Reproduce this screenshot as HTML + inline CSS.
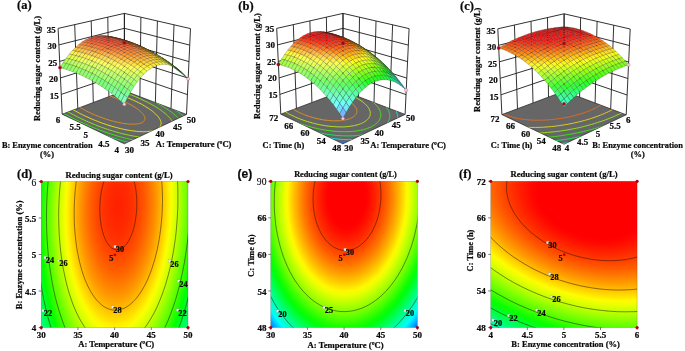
<!DOCTYPE html>
<html><head><meta charset="utf-8"><title>Response surface plots</title>
<style>html,body{margin:0;padding:0;background:#fff}svg{display:block;will-change:transform}text{stroke:#0a0a0a;stroke-width:.22px}</style></head>
<body>
<svg width="685" height="351" viewBox="0 0 685 351" font-weight="bold" fill="#0a0a0a">
<defs></defs>
<rect width="685" height="351" fill="#fff"/>
<clipPath id="ba"><path d="M124.3 143.8L186.5 114.4L124.4 90.8L62.2 114.2Z"/></clipPath>
<path d="M124.3 143.8L186.5 114.4L124.4 90.8L62.2 114.2Z" fill="#666666" stroke="#222" stroke-width="0.7"/>
<g clip-path="url(#ba)" fill="none" stroke-width="1.0">
<path stroke="#1ee09e" d="M193.5 146.9 L192.1 147.5 L190.5 148.2 L188.9 148.7 L187.1 149.2 L185.3 149.7 L183.3 150.1 L181.3 150.5 L179.1 150.7 L176.9 151.0 L174.6 151.1 L172.2 151.2 L169.7 151.3 L167.1 151.2 L164.5 151.2 L161.8 151.0 L159.0 150.8 L156.2 150.5 L153.3 150.2 L150.3 149.8 L147.3 149.3 L144.3 148.8 L141.2 148.2 L138.0 147.6 L134.8 146.9 L131.6 146.1 L128.3 145.3 L125.0 144.4 L121.7 143.5 L118.4 142.5 L115.0 141.4 L111.7 140.4 L108.3 139.2 L104.9 138.0 L101.6 136.8 L98.2 135.5 L94.8 134.2 L91.5 132.9 L88.2 131.5 L84.9 130.0 L81.6 128.6 L78.3 127.1 L75.1 125.6 L71.9 124.0 L68.8 122.5 L65.7 120.9 L62.6 119.3 L59.6 117.7 L56.7 116.1 L53.8 114.5 L51.0 112.8 L48.2 111.2 L45.6 109.5 L43.0 107.9 L40.4 106.3 L38.0 104.7 L35.6 103.0 L33.3 101.4 L31.1 99.8 L29.0 98.3 L27.0 96.7 L25.1 95.2 L23.3 93.7 L21.5 92.2 L19.9 90.7 L18.4 89.3 L17.0 87.9 L15.7 86.6 L14.5 85.2 L13.4 83.9 L12.4 82.7 L11.6 81.5 L10.9 80.3 L10.2 79.1 L9.7 78.1 L9.3 77.0 L9.1 76.0 L8.9 75.0 L8.9 74.1 L8.9 73.3 L9.1 72.4 L9.4 71.7 L9.9 70.9 L10.4 70.2 L11.1 69.6 L11.9 69.0 L12.7 68.5 L13.7 68.0 L14.9 67.6 L16.1 67.2 L17.4 66.8 L18.9 66.5 L20.4 66.3 L22.1 66.1 L23.8 65.9 L25.7 65.8 L27.6 65.8 L29.7 65.8 L31.8 65.8 L34.0 65.9 L36.3 66.0 L38.7 66.1 L41.2 66.3 L43.8 66.6 L46.4 66.8 L49.1 67.2 L51.9 67.5 L54.7 67.9 L57.6 68.3 L60.6 68.8 L63.6 69.3 L66.7 69.9 L69.8 70.4 L72.9 71.0 L76.1 71.7 L79.3 72.4 L82.6 73.1 L85.9 73.8 L89.2 74.6 L92.5 75.4 L95.9 76.2 L99.3 77.1 L102.6 78.0 L106.0 78.9 L109.4 79.8 L112.7 80.8 L116.1 81.8 L119.4 82.8 L122.8 83.8 L126.1 84.9 L129.3 86.0 L132.6 87.1 L135.8 88.3 L139.0 89.4 L142.1 90.6 L145.2 91.8 L148.3 93.0 L151.3 94.2 L154.2 95.5 L157.1 96.8 L159.9 98.0 L162.7 99.3 L165.4 100.6 L168.0 102.0 L170.5 103.3 L173.0 104.7 L175.3 106.0 L177.6 107.4 L179.8 108.8 L181.9 110.1 L183.9 111.5 L185.8 112.9 L187.7 114.3 L189.4 115.7 L191.0 117.1 L192.5 118.4 L193.9 119.8 L195.2 121.2 L196.4 122.6 L197.5 123.9 L198.5 125.3 L199.3 126.6 L200.1 127.9 L200.7 129.2 L201.2 130.5 L201.6 131.7 L201.9 133.0 L202.0 134.2 L202.1 135.4 L202.0 136.5 L201.8 137.7 L201.5 138.8 L201.1 139.8 L200.5 140.9 L199.8 141.8 L199.1 142.8 L198.2 143.7 L197.2 144.6 L196.1 145.4 L194.8 146.1 L193.5 146.9Z"/>
<path stroke="#1ee04d" d="M185.9 143.4 L184.6 144.0 L183.2 144.5 L181.7 145.0 L180.1 145.5 L178.4 145.9 L176.6 146.2 L174.7 146.5 L172.8 146.8 L170.8 147.0 L168.6 147.1 L166.4 147.2 L164.2 147.2 L161.8 147.2 L159.4 147.1 L157.0 147.0 L154.4 146.8 L151.8 146.5 L149.2 146.2 L146.5 145.8 L143.7 145.4 L140.9 144.9 L138.1 144.4 L135.2 143.8 L132.3 143.2 L129.3 142.5 L126.3 141.7 L123.3 140.9 L120.3 140.1 L117.3 139.2 L114.2 138.2 L111.1 137.3 L108.1 136.2 L105.0 135.1 L101.9 134.0 L98.8 132.9 L95.7 131.7 L92.7 130.5 L89.6 129.2 L86.6 127.9 L83.6 126.6 L80.7 125.3 L77.7 123.9 L74.8 122.5 L71.9 121.1 L69.1 119.7 L66.3 118.2 L63.6 116.8 L60.9 115.3 L58.3 113.8 L55.7 112.3 L53.2 110.9 L50.7 109.4 L48.3 107.9 L46.0 106.4 L43.8 104.9 L41.6 103.5 L39.5 102.0 L37.5 100.6 L35.6 99.1 L33.7 97.7 L32.0 96.3 L30.3 95.0 L28.7 93.6 L27.3 92.3 L25.9 91.0 L24.6 89.7 L23.4 88.5 L22.3 87.2 L21.3 86.1 L20.4 84.9 L19.7 83.8 L19.0 82.7 L18.4 81.7 L18.0 80.7 L17.6 79.7 L17.3 78.8 L17.2 77.9 L17.2 77.0 L17.2 76.2 L17.4 75.5 L17.7 74.7 L18.1 74.1 L18.6 73.4 L19.2 72.8 L19.9 72.3 L20.7 71.8 L21.6 71.3 L22.7 70.9 L23.8 70.5 L25.0 70.2 L26.3 69.9 L27.7 69.7 L29.2 69.5 L30.8 69.3 L32.5 69.2 L34.3 69.2 L36.2 69.1 L38.1 69.1 L40.2 69.2 L42.3 69.3 L44.5 69.4 L46.7 69.6 L49.1 69.8 L51.5 70.0 L54.0 70.3 L56.5 70.6 L59.1 71.0 L61.7 71.4 L64.4 71.8 L67.2 72.3 L70.0 72.8 L72.8 73.3 L75.7 73.9 L78.6 74.4 L81.6 75.1 L84.6 75.7 L87.6 76.4 L90.6 77.1 L93.7 77.9 L96.7 78.6 L99.8 79.4 L102.9 80.2 L105.9 81.1 L109.0 82.0 L112.1 82.9 L115.2 83.8 L118.2 84.7 L121.3 85.7 L124.3 86.7 L127.3 87.7 L130.3 88.7 L133.2 89.8 L136.1 90.8 L139.0 91.9 L141.8 93.0 L144.6 94.2 L147.3 95.3 L150.0 96.5 L152.7 97.7 L155.2 98.8 L157.8 100.0 L160.2 101.2 L162.6 102.5 L164.9 103.7 L167.1 104.9 L169.3 106.2 L171.4 107.5 L173.4 108.7 L175.3 110.0 L177.2 111.3 L178.9 112.5 L180.6 113.8 L182.2 115.1 L183.6 116.3 L185.0 117.6 L186.3 118.9 L187.5 120.1 L188.6 121.4 L189.6 122.6 L190.5 123.8 L191.3 125.0 L191.9 126.2 L192.5 127.4 L193.0 128.6 L193.3 129.7 L193.6 130.8 L193.7 131.9 L193.8 133.0 L193.7 134.1 L193.5 135.1 L193.2 136.1 L192.8 137.0 L192.3 138.0 L191.7 138.8 L191.0 139.7 L190.2 140.5 L189.3 141.3 L188.3 142.0 L187.1 142.7 L185.9 143.4Z"/>
<path stroke="#3ee01e" d="M177.6 139.5 L176.4 140.0 L175.1 140.5 L173.8 140.9 L172.3 141.3 L170.8 141.7 L169.2 142.0 L167.5 142.2 L165.8 142.4 L164.0 142.6 L162.1 142.7 L160.1 142.8 L158.1 142.8 L156.0 142.8 L153.8 142.7 L151.6 142.5 L149.3 142.4 L147.0 142.1 L144.6 141.9 L142.2 141.5 L139.8 141.1 L137.2 140.7 L134.7 140.2 L132.1 139.7 L129.5 139.1 L126.8 138.5 L124.2 137.8 L121.5 137.1 L118.8 136.4 L116.0 135.6 L113.3 134.7 L110.5 133.9 L107.8 133.0 L105.0 132.0 L102.3 131.0 L99.5 130.0 L96.8 128.9 L94.0 127.9 L91.3 126.7 L88.6 125.6 L85.9 124.4 L83.2 123.2 L80.6 122.0 L78.0 120.8 L75.4 119.6 L72.9 118.3 L70.4 117.0 L67.9 115.7 L65.5 114.4 L63.2 113.1 L60.9 111.8 L58.6 110.5 L56.4 109.2 L54.3 107.9 L52.2 106.5 L50.2 105.2 L48.2 103.9 L46.4 102.6 L44.6 101.4 L42.8 100.1 L41.2 98.8 L39.6 97.6 L38.1 96.3 L36.7 95.1 L35.4 94.0 L34.2 92.8 L33.0 91.6 L31.9 90.5 L31.0 89.4 L30.1 88.4 L29.3 87.3 L28.6 86.3 L28.0 85.4 L27.5 84.4 L27.1 83.5 L26.7 82.6 L26.5 81.8 L26.4 81.0 L26.3 80.2 L26.4 79.5 L26.6 78.8 L26.8 78.1 L27.2 77.5 L27.6 76.9 L28.2 76.4 L28.8 75.9 L29.5 75.4 L30.3 75.0 L31.3 74.6 L32.3 74.3 L33.4 73.9 L34.5 73.7 L35.8 73.4 L37.2 73.3 L38.6 73.1 L40.1 73.0 L41.7 72.9 L43.4 72.9 L45.1 72.9 L47.0 72.9 L48.9 73.0 L50.8 73.1 L52.8 73.2 L54.9 73.4 L57.1 73.6 L59.3 73.9 L61.6 74.1 L63.9 74.5 L66.3 74.8 L68.7 75.2 L71.2 75.6 L73.7 76.0 L76.2 76.5 L78.8 77.0 L81.4 77.5 L84.1 78.1 L86.7 78.7 L89.4 79.3 L92.2 80.0 L94.9 80.6 L97.6 81.3 L100.4 82.0 L103.1 82.8 L105.9 83.6 L108.7 84.4 L111.4 85.2 L114.2 86.0 L116.9 86.9 L119.6 87.7 L122.3 88.6 L125.0 89.6 L127.7 90.5 L130.3 91.5 L132.9 92.4 L135.5 93.4 L138.0 94.4 L140.5 95.5 L143.0 96.5 L145.4 97.6 L147.8 98.6 L150.1 99.7 L152.3 100.8 L154.5 101.9 L156.7 103.0 L158.7 104.1 L160.7 105.2 L162.7 106.4 L164.5 107.5 L166.3 108.6 L168.1 109.8 L169.7 110.9 L171.3 112.1 L172.8 113.2 L174.2 114.4 L175.5 115.5 L176.8 116.6 L177.9 117.8 L179.0 118.9 L180.0 120.0 L180.8 121.1 L181.6 122.2 L182.3 123.3 L182.9 124.4 L183.5 125.4 L183.9 126.4 L184.2 127.5 L184.4 128.5 L184.5 129.4 L184.6 130.4 L184.5 131.3 L184.4 132.2 L184.1 133.1 L183.7 133.9 L183.3 134.7 L182.8 135.5 L182.1 136.3 L181.4 137.0 L180.6 137.7 L179.7 138.3 L178.7 138.9 L177.6 139.5Z"/>
<path stroke="#8de01e" d="M168.1 135.1 L167.1 135.5 L166.0 136.0 L164.8 136.3 L163.5 136.6 L162.2 136.9 L160.8 137.2 L159.4 137.4 L157.9 137.6 L156.3 137.7 L154.6 137.8 L152.9 137.8 L151.2 137.8 L149.3 137.8 L147.5 137.7 L145.5 137.6 L143.6 137.4 L141.6 137.2 L139.5 137.0 L137.4 136.7 L135.2 136.4 L133.1 136.0 L130.9 135.6 L128.6 135.1 L126.3 134.6 L124.0 134.1 L121.7 133.5 L119.4 132.9 L117.0 132.2 L114.6 131.6 L112.3 130.8 L109.9 130.1 L107.5 129.3 L105.1 128.5 L102.7 127.6 L100.3 126.8 L97.9 125.9 L95.5 124.9 L93.2 124.0 L90.8 123.0 L88.5 122.0 L86.2 121.0 L83.9 119.9 L81.6 118.9 L79.4 117.8 L77.2 116.7 L75.0 115.6 L72.9 114.5 L70.8 113.4 L68.7 112.3 L66.7 111.2 L64.8 110.0 L62.8 108.9 L61.0 107.8 L59.2 106.7 L57.4 105.5 L55.8 104.4 L54.1 103.3 L52.6 102.2 L51.1 101.1 L49.6 100.0 L48.3 98.9 L47.0 97.9 L45.8 96.8 L44.6 95.8 L43.5 94.8 L42.5 93.8 L41.6 92.8 L40.7 91.9 L40.0 90.9 L39.3 90.0 L38.7 89.2 L38.2 88.3 L37.7 87.5 L37.4 86.7 L37.1 85.9 L36.9 85.2 L36.8 84.5 L36.7 83.8 L36.8 83.1 L36.9 82.5 L37.2 81.9 L37.5 81.4 L37.8 80.9 L38.3 80.4 L38.9 79.9 L39.5 79.5 L40.2 79.1 L41.0 78.8 L41.9 78.5 L42.8 78.2 L43.9 77.9 L45.0 77.7 L46.1 77.5 L47.4 77.4 L48.7 77.3 L50.1 77.2 L51.5 77.1 L53.1 77.1 L54.6 77.2 L56.3 77.2 L58.0 77.3 L59.8 77.4 L61.6 77.6 L63.4 77.7 L65.4 77.9 L67.3 78.2 L69.4 78.4 L71.4 78.7 L73.5 79.1 L75.7 79.4 L77.9 79.8 L80.1 80.2 L82.3 80.7 L84.6 81.1 L86.9 81.6 L89.2 82.1 L91.5 82.7 L93.9 83.2 L96.3 83.8 L98.7 84.4 L101.0 85.1 L103.4 85.7 L105.8 86.4 L108.2 87.1 L110.6 87.8 L113.0 88.6 L115.4 89.3 L117.8 90.1 L120.1 90.9 L122.5 91.7 L124.8 92.5 L127.1 93.4 L129.3 94.3 L131.6 95.1 L133.8 96.0 L135.9 96.9 L138.1 97.8 L140.2 98.8 L142.2 99.7 L144.2 100.7 L146.2 101.6 L148.1 102.6 L149.9 103.6 L151.7 104.5 L153.5 105.5 L155.2 106.5 L156.8 107.5 L158.4 108.5 L159.8 109.5 L161.3 110.5 L162.6 111.5 L163.9 112.5 L165.2 113.5 L166.3 114.5 L167.4 115.5 L168.4 116.5 L169.3 117.5 L170.2 118.4 L170.9 119.4 L171.6 120.3 L172.2 121.3 L172.8 122.2 L173.2 123.1 L173.6 124.0 L173.8 124.9 L174.0 125.7 L174.2 126.6 L174.2 127.4 L174.1 128.2 L174.0 128.9 L173.8 129.7 L173.5 130.4 L173.1 131.1 L172.6 131.8 L172.1 132.4 L171.4 133.0 L170.7 133.6 L169.9 134.1 L169.0 134.6 L168.1 135.1Z"/>
<path stroke="#e0e01e" d="M156.2 129.6 L155.3 130.0 L154.4 130.3 L153.5 130.5 L152.5 130.8 L151.4 131.0 L150.3 131.2 L149.1 131.4 L147.9 131.5 L146.6 131.6 L145.3 131.7 L143.9 131.7 L142.5 131.7 L141.0 131.6 L139.5 131.6 L137.9 131.5 L136.3 131.3 L134.7 131.1 L133.0 130.9 L131.3 130.7 L129.6 130.4 L127.8 130.1 L126.0 129.8 L124.2 129.4 L122.4 129.0 L120.5 128.6 L118.6 128.1 L116.7 127.6 L114.8 127.1 L112.9 126.6 L111.0 126.0 L109.0 125.4 L107.1 124.8 L105.2 124.1 L103.2 123.5 L101.3 122.8 L99.3 122.0 L97.4 121.3 L95.5 120.5 L93.6 119.8 L91.7 119.0 L89.8 118.2 L88.0 117.3 L86.1 116.5 L84.3 115.6 L82.5 114.8 L80.8 113.9 L79.1 113.0 L77.4 112.1 L75.7 111.2 L74.1 110.3 L72.5 109.4 L71.0 108.5 L69.5 107.6 L68.0 106.7 L66.6 105.8 L65.2 104.9 L63.9 104.0 L62.6 103.2 L61.4 102.3 L60.3 101.4 L59.2 100.5 L58.1 99.7 L57.1 98.8 L56.2 98.0 L55.3 97.2 L54.5 96.4 L53.8 95.6 L53.1 94.8 L52.4 94.1 L51.9 93.3 L51.4 92.6 L51.0 91.9 L50.6 91.3 L50.3 90.6 L50.1 90.0 L49.9 89.4 L49.8 88.8 L49.8 88.2 L49.9 87.7 L50.0 87.2 L50.2 86.7 L50.4 86.2 L50.7 85.8 L51.1 85.4 L51.5 85.0 L52.1 84.7 L52.6 84.3 L53.3 84.0 L54.0 83.8 L54.8 83.5 L55.6 83.3 L56.5 83.1 L57.4 83.0 L58.4 82.8 L59.5 82.7 L60.6 82.6 L61.8 82.6 L63.0 82.6 L64.3 82.6 L65.6 82.6 L67.0 82.7 L68.5 82.7 L69.9 82.9 L71.4 83.0 L73.0 83.2 L74.6 83.3 L76.2 83.6 L77.9 83.8 L79.6 84.1 L81.3 84.3 L83.1 84.6 L84.9 85.0 L86.7 85.3 L88.6 85.7 L90.4 86.1 L92.3 86.5 L94.2 87.0 L96.1 87.4 L98.0 87.9 L99.9 88.4 L101.9 89.0 L103.8 89.5 L105.8 90.1 L107.7 90.6 L109.6 91.2 L111.6 91.8 L113.5 92.5 L115.4 93.1 L117.3 93.8 L119.2 94.4 L121.1 95.1 L122.9 95.8 L124.8 96.5 L126.6 97.3 L128.4 98.0 L130.1 98.8 L131.9 99.5 L133.5 100.3 L135.2 101.1 L136.8 101.8 L138.4 102.6 L140.0 103.4 L141.5 104.2 L142.9 105.0 L144.3 105.8 L145.7 106.7 L147.0 107.5 L148.3 108.3 L149.5 109.1 L150.7 109.9 L151.8 110.7 L152.8 111.5 L153.8 112.4 L154.7 113.2 L155.6 114.0 L156.4 114.8 L157.2 115.6 L157.9 116.3 L158.5 117.1 L159.0 117.9 L159.5 118.6 L160.0 119.4 L160.3 120.1 L160.6 120.8 L160.8 121.5 L161.0 122.2 L161.1 122.9 L161.1 123.5 L161.1 124.1 L160.9 124.8 L160.8 125.3 L160.5 125.9 L160.2 126.5 L159.8 127.0 L159.4 127.5 L158.9 128.0 L158.3 128.4 L157.6 128.8 L156.9 129.2 L156.2 129.6Z"/>
<path stroke="#e08c1e" d="M141.5 122.9 L140.9 123.1 L140.2 123.3 L139.6 123.5 L138.8 123.6 L138.1 123.8 L137.3 123.9 L136.4 124.0 L135.6 124.1 L134.7 124.1 L133.7 124.2 L132.7 124.2 L131.7 124.2 L130.7 124.1 L129.6 124.1 L128.5 124.0 L127.4 123.9 L126.2 123.8 L125.0 123.6 L123.8 123.5 L122.6 123.3 L121.3 123.0 L120.1 122.8 L118.8 122.5 L117.5 122.3 L116.1 122.0 L114.8 121.6 L113.5 121.3 L112.1 120.9 L110.7 120.6 L109.4 120.2 L108.0 119.7 L106.6 119.3 L105.2 118.9 L103.9 118.4 L102.5 117.9 L101.1 117.4 L99.7 116.9 L98.4 116.4 L97.0 115.8 L95.7 115.3 L94.4 114.7 L93.0 114.1 L91.7 113.6 L90.5 113.0 L89.2 112.4 L88.0 111.8 L86.7 111.1 L85.5 110.5 L84.3 109.9 L83.2 109.3 L82.1 108.6 L81.0 108.0 L79.9 107.4 L78.9 106.8 L77.9 106.1 L76.9 105.5 L76.0 104.9 L75.1 104.2 L74.2 103.6 L73.4 103.0 L72.6 102.4 L71.9 101.8 L71.1 101.2 L70.5 100.6 L69.9 100.0 L69.3 99.5 L68.8 98.9 L68.3 98.4 L67.8 97.8 L67.4 97.3 L67.1 96.8 L66.8 96.3 L66.5 95.8 L66.3 95.3 L66.2 94.9 L66.0 94.5 L66.0 94.0 L66.0 93.6 L66.0 93.2 L66.1 92.9 L66.2 92.5 L66.4 92.2 L66.6 91.8 L66.9 91.5 L67.2 91.3 L67.6 91.0 L68.0 90.8 L68.4 90.5 L68.9 90.3 L69.5 90.1 L70.1 90.0 L70.7 89.8 L71.4 89.7 L72.1 89.6 L72.8 89.5 L73.6 89.4 L74.5 89.4 L75.3 89.4 L76.3 89.4 L77.2 89.4 L78.2 89.4 L79.2 89.5 L80.2 89.5 L81.3 89.6 L82.4 89.7 L83.6 89.9 L84.7 90.0 L85.9 90.2 L87.1 90.3 L88.3 90.6 L89.6 90.8 L90.9 91.0 L92.2 91.3 L93.5 91.5 L94.8 91.8 L96.1 92.1 L97.5 92.4 L98.8 92.8 L100.2 93.1 L101.5 93.5 L102.9 93.9 L104.3 94.3 L105.7 94.7 L107.1 95.1 L108.4 95.5 L109.8 96.0 L111.2 96.4 L112.5 96.9 L113.9 97.4 L115.2 97.9 L116.6 98.4 L117.9 98.9 L119.2 99.4 L120.5 99.9 L121.7 100.5 L123.0 101.0 L124.2 101.5 L125.4 102.1 L126.6 102.7 L127.7 103.2 L128.8 103.8 L129.9 104.4 L131.0 105.0 L132.0 105.5 L133.1 106.1 L134.0 106.7 L135.0 107.3 L135.9 107.9 L136.7 108.5 L137.5 109.1 L138.3 109.6 L139.1 110.2 L139.8 110.8 L140.4 111.4 L141.1 112.0 L141.6 112.5 L142.2 113.1 L142.6 113.6 L143.1 114.2 L143.5 114.7 L143.8 115.2 L144.1 115.8 L144.4 116.3 L144.6 116.8 L144.8 117.3 L144.9 117.7 L144.9 118.2 L145.0 118.7 L144.9 119.1 L144.8 119.5 L144.7 119.9 L144.5 120.3 L144.3 120.7 L144.0 121.1 L143.7 121.4 L143.4 121.7 L143.0 122.0 L142.5 122.3 L142.0 122.6 L141.5 122.9Z"/>
</g>
<path d="M62.2 114.2L58.1 28.4M186.5 114.4L190.5 28.6M77.8 108.4L74.7 24.6M171.0 108.5L174.0 24.8M93.3 102.5L91.2 20.9M155.4 102.6L157.4 21.0M108.9 96.6L107.8 17.1M139.9 96.7L140.9 17.2M124.4 90.8L124.4 13.4M124.4 90.8L124.4 13.4M61.3 94.4L124.4 72.9L187.4 94.6M60.5 77.9L124.4 58.1L188.2 78.1M59.7 61.4L124.4 43.2L189.0 61.6M58.9 44.9L124.4 28.3L189.7 45.1M58.1 28.4L124.4 13.4L190.5 28.6" fill="none" stroke="#1c1c1c" stroke-width="0.9"/>
<g stroke="#15150a" stroke-opacity="0.52" stroke-width="0.38" stroke-linejoin="round">
<polygon points="124.4,42.6 127.6,44.8 124.4,43.9 121.2,41.8" fill="#6d8c37"/>
<polygon points="121.1,40.6 124.4,42.6 121.2,41.8 117.9,39.9" fill="#8e9937"/>
<polygon points="127.6,43.5 130.9,45.8 127.6,44.8 124.4,42.6" fill="#6c8b37"/>
<polygon points="117.9,39.0 121.1,40.6 117.9,39.9 114.6,38.4" fill="#a89b37"/>
<polygon points="130.9,44.5 134.1,46.9 130.9,45.8 127.6,43.5" fill="#6c8b37"/>
<polygon points="124.4,41.5 127.6,43.5 124.4,42.6 121.1,40.6" fill="#8e9937"/>
<polygon points="114.6,37.8 117.9,39.0 114.6,38.4 111.4,37.1" fill="#b88f37"/>
<polygon points="121.1,39.8 124.4,41.5 121.1,40.6 117.9,39.0" fill="#a89a37"/>
<polygon points="127.6,42.4 130.9,44.5 127.6,43.5 124.4,41.5" fill="#8d9837"/>
<polygon points="134.1,45.6 137.3,48.0 134.1,46.9 130.9,44.5" fill="#6a8a37"/>
<polygon points="111.3,36.8 114.6,37.8 111.4,37.1 108.1,36.3" fill="#ca8237"/>
<polygon points="117.9,38.5 121.1,39.8 117.9,39.0 114.6,37.8" fill="#b88e37"/>
<polygon points="124.4,40.7 127.6,42.4 124.4,41.5 121.1,39.8" fill="#a79a37"/>
<polygon points="130.9,43.4 134.1,45.6 130.9,44.5 127.6,42.4" fill="#8c9837"/>
<polygon points="137.3,46.7 140.5,49.3 137.3,48.0 134.1,45.6" fill="#688a37"/>
<polygon points="108.0,36.3 111.3,36.8 108.1,36.3 104.8,35.7" fill="#dd7437"/>
<polygon points="121.1,39.3 124.4,40.7 121.1,39.8 117.9,38.5" fill="#b88e37"/>
<polygon points="127.6,41.6 130.9,43.4 127.6,42.4 124.4,40.7" fill="#a79b37"/>
<polygon points="140.6,48.0 143.7,50.6 140.5,49.3 137.3,46.7" fill="#668a37"/>
<polygon points="114.6,37.5 117.9,38.5 114.6,37.8 111.3,36.8" fill="#ca8137"/>
<polygon points="134.1,44.5 137.3,46.7 134.1,45.6 130.9,43.4" fill="#8a9837"/>
<polygon points="104.8,36.1 108.0,36.3 104.8,35.7 101.5,35.6" fill="#ea6537"/>
<polygon points="111.3,36.9 114.6,37.5 111.3,36.8 108.0,36.3" fill="#de7337"/>
<polygon points="117.8,38.3 121.1,39.3 117.9,38.5 114.6,37.5" fill="#cb8137"/>
<polygon points="124.4,40.2 127.6,41.6 124.4,40.7 121.1,39.3" fill="#b88f37"/>
<polygon points="130.9,42.7 134.1,44.5 130.9,43.4 127.6,41.6" fill="#a79d37"/>
<polygon points="137.3,45.7 140.6,48.0 137.3,46.7 134.1,44.5" fill="#889837"/>
<polygon points="143.8,49.3 147.0,52.0 143.7,50.6 140.6,48.0" fill="#648a37"/>
<polygon points="101.5,36.2 104.8,36.1 101.5,35.6 98.2,35.7" fill="#f15937"/>
<polygon points="114.6,37.6 117.8,38.3 114.6,37.5 111.3,36.9" fill="#df7337"/>
<polygon points="134.1,43.8 137.3,45.7 134.1,44.5 130.9,42.7" fill="#a8a037"/>
<polygon points="147.0,50.8 150.2,53.5 147.0,52.0 143.8,49.3" fill="#618a37"/>
<polygon points="108.0,36.7 111.3,36.9 108.0,36.3 104.8,36.1" fill="#ea6437"/>
<polygon points="121.1,39.1 124.4,40.2 121.1,39.3 117.8,38.3" fill="#cb8237"/>
<polygon points="127.6,41.2 130.9,42.7 127.6,41.6 124.4,40.2" fill="#b99137"/>
<polygon points="140.6,47.0 143.8,49.3 140.6,48.0 137.3,45.7" fill="#859837"/>
<polygon points="98.2,36.7 101.5,36.2 98.2,35.7 94.9,36.3" fill="#f85237"/>
<polygon points="104.7,36.8 108.0,36.7 104.8,36.1 101.5,36.2" fill="#f25737"/>
<polygon points="111.3,37.4 114.6,37.6 111.3,36.9 108.0,36.7" fill="#eb6337"/>
<polygon points="117.8,38.4 121.1,39.1 117.8,38.3 114.6,37.6" fill="#e07337"/>
<polygon points="124.4,40.1 127.6,41.2 124.4,40.2 121.1,39.1" fill="#cc8437"/>
<polygon points="130.9,42.3 134.1,43.8 130.9,42.7 127.6,41.2" fill="#b99437"/>
<polygon points="137.4,45.1 140.6,47.0 137.3,45.7 134.1,43.8" fill="#a8a337"/>
<polygon points="143.8,48.4 147.0,50.8 143.8,49.3 140.6,47.0" fill="#829937"/>
<polygon points="150.2,52.3 153.4,55.1 150.2,53.5 147.0,50.8" fill="#5d8b37"/>
<polygon points="94.9,37.6 98.2,36.7 94.9,36.3 91.7,37.2" fill="#ff5037"/>
<polygon points="101.5,37.3 104.7,36.8 101.5,36.2 98.2,36.7" fill="#f94f37"/>
<polygon points="108.0,37.5 111.3,37.4 108.0,36.7 104.7,36.8" fill="#f25637"/>
<polygon points="114.5,38.1 117.8,38.4 114.6,37.6 111.3,37.4" fill="#eb6337"/>
<polygon points="121.1,39.4 124.4,40.1 121.1,39.1 117.8,38.4" fill="#e17537"/>
<polygon points="127.6,41.2 130.9,42.3 127.6,41.2 124.4,40.1" fill="#cd8737"/>
<polygon points="134.1,43.5 137.4,45.1 134.1,43.8 130.9,42.3" fill="#ba9837"/>
<polygon points="140.6,46.4 143.8,48.4 140.6,47.0 137.4,45.1" fill="#a9a837"/>
<polygon points="147.0,49.9 150.2,52.3 147.0,50.8 143.8,48.4" fill="#7e9937"/>
<polygon points="153.4,53.9 156.6,56.8 153.4,55.1 150.2,52.3" fill="#598b37"/>
<polygon points="91.7,38.9 94.9,37.6 91.7,37.2 88.4,38.5" fill="#ff5437"/>
<polygon points="104.7,37.9 108.0,37.5 104.7,36.8 101.5,37.3" fill="#fa4e37"/>
<polygon points="111.3,38.2 114.5,38.1 111.3,37.4 108.0,37.5" fill="#f35637"/>
<polygon points="124.4,40.4 127.6,41.2 124.4,40.1 121.1,39.4" fill="#e27837"/>
<polygon points="137.4,44.8 140.6,46.4 137.4,45.1 134.1,43.5" fill="#bb9d37"/>
<polygon points="143.8,47.8 147.0,49.9 143.8,48.4 140.6,46.4" fill="#a6a937"/>
<polygon points="156.6,55.6 159.8,58.5 156.6,56.8 153.4,53.9" fill="#548c37"/>
<polygon points="98.2,38.2 101.5,37.3 98.2,36.7 94.9,37.6" fill="#ff4d37"/>
<polygon points="117.8,39.0 121.1,39.4 117.8,38.4 114.5,38.1" fill="#ec6537"/>
<polygon points="130.9,42.3 134.1,43.5 130.9,42.3 127.6,41.2" fill="#ce8b37"/>
<polygon points="150.3,51.5 153.4,53.9 150.2,52.3 147.0,49.9" fill="#7a9a37"/>
<polygon points="88.4,40.6 91.7,38.9 88.4,38.5 85.1,40.1" fill="#ff5f37"/>
<polygon points="94.9,39.5 98.2,38.2 94.9,37.6 91.7,38.9" fill="#ff5137"/>
<polygon points="101.4,38.8 104.7,37.9 101.5,37.3 98.2,38.2" fill="#ff4c37"/>
<polygon points="108.0,38.7 111.3,38.2 108.0,37.5 104.7,37.9" fill="#fb4e37"/>
<polygon points="114.5,39.1 117.8,39.0 114.5,38.1 111.3,38.2" fill="#f35737"/>
<polygon points="121.1,40.0 124.4,40.4 121.1,39.4 117.8,39.0" fill="#ec6737"/>
<polygon points="127.6,41.5 130.9,42.3 127.6,41.2 124.4,40.4" fill="#e37d37"/>
<polygon points="134.1,43.6 137.4,44.8 134.1,43.5 130.9,42.3" fill="#ce9037"/>
<polygon points="140.6,46.2 143.8,47.8 140.6,46.4 137.4,44.8" fill="#bba337"/>
<polygon points="147.1,49.4 150.3,51.5 147.0,49.9 143.8,47.8" fill="#a1aa37"/>
<polygon points="153.5,53.1 156.6,55.6 153.4,53.9 150.3,51.5" fill="#759a37"/>
<polygon points="159.8,57.5 163.0,60.4 159.8,58.5 156.6,55.6" fill="#4f8c37"/>
<polygon points="117.8,40.1 121.1,40.0 117.8,39.0 114.5,39.1" fill="#f45a37"/>
<polygon points="130.9,42.8 134.1,43.6 130.9,42.3 127.6,41.5" fill="#e48237"/>
<polygon points="85.2,42.6 88.4,40.6 85.1,40.1 81.9,42.1" fill="#ff6f37"/>
<polygon points="91.7,41.1 94.9,39.5 91.7,38.9 88.4,40.6" fill="#ff5b37"/>
<polygon points="98.2,40.1 101.4,38.8 98.2,38.2 94.9,39.5" fill="#ff4f37"/>
<polygon points="104.7,39.6 108.0,38.7 104.7,37.9 101.4,38.8" fill="#ff4b37"/>
<polygon points="111.3,39.6 114.5,39.1 111.3,38.2 108.0,38.7" fill="#fb4f37"/>
<polygon points="124.3,41.1 127.6,41.5 124.4,40.4 121.1,40.0" fill="#ed6b37"/>
<polygon points="137.4,44.9 140.6,46.2 137.4,44.8 134.1,43.6" fill="#cf9637"/>
<polygon points="143.9,47.7 147.1,49.4 143.8,47.8 140.6,46.2" fill="#bca937"/>
<polygon points="150.3,51.0 153.5,53.1 150.3,51.5 147.1,49.4" fill="#9cab37"/>
<polygon points="156.7,54.9 159.8,57.5 156.6,55.6 153.5,53.1" fill="#6f9b37"/>
<polygon points="163.0,59.4 166.1,62.4 163.0,60.4 159.8,57.5" fill="#498d37"/>
<polygon points="81.9,45.1 85.2,42.6 81.9,42.1 78.7,44.6" fill="#ff8737"/>
<polygon points="88.4,43.2 91.7,41.1 88.4,40.6 85.2,42.6" fill="#ff6c37"/>
<polygon points="94.9,41.8 98.2,40.1 94.9,39.5 91.7,41.1" fill="#ff5937"/>
<polygon points="101.4,40.9 104.7,39.6 101.4,38.8 98.2,40.1" fill="#ff4f37"/>
<polygon points="108.0,40.4 111.3,39.6 108.0,38.7 104.7,39.6" fill="#ff4c37"/>
<polygon points="114.5,40.5 117.8,40.1 114.5,39.1 111.3,39.6" fill="#fc5137"/>
<polygon points="121.1,41.2 124.3,41.1 121.1,40.0 117.8,40.1" fill="#f55d37"/>
<polygon points="127.6,42.4 130.9,42.8 127.6,41.5 124.3,41.1" fill="#ed7037"/>
<polygon points="134.1,44.1 137.4,44.9 134.1,43.6 130.9,42.8" fill="#e58837"/>
<polygon points="140.6,46.4 143.9,47.7 140.6,46.2 137.4,44.9" fill="#d19d37"/>
<polygon points="147.1,49.3 150.3,51.0 147.1,49.4 143.9,47.7" fill="#bdb137"/>
<polygon points="153.5,52.7 156.7,54.9 153.5,53.1 150.3,51.0" fill="#96ab37"/>
<polygon points="159.9,56.8 163.0,59.4 159.8,57.5 156.7,54.9" fill="#699b37"/>
<polygon points="166.2,61.4 169.3,64.4 166.1,62.4 163.0,59.4" fill="#438d37"/>
<polygon points="78.7,47.9 81.9,45.1 78.7,44.6 75.5,47.4" fill="#ffa437"/>
<polygon points="85.2,45.7 88.4,43.2 85.2,42.6 81.9,45.1" fill="#ff8337"/>
<polygon points="91.7,43.9 94.9,41.8 91.7,41.1 88.4,43.2" fill="#ff6a37"/>
<polygon points="98.2,42.6 101.4,40.9 98.2,40.1 94.9,41.8" fill="#ff5937"/>
<polygon points="111.2,41.4 114.5,40.5 111.3,39.6 108.0,40.4" fill="#ff4e37"/>
<polygon points="117.8,41.6 121.1,41.2 117.8,40.1 114.5,40.5" fill="#fd5437"/>
<polygon points="124.3,42.4 127.6,42.4 124.3,41.1 121.1,41.2" fill="#f56237"/>
<polygon points="130.9,43.7 134.1,44.1 130.9,42.8 127.6,42.4" fill="#ee7637"/>
<polygon points="137.4,45.6 140.6,46.4 137.4,44.9 134.1,44.1" fill="#e69037"/>
<polygon points="150.3,51.0 153.5,52.7 150.3,51.0 147.1,49.3" fill="#beb937"/>
<polygon points="156.8,54.6 159.9,56.8 156.7,54.9 153.5,52.7" fill="#8fac37"/>
<polygon points="163.1,58.7 166.2,61.4 163.0,59.4 159.9,56.8" fill="#629c37"/>
<polygon points="169.4,63.5 172.5,66.6 169.3,64.4 166.2,61.4" fill="#3c8e37"/>
<polygon points="104.7,41.7 108.0,40.4 104.7,39.6 101.4,40.9" fill="#ff4f37"/>
<polygon points="143.9,48.0 147.1,49.3 143.9,47.7 140.6,46.4" fill="#d1a537"/>
<polygon points="75.6,51.2 78.7,47.9 75.5,47.4 72.3,50.6" fill="#ffc837"/>
<polygon points="88.4,46.4 91.7,43.9 88.4,43.2 85.2,45.7" fill="#ff8137"/>
<polygon points="94.9,44.7 98.2,42.6 94.9,41.8 91.7,43.9" fill="#ff6937"/>
<polygon points="108.0,42.7 111.2,41.4 108.0,40.4 104.7,41.7" fill="#ff5137"/>
<polygon points="121.1,42.8 124.3,42.4 121.1,41.2 117.8,41.6" fill="#fe5937"/>
<polygon points="127.6,43.7 130.9,43.7 127.6,42.4 124.3,42.4" fill="#f66837"/>
<polygon points="140.6,47.1 143.9,48.0 140.6,46.4 137.4,45.6" fill="#e79837"/>
<polygon points="153.6,52.8 156.8,54.6 153.5,52.7 150.3,51.0" fill="#babe37"/>
<polygon points="160.0,56.5 163.1,58.7 159.9,56.8 156.8,54.6" fill="#87ac37"/>
<polygon points="172.6,65.7 175.6,68.8 172.5,66.6 169.4,63.5" fill="#378e3b"/>
<polygon points="82.0,48.6 85.2,45.7 81.9,45.1 78.7,47.9" fill="#ffa137"/>
<polygon points="101.4,43.4 104.7,41.7 101.4,40.9 98.2,42.6" fill="#ff5937"/>
<polygon points="114.5,42.5 117.8,41.6 114.5,40.5 111.2,41.4" fill="#ff5137"/>
<polygon points="134.1,45.1 137.4,45.6 134.1,44.1 130.9,43.7" fill="#ee7d37"/>
<polygon points="147.1,49.7 150.3,51.0 147.1,49.3 143.9,48.0" fill="#d2ae37"/>
<polygon points="166.3,60.8 169.4,63.5 166.2,61.4 163.1,58.7" fill="#5a9c37"/>
<polygon points="72.4,54.9 75.6,51.2 72.3,50.6 69.2,54.2" fill="#fff341"/>
<polygon points="78.8,51.9 82.0,48.6 78.7,47.9 75.6,51.2" fill="#ffc53a"/>
<polygon points="85.2,49.3 88.4,46.4 85.2,45.7 82.0,48.6" fill="#ff9e37"/>
<polygon points="91.7,47.2 94.9,44.7 91.7,43.9 88.4,46.4" fill="#ff8037"/>
<polygon points="98.2,45.6 101.4,43.4 98.2,42.6 94.9,44.7" fill="#ff6937"/>
<polygon points="104.7,44.4 108.0,42.7 104.7,41.7 101.4,43.4" fill="#ff5b37"/>
<polygon points="111.2,43.8 114.5,42.5 111.2,41.4 108.0,42.7" fill="#ff5437"/>
<polygon points="117.8,43.7 121.1,42.8 117.8,41.6 114.5,42.5" fill="#ff5537"/>
<polygon points="124.3,44.1 127.6,43.7 124.3,42.4 121.1,42.8" fill="#fe5f37"/>
<polygon points="130.9,45.1 134.1,45.1 130.9,43.7 127.6,43.7" fill="#f66f37"/>
<polygon points="137.4,46.6 140.6,47.1 137.4,45.6 134.1,45.1" fill="#ef8637"/>
<polygon points="143.9,48.7 147.1,49.7 143.9,48.0 140.6,47.1" fill="#e7a237"/>
<polygon points="150.4,51.4 153.6,52.8 150.3,51.0 147.1,49.7" fill="#d3b837"/>
<polygon points="156.8,54.6 160.0,56.5 156.8,54.6 153.6,52.8" fill="#b2bf37"/>
<polygon points="163.2,58.5 166.3,60.8 163.1,58.7 160.0,56.5" fill="#7eac37"/>
<polygon points="169.5,62.9 172.6,65.7 169.4,63.5 166.3,60.8" fill="#519c37"/>
<polygon points="175.7,68.0 178.8,71.2 175.6,68.8 172.6,65.7" fill="#378e43"/>
<polygon points="69.3,59.0 72.4,54.9 69.2,54.2 66.1,58.3" fill="#e0ff4b"/>
<polygon points="75.7,55.6 78.8,51.9 75.6,51.2 72.4,54.9" fill="#fff045"/>
<polygon points="82.1,52.7 85.2,49.3 82.0,48.6 78.8,51.9" fill="#ffc43e"/>
<polygon points="88.5,50.2 91.7,47.2 88.4,46.4 85.2,49.3" fill="#ff9d37"/>
<polygon points="95.0,48.1 98.2,45.6 94.9,44.7 91.7,47.2" fill="#ff8037"/>
<polygon points="101.5,46.6 104.7,44.4 101.4,43.4 98.2,45.6" fill="#ff6b37"/>
<polygon points="108.0,45.5 111.2,43.8 108.0,42.7 104.7,44.4" fill="#ff5d37"/>
<polygon points="114.5,44.9 117.8,43.7 114.5,42.5 111.2,43.8" fill="#ff5837"/>
<polygon points="121.1,44.9 124.3,44.1 121.1,42.8 117.8,43.7" fill="#ff5b37"/>
<polygon points="127.6,45.5 130.9,45.1 127.6,43.7 124.3,44.1" fill="#ff6637"/>
<polygon points="134.1,46.6 137.4,46.6 134.1,45.1 130.9,45.1" fill="#f77737"/>
<polygon points="140.6,48.3 143.9,48.7 140.6,47.1 137.4,46.6" fill="#ef8f37"/>
<polygon points="147.1,50.5 150.4,51.4 147.1,49.7 143.9,48.7" fill="#e7ac37"/>
<polygon points="153.6,53.2 156.8,54.6 153.6,52.8 150.4,51.4" fill="#d3c337"/>
<polygon points="160.0,56.6 163.2,58.5 160.0,56.5 156.8,54.6" fill="#a8bf37"/>
<polygon points="166.4,60.6 169.5,62.9 166.3,60.8 163.2,58.5" fill="#75ad37"/>
<polygon points="172.7,65.2 175.7,68.0 172.6,65.7 169.5,62.9" fill="#489d37"/>
<polygon points="178.9,70.4 181.9,73.7 178.8,71.2 175.7,68.0" fill="#378e4d"/>
<polygon points="66.2,63.5 69.3,59.0 66.1,58.3 63.0,62.7" fill="#b5ff53"/>
<polygon points="72.5,59.8 75.7,55.6 72.4,54.9 69.3,59.0" fill="#e4ff4f"/>
<polygon points="78.9,56.5 82.1,52.7 78.8,51.9 75.7,55.6" fill="#ffee49"/>
<polygon points="85.3,53.6 88.5,50.2 85.2,49.3 82.1,52.7" fill="#ffc442"/>
<polygon points="91.7,51.1 95.0,48.1 91.7,47.2 88.5,50.2" fill="#ff9e38"/>
<polygon points="98.2,49.2 101.5,46.6 98.2,45.6 95.0,48.1" fill="#ff8237"/>
<polygon points="104.7,47.7 108.0,45.5 104.7,44.4 101.5,46.6" fill="#ff6d37"/>
<polygon points="111.3,46.7 114.5,44.9 111.2,43.8 108.0,45.5" fill="#ff6137"/>
<polygon points="117.8,46.2 121.1,44.9 117.8,43.7 114.5,44.9" fill="#ff5d37"/>
<polygon points="124.3,46.4 127.6,45.5 124.3,44.1 121.1,44.9" fill="#ff6237"/>
<polygon points="130.9,47.0 134.1,46.6 130.9,45.1 127.6,45.5" fill="#ff6f37"/>
<polygon points="137.4,48.2 140.6,48.3 137.4,46.6 134.1,46.6" fill="#f78137"/>
<polygon points="143.9,50.0 147.1,50.5 143.9,48.7 140.6,48.3" fill="#ef9a37"/>
<polygon points="150.4,52.3 153.6,53.2 150.4,51.4 147.1,50.5" fill="#e7b837"/>
<polygon points="156.8,55.2 160.0,56.6 156.8,54.6 153.6,53.2" fill="#d3cf37"/>
<polygon points="163.2,58.7 166.4,60.6 163.2,58.5 160.0,56.6" fill="#9dbf37"/>
<polygon points="169.6,62.8 172.7,65.2 169.5,62.9 166.4,60.6" fill="#6aad37"/>
<polygon points="175.8,67.5 178.9,70.4 175.7,68.0 172.7,65.2" fill="#3e9d37"/>
<polygon points="182.0,72.9 185.0,76.2 181.9,73.7 178.9,70.4" fill="#378e56"/>
<polygon points="108.0,48.9 111.3,46.7 108.0,45.5 104.7,47.7" fill="#ff7137"/>
<polygon points="140.6,49.9 143.9,50.0 140.6,48.3 137.4,48.2" fill="#f88c37"/>
<polygon points="63.2,68.5 66.2,63.5 63.0,62.7 60.0,67.6" fill="#88ff5b"/>
<polygon points="69.4,64.4 72.5,59.8 69.3,59.0 66.2,63.5" fill="#b9ff57"/>
<polygon points="75.8,60.7 78.9,56.5 75.7,55.6 72.5,59.8" fill="#e6ff52"/>
<polygon points="82.1,57.5 85.3,53.6 82.1,52.7 78.9,56.5" fill="#ffee4c"/>
<polygon points="95.0,52.2 98.2,49.2 95.0,48.1 91.7,51.1" fill="#ffa13c"/>
<polygon points="101.5,50.3 104.7,47.7 101.5,46.6 98.2,49.2" fill="#ff8437"/>
<polygon points="114.5,48.0 117.8,46.2 114.5,44.9 111.3,46.7" fill="#ff6737"/>
<polygon points="134.1,48.6 137.4,48.2 134.1,46.6 130.9,47.0" fill="#ff7837"/>
<polygon points="147.1,51.8 150.4,52.3 147.1,50.5 143.9,50.0" fill="#efa537"/>
<polygon points="153.6,54.2 156.8,55.2 153.6,53.2 150.4,52.3" fill="#e7c537"/>
<polygon points="166.4,60.8 169.6,62.8 166.4,60.6 163.2,58.7" fill="#92bf37"/>
<polygon points="172.7,65.1 175.8,67.5 172.7,65.2 169.6,62.8" fill="#5fad37"/>
<polygon points="179.0,70.0 182.0,72.9 178.9,70.4 175.8,67.5" fill="#379d3b"/>
<polygon points="185.2,75.5 188.2,78.9 185.0,76.2 182.0,72.9" fill="#378e61"/>
<polygon points="88.5,54.6 91.7,51.1 88.5,50.2 85.3,53.6" fill="#ffc645"/>
<polygon points="121.1,47.7 124.3,46.4 121.1,44.9 117.8,46.2" fill="#ff6437"/>
<polygon points="127.6,47.9 130.9,47.0 127.6,45.5 124.3,46.4" fill="#ff6a37"/>
<polygon points="160.0,57.2 163.2,58.7 160.0,56.6 156.8,55.2" fill="#ccd437"/>
<polygon points="72.7,65.4 75.8,60.7 72.5,59.8 69.4,64.4" fill="#bcff5a"/>
<polygon points="91.8,55.7 95.0,52.2 91.7,51.1 88.5,54.6" fill="#ffc849"/>
<polygon points="104.8,51.5 108.0,48.9 104.7,47.7 101.5,50.3" fill="#ff8837"/>
<polygon points="111.3,50.2 114.5,48.0 111.3,46.7 108.0,48.9" fill="#ff7737"/>
<polygon points="137.4,50.3 140.6,49.9 137.4,48.2 134.1,48.6" fill="#ff8337"/>
<polygon points="143.9,51.7 147.1,51.8 143.9,50.0 140.6,49.9" fill="#f89837"/>
<polygon points="156.8,56.2 160.0,57.2 156.8,55.2 153.6,54.2" fill="#e8d337"/>
<polygon points="175.9,67.5 179.0,70.0 175.8,67.5 172.7,65.1" fill="#53ad37"/>
<polygon points="66.4,69.5 69.4,64.4 66.2,63.5 63.2,68.5" fill="#8dff5e"/>
<polygon points="79.0,61.8 82.1,57.5 78.9,56.5 75.8,60.7" fill="#e7ff55"/>
<polygon points="85.4,58.5 88.5,54.6 85.3,53.6 82.1,57.5" fill="#ffee50"/>
<polygon points="98.3,53.4 101.5,50.3 98.2,49.2 95.0,52.2" fill="#ffa53f"/>
<polygon points="117.8,49.4 121.1,47.7 117.8,46.2 114.5,48.0" fill="#ff6d37"/>
<polygon points="124.3,49.2 127.6,47.9 124.3,46.4 121.1,47.7" fill="#ff6c37"/>
<polygon points="130.9,49.5 134.1,48.6 130.9,47.0 127.6,47.9" fill="#ff7337"/>
<polygon points="150.4,53.6 153.6,54.2 150.4,52.3 147.1,51.8" fill="#f0b237"/>
<polygon points="163.2,59.3 166.4,60.8 163.2,58.7 160.0,57.2" fill="#bfd437"/>
<polygon points="169.6,63.1 172.7,65.1 169.6,62.8 166.4,60.8" fill="#86c037"/>
<polygon points="182.1,72.5 185.2,75.5 182.0,72.9 179.0,70.0" fill="#379d47"/>
<polygon points="69.6,70.6 72.7,65.4 69.4,64.4 66.4,69.5" fill="#91ff61"/>
<polygon points="75.9,66.5 79.0,61.8 75.8,60.7 72.7,65.4" fill="#beff5d"/>
<polygon points="88.6,59.7 91.8,55.7 88.5,54.6 85.4,58.5" fill="#fff053"/>
<polygon points="95.1,56.9 98.3,53.4 95.0,52.2 91.8,55.7" fill="#ffcb4c"/>
<polygon points="101.5,54.6 104.8,51.5 101.5,50.3 98.3,53.4" fill="#ffaa43"/>
<polygon points="108.0,52.9 111.3,50.2 108.0,48.9 104.8,51.5" fill="#ff8d37"/>
<polygon points="114.5,51.6 117.8,49.4 114.5,48.0 111.3,50.2" fill="#ff7d37"/>
<polygon points="121.1,50.9 124.3,49.2 121.1,47.7 117.8,49.4" fill="#ff7537"/>
<polygon points="127.6,50.8 130.9,49.5 127.6,47.9 124.3,49.2" fill="#ff7537"/>
<polygon points="134.1,51.1 137.4,50.3 134.1,48.6 130.9,49.5" fill="#ff7e37"/>
<polygon points="140.6,52.1 143.9,51.7 140.6,49.9 137.4,50.3" fill="#ff8f37"/>
<polygon points="147.1,53.6 150.4,53.6 147.1,51.8 143.9,51.7" fill="#f8a537"/>
<polygon points="153.6,55.6 156.8,56.2 153.6,54.2 150.4,53.6" fill="#f0c037"/>
<polygon points="160.1,58.3 163.2,59.3 160.0,57.2 156.8,56.2" fill="#e8e237"/>
<polygon points="172.8,65.4 175.9,67.5 172.7,65.1 169.6,63.1" fill="#79c037"/>
<polygon points="179.1,70.0 182.1,72.5 179.0,70.0 175.9,67.5" fill="#47ad37"/>
<polygon points="82.2,62.9 85.4,58.5 82.1,57.5 79.0,61.8" fill="#e8ff59"/>
<polygon points="166.5,61.5 169.6,63.1 166.4,60.8 163.2,59.3" fill="#b2d437"/>
<polygon points="72.8,71.8 75.9,66.5 72.7,65.4 69.6,70.6" fill="#93ff63"/>
<polygon points="79.1,67.7 82.2,62.9 79.0,61.8 75.9,66.5" fill="#bfff60"/>
<polygon points="85.5,64.1 88.6,59.7 85.4,58.5 82.2,62.9" fill="#e7ff5c"/>
<polygon points="91.9,60.9 95.1,56.9 91.8,55.7 88.6,59.7" fill="#fff256"/>
<polygon points="98.3,58.2 101.5,54.6 98.3,53.4 95.1,56.9" fill="#ffd04f"/>
<polygon points="104.8,56.0 108.0,52.9 104.8,51.5 101.5,54.6" fill="#ffb146"/>
<polygon points="111.3,54.3 114.5,51.6 111.3,50.2 108.0,52.9" fill="#ff953a"/>
<polygon points="117.8,53.2 121.1,50.9 117.8,49.4 114.5,51.6" fill="#ff8537"/>
<polygon points="124.3,52.6 127.6,50.8 124.3,49.2 121.1,50.9" fill="#ff7e37"/>
<polygon points="130.9,52.5 134.1,51.1 130.9,49.5 127.6,50.8" fill="#ff7f37"/>
<polygon points="137.4,52.9 140.6,52.1 137.4,50.3 134.1,51.1" fill="#ff8937"/>
<polygon points="143.9,53.9 147.1,53.6 143.9,51.7 140.6,52.1" fill="#ff9c37"/>
<polygon points="150.4,55.5 153.6,55.6 150.4,53.6 147.1,53.6" fill="#f8b337"/>
<polygon points="156.8,57.7 160.1,58.3 156.8,56.2 153.6,55.6" fill="#f0d037"/>
<polygon points="163.3,60.5 166.5,61.5 163.2,59.3 160.1,58.3" fill="#dee837"/>
<polygon points="169.6,63.9 172.8,65.4 169.6,63.1 166.5,61.5" fill="#a3d437"/>
<polygon points="176.0,67.9 179.1,70.0 175.9,67.5 172.8,65.4" fill="#6bc037"/>
<polygon points="82.3,69.0 85.5,64.1 82.2,62.9 79.1,67.7" fill="#bfff63"/>
<polygon points="95.1,62.3 98.3,58.2 95.1,56.9 91.9,60.9" fill="#fff659"/>
<polygon points="153.6,57.6 156.8,57.7 153.6,55.6 150.4,55.5" fill="#f9c337"/>
<polygon points="166.5,62.8 169.6,63.9 166.5,61.5 163.3,60.5" fill="#cee837"/>
<polygon points="76.0,73.0 79.1,67.7 75.9,66.5 72.8,71.8" fill="#95ff66"/>
<polygon points="88.7,65.4 91.9,60.9 88.6,59.7 85.5,64.1" fill="#e5ff5e"/>
<polygon points="101.6,59.6 104.8,56.0 101.5,54.6 98.3,58.2" fill="#ffd552"/>
<polygon points="108.0,57.5 111.3,54.3 108.0,52.9 104.8,56.0" fill="#ffb848"/>
<polygon points="114.5,55.9 117.8,53.2 114.5,51.6 111.3,54.3" fill="#ff9e3c"/>
<polygon points="121.1,54.8 124.3,52.6 121.1,50.9 117.8,53.2" fill="#ff8d37"/>
<polygon points="127.6,54.3 130.9,52.5 127.6,50.8 124.3,52.6" fill="#ff8837"/>
<polygon points="134.1,54.2 137.4,52.9 134.1,51.1 130.9,52.5" fill="#ff8b37"/>
<polygon points="140.6,54.8 143.9,53.9 140.6,52.1 137.4,52.9" fill="#ff9637"/>
<polygon points="147.1,55.9 150.4,55.5 147.1,53.6 143.9,53.9" fill="#ffaa37"/>
<polygon points="160.1,59.9 163.3,60.5 160.1,58.3 156.8,57.7" fill="#f0e037"/>
<polygon points="172.8,66.3 176.0,67.9 172.8,65.4 169.6,63.9" fill="#93d437"/>
<polygon points="79.3,74.4 82.3,69.0 79.1,67.7 76.0,73.0" fill="#95ff68"/>
<polygon points="85.6,70.4 88.7,65.4 85.5,64.1 82.3,69.0" fill="#beff65"/>
<polygon points="92.0,66.8 95.1,62.3 91.9,60.9 88.7,65.4" fill="#e2ff61"/>
<polygon points="98.4,63.7 101.6,59.6 98.3,58.2 95.1,62.3" fill="#fffa5c"/>
<polygon points="117.8,57.6 121.1,54.8 117.8,53.2 114.5,55.9" fill="#ffa73e"/>
<polygon points="124.3,56.5 127.6,54.3 124.3,52.6 121.1,54.8" fill="#ff9837"/>
<polygon points="130.8,56.1 134.1,54.2 130.9,52.5 127.6,54.3" fill="#ff9337"/>
<polygon points="150.4,57.9 153.6,57.6 150.4,55.5 147.1,55.9" fill="#ffba37"/>
<polygon points="156.8,59.7 160.1,59.9 156.8,57.7 153.6,57.6" fill="#f9d337"/>
<polygon points="163.3,62.1 166.5,62.8 163.3,60.5 160.1,59.9" fill="#eff037"/>
<polygon points="169.7,65.1 172.8,66.3 169.6,63.9 166.5,62.8" fill="#bde837"/>
<polygon points="104.8,61.2 108.0,57.5 104.8,56.0 101.6,59.6" fill="#ffdb55"/>
<polygon points="111.3,59.1 114.5,55.9 111.3,54.3 108.0,57.5" fill="#ffbf4b"/>
<polygon points="137.4,56.1 140.6,54.8 137.4,52.9 134.1,54.2" fill="#ff9837"/>
<polygon points="143.9,56.7 147.1,55.9 143.9,53.9 140.6,54.8" fill="#ffa437"/>
<polygon points="88.8,71.9 92.0,66.8 88.7,65.4 85.6,70.4" fill="#bcff68"/>
<polygon points="121.1,59.3 124.3,56.5 121.1,54.8 117.8,57.6" fill="#ffb240"/>
<polygon points="127.6,58.4 130.8,56.1 127.6,54.3 124.3,56.5" fill="#ffa337"/>
<polygon points="160.1,62.0 163.3,62.1 160.1,59.9 156.8,59.7" fill="#f9e537"/>
<polygon points="82.5,75.8 85.6,70.4 82.3,69.0 79.3,74.4" fill="#94ff6b"/>
<polygon points="95.2,68.3 98.4,63.7 95.1,62.3 92.0,66.8" fill="#dfff64"/>
<polygon points="101.6,65.3 104.8,61.2 101.6,59.6 98.4,63.7" fill="#feff5e"/>
<polygon points="108.1,62.8 111.3,59.1 108.0,57.5 104.8,61.2" fill="#ffe257"/>
<polygon points="114.6,60.8 117.8,57.6 114.5,55.9 111.3,59.1" fill="#ffc84d"/>
<polygon points="134.1,57.9 137.4,56.1 134.1,54.2 130.8,56.1" fill="#ffa037"/>
<polygon points="140.6,58.1 143.9,56.7 140.6,54.8 137.4,56.1" fill="#ffa537"/>
<polygon points="147.1,58.8 150.4,57.9 147.1,55.9 143.9,56.7" fill="#ffb437"/>
<polygon points="153.6,60.1 156.8,59.7 153.6,57.6 150.4,57.9" fill="#ffcb37"/>
<polygon points="166.5,64.5 169.7,65.1 166.5,62.8 163.3,62.1" fill="#ddf037"/>
<polygon points="85.7,77.4 88.8,71.9 85.6,70.4 82.5,75.8" fill="#93ff6d"/>
<polygon points="92.1,73.4 95.2,68.3 92.0,66.8 88.8,71.9" fill="#b9ff6a"/>
<polygon points="104.9,67.0 108.1,62.8 104.8,61.2 101.6,65.3" fill="#f8ff61"/>
<polygon points="111.3,64.5 114.6,60.8 111.3,59.1 108.1,62.8" fill="#ffea59"/>
<polygon points="117.8,62.6 121.1,59.3 117.8,57.6 114.6,60.8" fill="#ffd24f"/>
<polygon points="124.3,61.1 127.6,58.4 124.3,56.5 121.1,59.3" fill="#ffbd42"/>
<polygon points="130.8,60.3 134.1,57.9 130.8,56.1 127.6,58.4" fill="#ffaf37"/>
<polygon points="137.3,59.9 140.6,58.1 137.4,56.1 134.1,57.9" fill="#ffae37"/>
<polygon points="143.9,60.1 147.1,58.8 143.9,56.7 140.6,58.1" fill="#ffb537"/>
<polygon points="156.8,62.3 160.1,62.0 156.8,59.7 153.6,60.1" fill="#ffdd37"/>
<polygon points="163.3,64.3 166.5,64.5 163.3,62.1 160.1,62.0" fill="#f9f937"/>
<polygon points="98.4,70.0 101.6,65.3 98.4,63.7 95.2,68.3" fill="#daff66"/>
<polygon points="150.3,60.9 153.6,60.1 150.4,57.9 147.1,58.8" fill="#ffc437"/>
<polygon points="88.9,79.1 92.1,73.4 88.8,71.9 85.7,77.4" fill="#90ff6f"/>
<polygon points="95.3,75.1 98.4,70.0 95.2,68.3 92.1,73.4" fill="#b5ff6c"/>
<polygon points="101.7,71.7 104.9,67.0 101.6,65.3 98.4,70.0" fill="#d5ff68"/>
<polygon points="108.1,68.8 111.3,64.5 108.1,62.8 104.9,67.0" fill="#f2ff63"/>
<polygon points="114.6,66.4 117.8,62.6 114.6,60.8 111.3,64.5" fill="#fff35b"/>
<polygon points="121.1,64.5 124.3,61.1 121.1,59.3 117.8,62.6" fill="#ffdc51"/>
<polygon points="127.6,63.1 130.8,60.3 127.6,58.4 124.3,61.1" fill="#ffca44"/>
<polygon points="134.1,62.3 137.3,59.9 134.1,57.9 130.8,60.3" fill="#ffbd37"/>
<polygon points="140.6,62.0 143.9,60.1 140.6,58.1 137.3,59.9" fill="#ffbd37"/>
<polygon points="147.1,62.3 150.3,60.9 147.1,58.8 143.9,60.1" fill="#ffc537"/>
<polygon points="153.6,63.2 156.8,62.3 153.6,60.1 150.3,60.9" fill="#ffd637"/>
<polygon points="160.0,64.7 163.3,64.3 160.1,62.0 156.8,62.3" fill="#fff037"/>
<polygon points="92.2,80.8 95.3,75.1 92.1,73.4 88.9,79.1" fill="#8dff71"/>
<polygon points="98.5,76.9 101.7,71.7 98.4,70.0 95.3,75.1" fill="#b0ff6e"/>
<polygon points="104.9,73.5 108.1,68.8 104.9,67.0 101.7,71.7" fill="#cfff6a"/>
<polygon points="111.4,70.6 114.6,66.4 111.3,64.5 108.1,68.8" fill="#eaff64"/>
<polygon points="117.8,68.3 121.1,64.5 117.8,62.6 114.6,66.4" fill="#fffc5d"/>
<polygon points="124.3,66.4 127.6,63.1 124.3,61.1 121.1,64.5" fill="#ffe753"/>
<polygon points="130.8,65.1 134.1,62.3 130.8,60.3 127.6,63.1" fill="#ffd746"/>
<polygon points="137.3,64.4 140.6,62.0 137.3,59.9 134.1,62.3" fill="#ffcc37"/>
<polygon points="143.8,64.2 147.1,62.3 143.9,60.1 140.6,62.0" fill="#ffcd37"/>
<polygon points="150.3,64.5 153.6,63.2 150.3,60.9 147.1,62.3" fill="#ffd737"/>
<polygon points="156.8,65.5 160.0,64.7 156.8,62.3 153.6,63.2" fill="#ffe937"/>
<polygon points="108.2,75.5 111.4,70.6 108.1,68.8 104.9,73.5" fill="#c8ff6c"/>
<polygon points="114.6,72.6 117.8,68.3 114.6,66.4 111.4,70.6" fill="#e2ff66"/>
<polygon points="134.1,67.3 137.3,64.4 134.1,62.3 130.8,65.1" fill="#ffe547"/>
<polygon points="140.6,66.6 143.8,64.2 140.6,62.0 137.3,64.4" fill="#ffdc37"/>
<polygon points="95.4,82.7 98.5,76.9 95.3,75.1 92.2,80.8" fill="#89ff73"/>
<polygon points="101.8,78.8 104.9,73.5 101.7,71.7 98.5,76.9" fill="#abff70"/>
<polygon points="121.1,70.3 124.3,66.4 121.1,64.5 117.8,68.3" fill="#f8ff5f"/>
<polygon points="127.6,68.5 130.8,65.1 127.6,63.1 124.3,66.4" fill="#fff454"/>
<polygon points="147.1,66.4 150.3,64.5 147.1,62.3 143.8,64.2" fill="#ffdf37"/>
<polygon points="153.5,66.9 156.8,65.5 153.6,63.2 150.3,64.5" fill="#ffe937"/>
<polygon points="98.6,84.6 101.8,78.8 98.5,76.9 95.4,82.7" fill="#84ff75"/>
<polygon points="105.0,80.8 108.2,75.5 104.9,73.5 101.8,78.8" fill="#a4ff72"/>
<polygon points="111.4,77.5 114.6,72.6 111.4,70.6 108.2,75.5" fill="#c1ff6e"/>
<polygon points="117.8,74.7 121.1,70.3 117.8,68.3 114.6,72.6" fill="#d9ff68"/>
<polygon points="124.3,72.4 127.6,68.5 124.3,66.4 121.1,70.3" fill="#edff60"/>
<polygon points="130.8,70.7 134.1,67.3 130.8,65.1 127.6,68.5" fill="#feff56"/>
<polygon points="137.3,69.5 140.6,66.6 137.3,64.4 134.1,67.3" fill="#fff449"/>
<polygon points="143.8,68.9 147.1,66.4 143.8,64.2 140.6,66.6" fill="#ffee38"/>
<polygon points="150.3,68.8 153.5,66.9 150.3,64.5 147.1,66.4" fill="#fff137"/>
<polygon points="101.8,86.7 105.0,80.8 101.8,78.8 98.6,84.6" fill="#7eff76"/>
<polygon points="108.2,82.9 111.4,77.5 108.2,75.5 105.0,80.8" fill="#9dff74"/>
<polygon points="121.1,76.9 124.3,72.4 121.1,70.3 117.8,74.7" fill="#d0ff6a"/>
<polygon points="127.5,74.6 130.8,70.7 127.6,68.5 124.3,72.4" fill="#e2ff62"/>
<polygon points="140.5,71.8 143.8,68.9 140.6,66.6 137.3,69.5" fill="#faff4b"/>
<polygon points="147.0,71.3 150.3,68.8 147.1,66.4 143.8,68.9" fill="#feff3a"/>
<polygon points="114.6,79.6 117.8,74.7 114.6,72.6 111.4,77.5" fill="#b9ff70"/>
<polygon points="134.0,72.9 137.3,69.5 134.1,67.3 130.8,70.7" fill="#f1ff58"/>
<polygon points="105.1,88.9 108.2,82.9 105.0,80.8 101.8,86.7" fill="#78ff79"/>
<polygon points="117.9,81.9 121.1,76.9 117.8,74.7 114.6,79.6" fill="#b0ff71"/>
<polygon points="124.3,79.1 127.5,74.6 124.3,72.4 121.1,76.9" fill="#c5ff6c"/>
<polygon points="130.8,77.0 134.0,72.9 130.8,70.7 127.5,74.6" fill="#d7ff64"/>
<polygon points="143.7,74.2 147.0,71.3 143.8,68.9 140.5,71.8" fill="#eaff4c"/>
<polygon points="111.4,85.1 114.6,79.6 111.4,77.5 108.2,82.9" fill="#96ff75"/>
<polygon points="137.3,75.3 140.5,71.8 137.3,69.5 134.0,72.9" fill="#e3ff5a"/>
<polygon points="108.3,91.2 111.4,85.1 108.2,82.9 105.1,88.9" fill="#7aff83"/>
<polygon points="114.7,87.4 117.9,81.9 114.6,79.6 111.4,85.1" fill="#8dff77"/>
<polygon points="121.1,84.2 124.3,79.1 121.1,76.9 117.9,81.9" fill="#a6ff73"/>
<polygon points="127.5,81.5 130.8,77.0 127.5,74.6 124.3,79.1" fill="#baff6d"/>
<polygon points="134.0,79.4 137.3,75.3 134.0,72.9 130.8,77.0" fill="#caff66"/>
<polygon points="140.5,77.8 143.7,74.2 140.5,71.8 137.3,75.3" fill="#d5ff5b"/>
<polygon points="111.5,93.6 114.7,87.4 111.4,85.1 108.3,91.2" fill="#7bff8f"/>
<polygon points="117.9,89.9 121.1,84.2 117.9,81.9 114.7,87.4" fill="#84ff79"/>
<polygon points="124.3,86.7 127.5,81.5 124.3,79.1 121.1,84.2" fill="#9cff75"/>
<polygon points="130.8,84.0 134.0,79.4 130.8,77.0 127.5,81.5" fill="#afff6f"/>
<polygon points="137.2,81.9 140.5,77.8 137.3,75.3 134.0,79.4" fill="#bdff67"/>
<polygon points="114.7,96.1 117.9,89.9 114.7,87.4 111.5,93.6" fill="#7dff9a"/>
<polygon points="121.1,92.4 124.3,86.7 121.1,84.2 117.9,89.9" fill="#7bff7a"/>
<polygon points="127.5,89.2 130.8,84.0 127.5,81.5 124.3,86.7" fill="#91ff76"/>
<polygon points="134.0,86.6 137.2,81.9 134.0,79.4 130.8,84.0" fill="#a3ff70"/>
<polygon points="117.9,98.7 121.1,92.4 117.9,89.9 114.7,96.1" fill="#7effa7"/>
<polygon points="124.3,95.0 127.5,89.2 124.3,86.7 121.1,92.4" fill="#7cff87"/>
<polygon points="130.7,91.9 134.0,86.6 130.8,84.0 127.5,89.2" fill="#86ff78"/>
<polygon points="121.1,101.4 124.3,95.0 121.1,92.4 117.9,98.7" fill="#80ffb4"/>
<polygon points="127.5,97.8 130.7,91.9 127.5,89.2 124.3,95.0" fill="#7dff95"/>
<polygon points="124.3,104.3 127.5,97.8 124.3,95.0 121.1,101.4" fill="#81ffc1"/>
</g>
<text x="58.85" y="98.70" font-size="9.0" text-anchor="end" font-family="'Liberation Serif', serif">15</text>
<text x="58.07" y="82.20" font-size="9.0" text-anchor="end" font-family="'Liberation Serif', serif">20</text>
<text x="57.28" y="65.70" font-size="9.0" text-anchor="end" font-family="'Liberation Serif', serif">25</text>
<text x="56.49" y="49.20" font-size="9.0" text-anchor="end" font-family="'Liberation Serif', serif">30</text>
<text x="55.70" y="32.70" font-size="9.0" text-anchor="end" font-family="'Liberation Serif', serif">35</text>
<text x="39.74" y="68.50" font-size="8.45" text-anchor="middle" font-family="'Liberation Serif', serif" transform="rotate(-90 39.74 68.50)">Reducing sugar content (g/L)</text>
<text x="58.00" y="122.60" font-size="9.0" text-anchor="middle" font-family="'Liberation Serif', serif">6</text>
<text x="75.00" y="130.10" font-size="9.0" text-anchor="middle" font-family="'Liberation Serif', serif">5.5</text>
<text x="85.75" y="138.10" font-size="9.0" text-anchor="middle" font-family="'Liberation Serif', serif">5</text>
<text x="103.75" y="146.60" font-size="9.0" text-anchor="middle" font-family="'Liberation Serif', serif">4.5</text>
<text x="116.75" y="153.10" font-size="9.0" text-anchor="middle" font-family="'Liberation Serif', serif">4</text>
<text x="129.50" y="153.10" font-size="9.0" text-anchor="middle" font-family="'Liberation Serif', serif">30</text>
<text x="145.00" y="145.60" font-size="9.0" text-anchor="middle" font-family="'Liberation Serif', serif">35</text>
<text x="160.00" y="137.40" font-size="9.0" text-anchor="middle" font-family="'Liberation Serif', serif">40</text>
<text x="177.50" y="130.10" font-size="9.0" text-anchor="middle" font-family="'Liberation Serif', serif">45</text>
<text x="191.25" y="123.10" font-size="9.0" text-anchor="middle" font-family="'Liberation Serif', serif">50</text>
<circle cx="60.0" cy="67.6" r="1.7" fill="#b00010" stroke="#a04050" stroke-width="0.3"/>
<circle cx="124.3" cy="42.7" r="1.7" fill="#b00010" stroke="#a04050" stroke-width="0.3"/>
<circle cx="124.3" cy="104.3" r="1.7" fill="#f8c8d0" stroke="#a04050" stroke-width="0.3"/>
<circle cx="188.2" cy="78.9" r="1.7" fill="#f8c8d0" stroke="#a04050" stroke-width="0.3"/>
<clipPath id="bb"><path d="M342.9 143.8L405.1 114.4L343.0 90.8L280.8 114.2Z"/></clipPath>
<path d="M342.9 143.8L405.1 114.4L343.0 90.8L280.8 114.2Z" fill="#666666" stroke="#222" stroke-width="0.7"/>
<g clip-path="url(#bb)" fill="none" stroke-width="1.0">
<path stroke="#1e6ce0" d="M389.9 136.3 L388.2 137.0 L386.4 137.8 L384.5 138.5 L382.6 139.1 L380.5 139.7 L378.4 140.3 L376.2 140.8 L374.0 141.3 L371.7 141.7 L369.3 142.1 L366.8 142.4 L364.3 142.6 L361.8 142.8 L359.2 143.0 L356.5 143.1 L353.8 143.1 L351.1 143.1 L348.3 143.0 L345.5 142.9 L342.7 142.7 L339.8 142.5 L336.9 142.2 L334.0 141.9 L331.1 141.5 L328.1 141.0 L325.2 140.5 L322.2 139.9 L319.3 139.3 L316.3 138.6 L313.4 137.9 L310.4 137.2 L307.5 136.4 L304.5 135.5 L301.6 134.6 L298.8 133.7 L295.9 132.7 L293.1 131.7 L290.3 130.6 L287.5 129.5 L284.8 128.4 L282.2 127.2 L279.5 126.0 L277.0 124.8 L274.4 123.6 L272.0 122.3 L269.5 121.0 L267.2 119.7 L264.9 118.4 L262.7 117.1 L260.5 115.7 L258.5 114.4 L256.5 113.0 L254.6 111.7 L252.7 110.3 L250.9 108.9 L249.3 107.6 L247.7 106.2 L246.2 104.8 L244.8 103.5 L243.4 102.1 L242.2 100.8 L241.1 99.5 L240.0 98.2 L239.1 96.9 L238.3 95.7 L237.5 94.4 L236.9 93.2 L236.3 92.0 L235.9 90.8 L235.6 89.7 L235.3 88.6 L235.2 87.5 L235.2 86.4 L235.3 85.4 L235.5 84.4 L235.7 83.4 L236.1 82.5 L236.6 81.6 L237.2 80.7 L237.9 79.9 L238.7 79.1 L239.6 78.4 L240.6 77.7 L241.7 77.0 L242.8 76.4 L244.1 75.8 L245.5 75.2 L246.9 74.7 L248.5 74.2 L250.1 73.7 L251.8 73.3 L253.7 72.9 L255.5 72.6 L257.5 72.3 L259.5 72.0 L261.7 71.8 L263.8 71.6 L266.1 71.4 L268.4 71.3 L270.8 71.2 L273.2 71.2 L275.7 71.2 L278.3 71.2 L280.9 71.2 L283.5 71.3 L286.2 71.4 L289.0 71.6 L291.7 71.7 L294.5 71.9 L297.4 72.2 L300.3 72.4 L303.1 72.7 L306.1 73.1 L309.0 73.4 L311.9 73.8 L314.9 74.2 L317.8 74.7 L320.8 75.1 L323.8 75.6 L326.7 76.1 L329.7 76.7 L332.6 77.3 L335.5 77.9 L338.4 78.5 L341.3 79.2 L344.2 79.9 L347.0 80.6 L349.8 81.3 L352.5 82.0 L355.2 82.8 L357.9 83.6 L360.5 84.5 L363.1 85.3 L365.6 86.2 L368.1 87.1 L370.5 88.0 L372.9 89.0 L375.2 89.9 L377.4 90.9 L379.5 91.9 L381.6 92.9 L383.6 94.0 L385.5 95.0 L387.4 96.1 L389.1 97.2 L390.8 98.3 L392.4 99.4 L393.9 100.6 L395.3 101.7 L396.6 102.9 L397.9 104.1 L399.0 105.3 L400.0 106.5 L401.0 107.7 L401.8 108.9 L402.5 110.1 L403.2 111.3 L403.7 112.5 L404.2 113.7 L404.5 114.9 L404.7 116.2 L404.9 117.4 L404.9 118.6 L404.8 119.8 L404.6 120.9 L404.3 122.1 L403.9 123.3 L403.5 124.4 L402.9 125.5 L402.2 126.6 L401.4 127.7 L400.5 128.8 L399.5 129.8 L398.4 130.8 L397.2 131.8 L396.0 132.8 L394.6 133.7 L393.1 134.6 L391.6 135.5 L389.9 136.3Z"/>
<path stroke="#1ee0d2" d="M384.0 133.6 L382.4 134.3 L380.8 134.9 L379.1 135.6 L377.3 136.2 L375.4 136.7 L373.5 137.2 L371.5 137.7 L369.4 138.1 L367.3 138.4 L365.1 138.8 L362.9 139.0 L360.6 139.3 L358.3 139.4 L355.9 139.6 L353.4 139.6 L351.0 139.7 L348.5 139.7 L345.9 139.6 L343.4 139.5 L340.8 139.3 L338.1 139.1 L335.5 138.8 L332.8 138.5 L330.2 138.1 L327.5 137.7 L324.8 137.3 L322.0 136.8 L319.3 136.2 L316.6 135.6 L313.9 135.0 L311.2 134.3 L308.5 133.5 L305.9 132.8 L303.2 131.9 L300.6 131.1 L298.0 130.2 L295.4 129.3 L292.8 128.3 L290.3 127.3 L287.8 126.3 L285.4 125.3 L283.0 124.2 L280.6 123.1 L278.3 122.0 L276.0 120.8 L273.8 119.7 L271.7 118.5 L269.6 117.3 L267.6 116.1 L265.6 114.9 L263.7 113.7 L261.9 112.4 L260.1 111.2 L258.4 110.0 L256.8 108.7 L255.3 107.5 L253.8 106.2 L252.4 105.0 L251.1 103.8 L249.9 102.5 L248.8 101.3 L247.8 100.1 L246.8 98.9 L246.0 97.8 L245.2 96.6 L244.5 95.5 L243.9 94.4 L243.4 93.3 L243.0 92.2 L242.7 91.2 L242.5 90.1 L242.4 89.1 L242.4 88.1 L242.5 87.2 L242.6 86.3 L242.9 85.4 L243.2 84.5 L243.7 83.7 L244.2 82.9 L244.9 82.2 L245.6 81.4 L246.4 80.7 L247.3 80.1 L248.3 79.4 L249.4 78.8 L250.5 78.3 L251.8 77.7 L253.1 77.2 L254.6 76.8 L256.1 76.3 L257.6 75.9 L259.3 75.6 L261.0 75.3 L262.8 75.0 L264.7 74.7 L266.6 74.5 L268.6 74.3 L270.7 74.1 L272.8 74.0 L275.0 73.9 L277.2 73.9 L279.5 73.8 L281.8 73.8 L284.2 73.9 L286.6 73.9 L289.1 74.0 L291.6 74.2 L294.1 74.3 L296.7 74.5 L299.3 74.7 L301.9 75.0 L304.6 75.2 L307.2 75.5 L309.9 75.9 L312.6 76.2 L315.3 76.6 L318.0 77.0 L320.7 77.5 L323.4 77.9 L326.2 78.4 L328.9 78.9 L331.5 79.5 L334.2 80.0 L336.9 80.6 L339.5 81.2 L342.1 81.8 L344.7 82.5 L347.3 83.2 L349.8 83.9 L352.3 84.6 L354.7 85.4 L357.1 86.1 L359.5 86.9 L361.8 87.8 L364.0 88.6 L366.2 89.5 L368.4 90.3 L370.5 91.2 L372.5 92.1 L374.5 93.1 L376.4 94.0 L378.2 95.0 L380.0 96.0 L381.7 97.0 L383.3 98.0 L384.8 99.0 L386.3 100.0 L387.6 101.1 L388.9 102.2 L390.1 103.2 L391.3 104.3 L392.3 105.4 L393.2 106.5 L394.1 107.6 L394.9 108.7 L395.6 109.8 L396.1 110.9 L396.6 112.0 L397.0 113.2 L397.3 114.3 L397.6 115.4 L397.7 116.5 L397.7 117.6 L397.6 118.7 L397.5 119.7 L397.2 120.8 L396.8 121.9 L396.4 122.9 L395.8 123.9 L395.2 124.9 L394.5 125.9 L393.7 126.9 L392.8 127.8 L391.8 128.7 L390.7 129.6 L389.5 130.5 L388.3 131.3 L386.9 132.1 L385.5 132.9 L384.0 133.6Z"/>
<path stroke="#1ee060" d="M377.5 130.6 L376.1 131.2 L374.6 131.8 L373.0 132.4 L371.4 132.9 L369.8 133.4 L368.0 133.8 L366.2 134.2 L364.4 134.5 L362.5 134.9 L360.5 135.1 L358.5 135.4 L356.5 135.6 L354.4 135.7 L352.2 135.8 L350.0 135.9 L347.8 135.9 L345.6 135.9 L343.3 135.8 L341.0 135.7 L338.7 135.6 L336.3 135.4 L333.9 135.1 L331.5 134.9 L329.1 134.5 L326.7 134.2 L324.3 133.8 L321.8 133.3 L319.4 132.8 L317.0 132.3 L314.5 131.7 L312.1 131.1 L309.7 130.4 L307.3 129.8 L304.9 129.0 L302.6 128.3 L300.2 127.5 L297.9 126.7 L295.6 125.8 L293.3 125.0 L291.1 124.1 L288.9 123.1 L286.7 122.2 L284.6 121.2 L282.6 120.2 L280.5 119.2 L278.5 118.2 L276.6 117.1 L274.7 116.1 L272.9 115.0 L271.1 113.9 L269.4 112.8 L267.8 111.8 L266.2 110.7 L264.7 109.5 L263.3 108.4 L261.9 107.3 L260.6 106.2 L259.3 105.1 L258.2 104.0 L257.1 102.9 L256.1 101.9 L255.1 100.8 L254.3 99.7 L253.5 98.7 L252.8 97.7 L252.2 96.6 L251.7 95.6 L251.3 94.6 L250.9 93.7 L250.6 92.7 L250.4 91.8 L250.3 90.9 L250.3 90.0 L250.4 89.2 L250.5 88.3 L250.8 87.5 L251.1 86.8 L251.5 86.0 L252.0 85.3 L252.5 84.6 L253.2 83.9 L253.9 83.3 L254.7 82.7 L255.6 82.1 L256.6 81.5 L257.6 81.0 L258.8 80.5 L260.0 80.1 L261.2 79.6 L262.6 79.2 L264.0 78.9 L265.5 78.5 L267.0 78.2 L268.6 77.9 L270.3 77.7 L272.1 77.5 L273.8 77.3 L275.7 77.2 L277.6 77.0 L279.6 76.9 L281.6 76.9 L283.6 76.8 L285.7 76.8 L287.9 76.9 L290.0 76.9 L292.3 77.0 L294.5 77.1 L296.8 77.2 L299.1 77.4 L301.4 77.6 L303.8 77.8 L306.2 78.1 L308.5 78.3 L311.0 78.6 L313.4 78.9 L315.8 79.3 L318.2 79.7 L320.7 80.1 L323.1 80.5 L325.5 80.9 L328.0 81.4 L330.4 81.9 L332.8 82.4 L335.2 82.9 L337.5 83.5 L339.9 84.1 L342.2 84.7 L344.5 85.3 L346.7 86.0 L349.0 86.6 L351.2 87.3 L353.3 88.0 L355.4 88.7 L357.5 89.5 L359.6 90.3 L361.5 91.0 L363.5 91.8 L365.3 92.7 L367.2 93.5 L368.9 94.3 L370.6 95.2 L372.3 96.1 L373.9 97.0 L375.4 97.9 L376.8 98.8 L378.2 99.7 L379.5 100.7 L380.7 101.6 L381.9 102.6 L383.0 103.6 L384.0 104.5 L384.9 105.5 L385.8 106.5 L386.5 107.5 L387.2 108.5 L387.8 109.5 L388.4 110.5 L388.8 111.5 L389.2 112.5 L389.5 113.5 L389.6 114.5 L389.7 115.5 L389.8 116.4 L389.7 117.4 L389.6 118.4 L389.3 119.3 L389.0 120.3 L388.6 121.2 L388.1 122.1 L387.5 123.0 L386.9 123.8 L386.2 124.7 L385.3 125.5 L384.5 126.3 L383.5 127.1 L382.4 127.9 L381.3 128.6 L380.1 129.3 L378.8 130.0 L377.5 130.6Z"/>
<path stroke="#4ce01e" d="M370.1 127.3 L368.9 127.8 L367.6 128.3 L366.2 128.8 L364.8 129.2 L363.4 129.6 L361.9 130.0 L360.3 130.3 L358.7 130.6 L357.0 130.9 L355.3 131.1 L353.6 131.3 L351.8 131.5 L350.0 131.6 L348.1 131.7 L346.2 131.7 L344.3 131.7 L342.3 131.7 L340.3 131.7 L338.3 131.6 L336.3 131.4 L334.2 131.3 L332.1 131.0 L330.1 130.8 L328.0 130.5 L325.8 130.2 L323.7 129.8 L321.6 129.5 L319.5 129.0 L317.4 128.6 L315.3 128.1 L313.1 127.6 L311.0 127.0 L308.9 126.4 L306.9 125.8 L304.8 125.2 L302.8 124.5 L300.7 123.8 L298.7 123.1 L296.8 122.3 L294.8 121.5 L292.9 120.7 L291.0 119.9 L289.2 119.1 L287.4 118.2 L285.6 117.4 L283.9 116.5 L282.2 115.6 L280.5 114.7 L279.0 113.8 L277.4 112.8 L275.9 111.9 L274.5 111.0 L273.1 110.0 L271.8 109.1 L270.5 108.1 L269.3 107.2 L268.2 106.2 L267.1 105.2 L266.1 104.3 L265.2 103.4 L264.3 102.4 L263.5 101.5 L262.7 100.6 L262.1 99.7 L261.5 98.8 L260.9 97.9 L260.5 97.0 L260.1 96.1 L259.8 95.3 L259.5 94.5 L259.4 93.7 L259.3 92.9 L259.3 92.1 L259.3 91.3 L259.4 90.6 L259.6 89.9 L259.9 89.2 L260.3 88.5 L260.7 87.9 L261.2 87.3 L261.8 86.7 L262.4 86.1 L263.1 85.6 L263.9 85.1 L264.7 84.6 L265.7 84.1 L266.6 83.7 L267.7 83.2 L268.8 82.9 L270.0 82.5 L271.2 82.2 L272.5 81.9 L273.8 81.6 L275.2 81.3 L276.7 81.1 L278.2 80.9 L279.8 80.7 L281.4 80.6 L283.1 80.5 L284.8 80.4 L286.5 80.3 L288.3 80.3 L290.1 80.3 L292.0 80.3 L293.9 80.3 L295.8 80.4 L297.8 80.5 L299.8 80.6 L301.8 80.7 L303.8 80.9 L305.9 81.1 L307.9 81.3 L310.0 81.5 L312.1 81.8 L314.2 82.1 L316.3 82.4 L318.5 82.7 L320.6 83.0 L322.7 83.4 L324.8 83.8 L326.9 84.2 L329.0 84.7 L331.1 85.1 L333.2 85.6 L335.3 86.1 L337.3 86.6 L339.3 87.2 L341.3 87.7 L343.3 88.3 L345.3 88.9 L347.2 89.5 L349.1 90.1 L350.9 90.8 L352.7 91.4 L354.5 92.1 L356.2 92.8 L357.9 93.5 L359.5 94.3 L361.1 95.0 L362.7 95.8 L364.1 96.5 L365.6 97.3 L366.9 98.1 L368.3 98.9 L369.5 99.7 L370.7 100.5 L371.9 101.4 L372.9 102.2 L374.0 103.0 L374.9 103.9 L375.8 104.8 L376.6 105.6 L377.3 106.5 L378.0 107.4 L378.6 108.2 L379.1 109.1 L379.6 110.0 L380.0 110.8 L380.3 111.7 L380.5 112.6 L380.7 113.4 L380.8 114.3 L380.8 115.1 L380.8 116.0 L380.6 116.8 L380.4 117.6 L380.1 118.4 L379.8 119.2 L379.4 120.0 L378.9 120.8 L378.3 121.5 L377.7 122.2 L377.0 122.9 L376.2 123.6 L375.3 124.3 L374.4 125.0 L373.4 125.6 L372.4 126.2 L371.3 126.8 L370.1 127.3Z"/>
<path stroke="#bbe01e" d="M361.5 123.4 L360.4 123.8 L359.4 124.2 L358.2 124.6 L357.1 124.9 L355.9 125.2 L354.6 125.5 L353.3 125.8 L352.0 126.0 L350.6 126.2 L349.2 126.4 L347.8 126.6 L346.3 126.7 L344.8 126.8 L343.2 126.9 L341.7 126.9 L340.1 126.9 L338.4 126.9 L336.8 126.8 L335.1 126.7 L333.5 126.6 L331.8 126.5 L330.0 126.3 L328.3 126.1 L326.6 125.9 L324.8 125.6 L323.1 125.3 L321.3 125.0 L319.6 124.7 L317.8 124.3 L316.1 123.9 L314.3 123.5 L312.6 123.0 L310.9 122.5 L309.1 122.0 L307.4 121.5 L305.7 121.0 L304.1 120.4 L302.4 119.8 L300.8 119.2 L299.2 118.6 L297.6 117.9 L296.0 117.3 L294.5 116.6 L293.0 115.9 L291.6 115.2 L290.1 114.5 L288.7 113.8 L287.4 113.0 L286.1 112.3 L284.8 111.5 L283.6 110.8 L282.4 110.0 L281.2 109.2 L280.2 108.4 L279.1 107.7 L278.1 106.9 L277.2 106.1 L276.3 105.3 L275.4 104.5 L274.7 103.8 L273.9 103.0 L273.3 102.2 L272.7 101.5 L272.1 100.7 L271.6 100.0 L271.2 99.3 L270.8 98.5 L270.5 97.8 L270.2 97.1 L270.0 96.4 L269.9 95.8 L269.8 95.1 L269.8 94.5 L269.8 93.8 L269.9 93.2 L270.1 92.6 L270.3 92.0 L270.6 91.5 L271.0 90.9 L271.4 90.4 L271.9 89.9 L272.4 89.4 L273.0 89.0 L273.6 88.5 L274.3 88.1 L275.1 87.7 L275.9 87.3 L276.7 87.0 L277.7 86.7 L278.6 86.3 L279.6 86.1 L280.7 85.8 L281.8 85.5 L283.0 85.3 L284.2 85.1 L285.5 84.9 L286.7 84.8 L288.1 84.7 L289.5 84.6 L290.9 84.5 L292.3 84.4 L293.8 84.4 L295.3 84.3 L296.8 84.3 L298.4 84.4 L300.0 84.4 L301.6 84.5 L303.3 84.6 L304.9 84.7 L306.6 84.8 L308.3 85.0 L310.0 85.2 L311.8 85.4 L313.5 85.6 L315.2 85.8 L317.0 86.1 L318.7 86.3 L320.5 86.6 L322.2 86.9 L324.0 87.3 L325.7 87.6 L327.5 88.0 L329.2 88.4 L330.9 88.8 L332.6 89.2 L334.3 89.7 L336.0 90.1 L337.7 90.6 L339.3 91.1 L340.9 91.6 L342.5 92.1 L344.0 92.6 L345.6 93.2 L347.1 93.8 L348.5 94.3 L349.9 94.9 L351.3 95.5 L352.7 96.1 L354.0 96.8 L355.3 97.4 L356.5 98.0 L357.7 98.7 L358.8 99.4 L359.9 100.0 L361.0 100.7 L362.0 101.4 L362.9 102.1 L363.8 102.8 L364.6 103.5 L365.4 104.2 L366.1 104.9 L366.8 105.7 L367.4 106.4 L368.0 107.1 L368.5 107.8 L368.9 108.5 L369.3 109.3 L369.6 110.0 L369.9 110.7 L370.1 111.4 L370.2 112.1 L370.3 112.8 L370.3 113.5 L370.3 114.2 L370.1 114.9 L370.0 115.5 L369.7 116.2 L369.5 116.8 L369.1 117.5 L368.7 118.1 L368.2 118.7 L367.7 119.3 L367.1 119.9 L366.5 120.4 L365.8 121.0 L365.0 121.5 L364.2 122.0 L363.3 122.5 L362.4 123.0 L361.5 123.4Z"/>
<path stroke="#e0911e" d="M350.4 118.4 L349.7 118.7 L348.9 119.0 L348.1 119.2 L347.2 119.5 L346.3 119.7 L345.4 119.9 L344.4 120.1 L343.5 120.3 L342.5 120.4 L341.4 120.5 L340.4 120.6 L339.3 120.7 L338.2 120.8 L337.0 120.8 L335.9 120.8 L334.7 120.8 L333.5 120.8 L332.3 120.8 L331.1 120.7 L329.9 120.6 L328.6 120.5 L327.4 120.4 L326.1 120.2 L324.8 120.1 L323.6 119.9 L322.3 119.7 L321.0 119.4 L319.7 119.2 L318.4 118.9 L317.1 118.6 L315.9 118.3 L314.6 118.0 L313.3 117.7 L312.1 117.3 L310.8 116.9 L309.6 116.5 L308.3 116.1 L307.1 115.7 L305.9 115.3 L304.7 114.8 L303.6 114.4 L302.4 113.9 L301.3 113.4 L300.2 112.9 L299.2 112.4 L298.1 111.9 L297.1 111.4 L296.1 110.9 L295.1 110.3 L294.2 109.8 L293.3 109.2 L292.4 108.7 L291.6 108.1 L290.8 107.6 L290.0 107.0 L289.3 106.5 L288.6 105.9 L288.0 105.3 L287.3 104.8 L286.8 104.2 L286.2 103.6 L285.7 103.1 L285.3 102.5 L284.9 102.0 L284.5 101.4 L284.2 100.9 L283.9 100.4 L283.7 99.9 L283.5 99.3 L283.4 98.8 L283.3 98.3 L283.2 97.9 L283.2 97.4 L283.2 96.9 L283.3 96.5 L283.4 96.0 L283.6 95.6 L283.8 95.2 L284.1 94.8 L284.4 94.4 L284.7 94.0 L285.1 93.6 L285.5 93.3 L286.0 92.9 L286.5 92.6 L287.1 92.3 L287.7 92.0 L288.3 91.7 L289.0 91.5 L289.7 91.3 L290.4 91.0 L291.2 90.8 L292.0 90.6 L292.9 90.5 L293.8 90.3 L294.7 90.2 L295.6 90.0 L296.6 89.9 L297.6 89.8 L298.6 89.8 L299.7 89.7 L300.8 89.7 L301.9 89.6 L303.0 89.6 L304.2 89.7 L305.4 89.7 L306.5 89.7 L307.7 89.8 L309.0 89.9 L310.2 90.0 L311.4 90.1 L312.7 90.2 L314.0 90.4 L315.2 90.5 L316.5 90.7 L317.8 90.9 L319.1 91.1 L320.4 91.3 L321.7 91.5 L322.9 91.8 L324.2 92.1 L325.5 92.3 L326.8 92.6 L328.0 92.9 L329.3 93.3 L330.5 93.6 L331.7 93.9 L333.0 94.3 L334.2 94.7 L335.3 95.1 L336.5 95.4 L337.6 95.9 L338.8 96.3 L339.8 96.7 L340.9 97.1 L342.0 97.6 L343.0 98.0 L344.0 98.5 L344.9 99.0 L345.9 99.4 L346.8 99.9 L347.6 100.4 L348.5 100.9 L349.3 101.4 L350.0 101.9 L350.8 102.4 L351.5 103.0 L352.1 103.5 L352.7 104.0 L353.3 104.5 L353.8 105.1 L354.3 105.6 L354.8 106.1 L355.2 106.7 L355.6 107.2 L355.9 107.7 L356.2 108.2 L356.4 108.8 L356.6 109.3 L356.7 109.8 L356.8 110.3 L356.9 110.8 L356.9 111.3 L356.9 111.8 L356.8 112.3 L356.7 112.8 L356.5 113.3 L356.3 113.8 L356.0 114.2 L355.7 114.7 L355.4 115.1 L355.0 115.5 L354.6 115.9 L354.1 116.3 L353.6 116.7 L353.0 117.1 L352.4 117.4 L351.8 117.8 L351.1 118.1 L350.4 118.4Z"/>
</g>
<path d="M280.8 114.2L276.7 28.4M405.1 114.4L409.1 28.6M296.4 108.4L293.3 24.6M389.6 108.5L392.6 24.8M311.9 102.5L309.9 20.9M374.0 102.6L376.0 21.0M327.4 96.6L326.4 17.1M358.5 96.7L359.5 17.2M343.0 90.8L343.0 13.4M343.0 90.8L343.0 13.4M279.9 94.4L343.0 72.9L406.0 94.6M279.1 77.9L343.0 58.1L406.8 78.1M278.3 61.4L343.0 43.2L407.6 61.6M277.5 44.9L343.0 28.3L408.3 45.1M276.7 28.4L343.0 13.4L409.1 28.6" fill="none" stroke="#1c1c1c" stroke-width="0.9"/>
<g stroke="#15150a" stroke-opacity="0.52" stroke-width="0.38" stroke-linejoin="round">
<polygon points="343.0,40.1 346.2,42.7 343.0,42.0 339.8,39.4" fill="#54661a"/>
<polygon points="339.7,37.8 343.0,40.1 339.8,39.4 336.5,37.1" fill="#77741a"/>
<polygon points="346.2,40.9 349.5,43.5 346.2,42.7 343.0,40.1" fill="#596b1a"/>
<polygon points="336.5,35.9 339.7,37.8 336.5,37.1 333.2,35.3" fill="#8a6a1a"/>
<polygon points="349.5,41.9 352.7,44.6 349.5,43.5 346.2,40.9" fill="#5c6f1a"/>
<polygon points="343.0,38.6 346.2,40.9 343.0,40.1 339.7,37.8" fill="#7c771a"/>
<polygon points="333.2,34.4 336.5,35.9 333.2,35.3 329.9,33.7" fill="#9f5d1a"/>
<polygon points="339.7,36.7 343.0,38.6 339.7,37.8 336.5,35.9" fill="#8f6d1a"/>
<polygon points="346.2,39.7 349.5,41.9 346.2,40.9 343.0,38.6" fill="#817c1a"/>
<polygon points="352.7,43.1 355.9,45.8 352.7,44.6 349.5,41.9" fill="#5e741a"/>
<polygon points="329.9,33.2 333.2,34.4 329.9,33.7 326.6,32.6" fill="#b64c1a"/>
<polygon points="336.4,35.2 339.7,36.7 336.5,35.9 333.2,34.4" fill="#a45e1a"/>
<polygon points="343.0,37.7 346.2,39.7 343.0,38.6 339.7,36.7" fill="#94701a"/>
<polygon points="349.5,40.8 352.7,43.1 349.5,41.9 346.2,39.7" fill="#86831a"/>
<polygon points="355.9,44.5 359.1,47.1 355.9,45.8 352.7,43.1" fill="#5f791a"/>
<polygon points="326.6,32.5 329.9,33.2 326.6,32.6 323.3,31.8" fill="#cf3a1a"/>
<polygon points="339.7,36.2 343.0,37.7 339.7,36.7 336.4,35.2" fill="#a9611a"/>
<polygon points="346.2,38.9 349.5,40.8 346.2,39.7 343.0,37.7" fill="#99761a"/>
<polygon points="359.2,46.0 362.4,48.7 359.1,47.1 355.9,44.5" fill="#5f7e1a"/>
<polygon points="333.2,34.0 336.4,35.2 333.2,34.4 329.9,33.2" fill="#bb4c1a"/>
<polygon points="352.7,42.2 355.9,44.5 352.7,43.1 349.5,40.8" fill="#8a8b1a"/>
<polygon points="323.3,32.1 326.6,32.5 323.3,31.8 320.0,31.5" fill="#e5261a"/>
<polygon points="329.9,33.3 333.2,34.0 329.9,33.2 326.6,32.5" fill="#d5381a"/>
<polygon points="336.4,35.0 339.7,36.2 336.4,35.2 333.2,34.0" fill="#c14e1a"/>
<polygon points="343.0,37.3 346.2,38.9 343.0,37.7 339.7,36.2" fill="#af661a"/>
<polygon points="349.5,40.2 352.7,42.2 349.5,40.8 346.2,38.9" fill="#9e7e1a"/>
<polygon points="356.0,43.7 359.2,46.0 355.9,44.5 352.7,42.2" fill="#8a901a"/>
<polygon points="362.4,47.7 365.6,50.4 362.4,48.7 359.2,46.0" fill="#5c831a"/>
<polygon points="320.0,32.1 323.3,32.1 320.0,31.5 316.7,31.5" fill="#ee1a1a"/>
<polygon points="333.1,34.2 336.4,35.0 333.2,34.0 329.9,33.3" fill="#da391a"/>
<polygon points="352.7,41.8 356.0,43.7 352.7,42.2 349.5,40.2" fill="#a4881a"/>
<polygon points="365.6,49.6 368.8,52.3 365.6,50.4 362.4,47.7" fill="#58881a"/>
<polygon points="326.6,32.9 329.9,33.3 326.6,32.5 323.3,32.1" fill="#e7231a"/>
<polygon points="339.7,36.2 343.0,37.3 339.7,36.2 336.4,35.0" fill="#c7521a"/>
<polygon points="346.2,38.7 349.5,40.2 346.2,38.9 343.0,37.3" fill="#b46d1a"/>
<polygon points="359.2,45.4 362.4,47.7 359.2,46.0 356.0,43.7" fill="#89951a"/>
<polygon points="316.7,32.5 320.0,32.1 316.7,31.5 313.4,31.9" fill="#f81a1a"/>
<polygon points="323.3,32.9 326.6,32.9 323.3,32.1 320.0,32.1" fill="#f01a1a"/>
<polygon points="329.8,33.8 333.1,34.2 329.9,33.3 326.6,32.9" fill="#e9231a"/>
<polygon points="336.4,35.4 339.7,36.2 336.4,35.0 333.1,34.2" fill="#e03d1a"/>
<polygon points="343.0,37.5 346.2,38.7 343.0,37.3 339.7,36.2" fill="#cc591a"/>
<polygon points="349.5,40.2 352.7,41.8 349.5,40.2 346.2,38.7" fill="#b9761a"/>
<polygon points="356.0,43.5 359.2,45.4 356.0,43.7 352.7,41.8" fill="#a9941a"/>
<polygon points="362.4,47.3 365.6,49.6 362.4,47.7 359.2,45.4" fill="#849a1a"/>
<polygon points="368.8,51.7 372.0,54.4 368.8,52.3 365.6,49.6" fill="#518c1a"/>
<polygon points="313.4,33.3 316.7,32.5 313.4,31.9 310.1,32.7" fill="#ff1a1a"/>
<polygon points="320.0,33.3 323.3,32.9 320.0,32.1 316.7,32.5" fill="#fa1a1a"/>
<polygon points="326.6,33.9 329.8,33.8 326.6,32.9 323.3,32.9" fill="#f21a1a"/>
<polygon points="333.1,35.0 336.4,35.4 333.1,34.2 329.8,33.8" fill="#eb261a"/>
<polygon points="339.7,36.7 343.0,37.5 339.7,36.2 336.4,35.4" fill="#e3431a"/>
<polygon points="346.2,39.0 349.5,40.2 346.2,38.7 343.0,37.5" fill="#d1631a"/>
<polygon points="352.7,41.9 356.0,43.5 352.7,41.8 349.5,40.2" fill="#bf831a"/>
<polygon points="359.2,45.3 362.4,47.3 359.2,45.4 356.0,43.5" fill="#aea31a"/>
<polygon points="365.7,49.4 368.8,51.7 365.6,49.6 362.4,47.3" fill="#7e9f1a"/>
<polygon points="372.0,54.0 375.2,56.7 372.0,54.4 368.8,51.7" fill="#48911a"/>
<polygon points="310.1,34.5 313.4,33.3 310.1,32.7 306.9,33.9" fill="#ff1a1a"/>
<polygon points="323.3,34.3 326.6,33.9 323.3,32.9 320.0,33.3" fill="#fc1a1a"/>
<polygon points="329.8,35.0 333.1,35.0 329.8,33.8 326.6,33.9" fill="#f41a1a"/>
<polygon points="343.0,38.2 346.2,39.0 343.0,37.5 339.7,36.7" fill="#e54c1a"/>
<polygon points="356.0,43.8 359.2,45.3 356.0,43.5 352.7,41.9" fill="#c4921a"/>
<polygon points="362.5,47.4 365.7,49.4 362.4,47.3 359.2,45.3" fill="#b1b31a"/>
<polygon points="375.2,56.4 378.4,59.1 375.2,56.7 372.0,54.0" fill="#3d961a"/>
<polygon points="316.7,34.1 320.0,33.3 316.7,32.5 313.4,33.3" fill="#ff1a1a"/>
<polygon points="336.4,36.3 339.7,36.7 336.4,35.4 333.1,35.0" fill="#ed2c1a"/>
<polygon points="349.5,40.7 352.7,41.9 349.5,40.2 346.2,39.0" fill="#d76f1a"/>
<polygon points="368.9,51.6 372.0,54.0 368.8,51.7 365.7,49.4" fill="#75a41a"/>
<polygon points="306.9,36.2 310.1,34.5 306.9,33.9 303.6,35.5" fill="#ff1a1a"/>
<polygon points="313.4,35.3 316.7,34.1 313.4,33.3 310.1,34.5" fill="#ff1a1a"/>
<polygon points="320.0,35.1 323.3,34.3 320.0,33.3 316.7,34.1" fill="#ff1a1a"/>
<polygon points="326.5,35.4 329.8,35.0 326.6,33.9 323.3,34.3" fill="#fe1a1a"/>
<polygon points="333.1,36.3 336.4,36.3 333.1,35.0 329.8,35.0" fill="#f61a1a"/>
<polygon points="339.7,37.8 343.0,38.2 339.7,36.7 336.4,36.3" fill="#ee351a"/>
<polygon points="346.2,39.9 349.5,40.7 346.2,39.0 343.0,38.2" fill="#e7581a"/>
<polygon points="352.7,42.6 356.0,43.8 352.7,41.9 349.5,40.7" fill="#dc801a"/>
<polygon points="359.2,45.8 362.5,47.4 359.2,45.3 356.0,43.8" fill="#c9a51a"/>
<polygon points="365.7,49.7 368.9,51.6 365.7,49.4 362.5,47.4" fill="#a7b81a"/>
<polygon points="372.1,54.1 375.2,56.4 372.0,54.0 368.9,51.6" fill="#68a91a"/>
<polygon points="378.4,59.1 381.5,61.8 378.4,59.1 375.2,56.4" fill="#2f9b1a"/>
<polygon points="336.4,37.8 339.7,37.8 336.4,36.3 333.1,36.3" fill="#f8231a"/>
<polygon points="349.5,41.8 352.7,42.6 349.5,40.7 346.2,39.9" fill="#e9671a"/>
<polygon points="303.6,38.3 306.9,36.2 303.6,35.5 300.4,37.6" fill="#ff281a"/>
<polygon points="310.2,37.0 313.4,35.3 310.1,34.5 306.9,36.2" fill="#ff1a1a"/>
<polygon points="316.7,36.3 320.0,35.1 316.7,34.1 313.4,35.3" fill="#ff1a1a"/>
<polygon points="323.3,36.2 326.5,35.4 323.3,34.3 320.0,35.1" fill="#ff1a1a"/>
<polygon points="329.8,36.7 333.1,36.3 329.8,35.0 326.5,35.4" fill="#ff1a1a"/>
<polygon points="342.9,39.5 346.2,39.9 343.0,38.2 339.7,37.8" fill="#f0411a"/>
<polygon points="356.0,44.6 359.2,45.8 356.0,43.8 352.7,42.6" fill="#e1931a"/>
<polygon points="362.5,48.1 365.7,49.7 362.5,47.4 359.2,45.8" fill="#cebb1a"/>
<polygon points="368.9,52.1 372.1,54.1 368.9,51.6 365.7,49.7" fill="#9abd1a"/>
<polygon points="375.3,56.7 378.4,59.1 375.2,56.4 372.1,54.1" fill="#59ad1a"/>
<polygon points="381.6,61.9 384.7,64.6 381.5,61.8 378.4,59.1" fill="#1da01a"/>
<polygon points="300.4,40.8 303.6,38.3 300.4,37.6 297.1,40.1" fill="#ff421a"/>
<polygon points="306.9,39.1 310.2,37.0 306.9,36.2 303.6,38.3" fill="#ff231a"/>
<polygon points="313.4,38.0 316.7,36.3 313.4,35.3 310.2,37.0" fill="#ff1a1a"/>
<polygon points="320.0,37.5 323.3,36.2 320.0,35.1 316.7,36.3" fill="#ff1a1a"/>
<polygon points="326.5,37.6 329.8,36.7 326.5,35.4 323.3,36.2" fill="#ff1a1a"/>
<polygon points="333.1,38.3 336.4,37.8 333.1,36.3 329.8,36.7" fill="#ff1a1a"/>
<polygon points="339.7,39.5 342.9,39.5 339.7,37.8 336.4,37.8" fill="#fa301a"/>
<polygon points="346.2,41.4 349.5,41.8 346.2,39.9 342.9,39.5" fill="#f2511a"/>
<polygon points="352.7,43.9 356.0,44.6 352.7,42.6 349.5,41.8" fill="#eb791a"/>
<polygon points="359.2,46.9 362.5,48.1 359.2,45.8 356.0,44.6" fill="#e4a91a"/>
<polygon points="365.7,50.5 368.9,52.1 365.7,49.7 362.5,48.1" fill="#d2d31a"/>
<polygon points="372.1,54.8 375.3,56.7 372.1,54.1 368.9,52.1" fill="#8ac21a"/>
<polygon points="378.4,59.6 381.6,61.9 378.4,59.1 375.3,56.7" fill="#47b21a"/>
<polygon points="384.7,64.9 387.8,67.7 384.7,64.6 381.6,61.9" fill="#1aa42a"/>
<polygon points="297.2,43.7 300.4,40.8 297.1,40.1 293.9,43.0" fill="#ff641a"/>
<polygon points="303.7,41.6 306.9,39.1 303.6,38.3 300.4,40.8" fill="#ff3e1a"/>
<polygon points="310.2,40.1 313.4,38.0 310.2,37.0 306.9,39.1" fill="#ff231a"/>
<polygon points="316.7,39.2 320.0,37.5 316.7,36.3 313.4,38.0" fill="#ff1a1a"/>
<polygon points="329.8,39.1 333.1,38.3 329.8,36.7 326.5,37.6" fill="#ff1a1a"/>
<polygon points="336.4,40.0 339.7,39.5 336.4,37.8 333.1,38.3" fill="#ff241a"/>
<polygon points="342.9,41.4 346.2,41.4 342.9,39.5 339.7,39.5" fill="#fb401a"/>
<polygon points="349.5,43.5 352.7,43.9 349.5,41.8 346.2,41.4" fill="#f4631a"/>
<polygon points="356.0,46.1 359.2,46.9 356.0,44.6 352.7,43.9" fill="#ec8e1a"/>
<polygon points="368.9,53.2 372.1,54.8 368.9,52.1 365.7,50.5" fill="#c0d81a"/>
<polygon points="375.3,57.6 378.4,59.6 375.3,56.7 372.1,54.8" fill="#76c61a"/>
<polygon points="381.6,62.6 384.7,64.9 381.6,61.9 378.4,59.6" fill="#31b71a"/>
<polygon points="387.9,68.2 390.9,70.9 387.8,67.7 384.7,64.9" fill="#1aa942"/>
<polygon points="323.3,38.8 326.5,37.6 323.3,36.2 320.0,37.5" fill="#ff1a1a"/>
<polygon points="362.5,49.4 365.7,50.5 362.5,48.1 359.2,46.9" fill="#e5c11a"/>
<polygon points="294.0,47.1 297.2,43.7 293.9,43.0 290.8,46.4" fill="#ff9122"/>
<polygon points="306.9,42.6 310.2,40.1 306.9,39.1 303.7,41.6" fill="#ff3d1a"/>
<polygon points="313.5,41.3 316.7,39.2 313.4,38.0 310.2,40.1" fill="#ff251a"/>
<polygon points="326.5,40.4 329.8,39.1 326.5,37.6 323.3,38.8" fill="#ff1a1a"/>
<polygon points="339.7,41.9 342.9,41.4 339.7,39.5 336.4,40.0" fill="#ff341a"/>
<polygon points="346.2,43.5 349.5,43.5 346.2,41.4 342.9,41.4" fill="#fd531a"/>
<polygon points="359.2,48.6 362.5,49.4 359.2,46.9 356.0,46.1" fill="#eea71a"/>
<polygon points="372.1,56.0 375.3,57.6 372.1,54.8 368.9,53.2" fill="#aadd1a"/>
<polygon points="378.5,60.7 381.6,62.6 378.4,59.6 375.3,57.6" fill="#5fcb1a"/>
<polygon points="391.0,71.6 394.0,74.3 390.9,70.9 387.9,68.2" fill="#1aad5e"/>
<polygon points="300.5,44.5 303.7,41.6 300.4,40.8 297.2,43.7" fill="#ff601a"/>
<polygon points="320.0,40.5 323.3,38.8 320.0,37.5 316.7,39.2" fill="#ff1a1a"/>
<polygon points="333.1,40.8 336.4,40.0 333.1,38.3 329.8,39.1" fill="#ff201a"/>
<polygon points="352.7,45.7 356.0,46.1 352.7,43.9 349.5,43.5" fill="#f5791a"/>
<polygon points="365.7,52.0 368.9,53.2 365.7,50.5 362.5,49.4" fill="#e7dc1a"/>
<polygon points="384.7,65.9 387.9,68.2 384.7,64.9 381.6,62.6" fill="#1abb1b"/>
<polygon points="290.9,50.9 294.0,47.1 290.8,46.4 287.6,50.2" fill="#ffc42d"/>
<polygon points="297.3,48.0 300.5,44.5 297.2,43.7 294.0,47.1" fill="#ff9028"/>
<polygon points="303.7,45.6 306.9,42.6 303.7,41.6 300.5,44.5" fill="#ff6320"/>
<polygon points="310.2,43.8 313.5,41.3 310.2,40.1 306.9,42.6" fill="#ff3f1a"/>
<polygon points="316.7,42.6 320.0,40.5 316.7,39.2 313.5,41.3" fill="#ff2b1a"/>
<polygon points="323.3,42.1 326.5,40.4 323.3,38.8 320.0,40.5" fill="#ff211a"/>
<polygon points="329.8,42.1 333.1,40.8 329.8,39.1 326.5,40.4" fill="#ff231a"/>
<polygon points="336.4,42.7 339.7,41.9 336.4,40.0 333.1,40.8" fill="#ff2f1a"/>
<polygon points="342.9,43.9 346.2,43.5 342.9,41.4 339.7,41.9" fill="#ff471a"/>
<polygon points="349.5,45.8 352.7,45.7 349.5,43.5 346.2,43.5" fill="#ff691a"/>
<polygon points="356.0,48.2 359.2,48.6 356.0,46.1 352.7,45.7" fill="#f7921a"/>
<polygon points="362.5,51.2 365.7,52.0 362.5,49.4 359.2,48.6" fill="#efc31a"/>
<polygon points="368.9,54.9 372.1,56.0 368.9,53.2 365.7,52.0" fill="#d7e81a"/>
<polygon points="375.3,59.1 378.5,60.7 375.3,57.6 372.1,56.0" fill="#90e11a"/>
<polygon points="381.6,63.9 384.7,65.9 381.6,62.6 378.5,60.7" fill="#43d01a"/>
<polygon points="387.9,69.3 391.0,71.6 387.9,68.2 384.7,65.9" fill="#1ac039"/>
<polygon points="394.1,75.3 397.1,78.0 394.0,74.3 391.0,71.6" fill="#1ab27d"/>
<polygon points="287.8,55.2 290.9,50.9 287.6,50.2 284.5,54.5" fill="#fff837"/>
<polygon points="294.1,51.8 297.3,48.0 294.0,47.1 290.9,50.9" fill="#ffc233"/>
<polygon points="300.5,49.0 303.7,45.6 300.5,44.5 297.3,48.0" fill="#ff922e"/>
<polygon points="307.0,46.8 310.2,43.8 306.9,42.6 303.7,45.6" fill="#ff6926"/>
<polygon points="313.5,45.2 316.7,42.6 313.5,41.3 310.2,43.8" fill="#ff461b"/>
<polygon points="320.0,44.2 323.3,42.1 320.0,40.5 316.7,42.6" fill="#ff341a"/>
<polygon points="326.6,43.8 329.8,42.1 326.5,40.4 323.3,42.1" fill="#ff2d1a"/>
<polygon points="333.1,44.0 336.4,42.7 333.1,40.8 329.8,42.1" fill="#ff321a"/>
<polygon points="339.7,44.8 342.9,43.9 339.7,41.9 336.4,42.7" fill="#ff421a"/>
<polygon points="346.2,46.2 349.5,45.8 346.2,43.5 342.9,43.9" fill="#ff5d1a"/>
<polygon points="352.7,48.2 356.0,48.2 352.7,45.7 349.5,45.8" fill="#ff831a"/>
<polygon points="359.2,50.9 362.5,51.2 359.2,48.6 356.0,48.2" fill="#f8af1a"/>
<polygon points="365.7,54.1 368.9,54.9 365.7,52.0 362.5,51.2" fill="#f1e21a"/>
<polygon points="372.1,57.9 375.3,59.1 372.1,56.0 368.9,54.9" fill="#baea1a"/>
<polygon points="378.5,62.3 381.6,63.9 378.5,60.7 375.3,59.1" fill="#72e31a"/>
<polygon points="384.8,67.4 387.9,69.3 384.7,65.9 381.6,63.9" fill="#24d41a"/>
<polygon points="391.0,73.0 394.1,75.3 391.0,71.6 387.9,69.3" fill="#1ac45a"/>
<polygon points="397.1,79.1 400.2,81.9 397.1,78.0 394.1,75.3" fill="#1ab6a0"/>
<polygon points="284.7,60.0 287.8,55.2 284.5,54.5 281.5,59.2" fill="#d3ff3e"/>
<polygon points="291.0,56.1 294.1,51.8 290.9,50.9 287.8,55.2" fill="#fff43d"/>
<polygon points="297.4,52.9 300.5,49.0 297.3,48.0 294.1,51.8" fill="#ffc239"/>
<polygon points="303.8,50.2 307.0,46.8 303.7,45.6 300.5,49.0" fill="#ff9733"/>
<polygon points="310.3,48.2 313.5,45.2 310.2,43.8 307.0,46.8" fill="#ff722b"/>
<polygon points="316.8,46.8 320.0,44.2 316.7,42.6 313.5,45.2" fill="#ff5220"/>
<polygon points="323.3,45.9 326.6,43.8 323.3,42.1 320.0,44.2" fill="#ff401a"/>
<polygon points="329.8,45.7 333.1,44.0 329.8,42.1 326.6,43.8" fill="#ff3d1a"/>
<polygon points="336.4,46.1 339.7,44.8 336.4,42.7 333.1,44.0" fill="#ff451a"/>
<polygon points="342.9,47.1 346.2,46.2 342.9,43.9 339.7,44.8" fill="#ff581a"/>
<polygon points="349.5,48.7 352.7,48.2 349.5,45.8 346.2,46.2" fill="#ff771a"/>
<polygon points="356.0,50.9 359.2,50.9 356.0,48.2 352.7,48.2" fill="#ffa01a"/>
<polygon points="362.4,53.7 365.7,54.1 362.5,51.2 359.2,50.9" fill="#f9cf1a"/>
<polygon points="368.9,57.1 372.1,57.9 368.9,54.9 365.7,54.1" fill="#e0f21a"/>
<polygon points="375.3,61.2 378.5,62.3 375.3,59.1 372.1,57.9" fill="#9aeb1a"/>
<polygon points="381.6,65.8 384.8,67.4 381.6,63.9 378.5,62.3" fill="#4fe51a"/>
<polygon points="387.9,71.0 391.0,73.0 387.9,69.3 384.8,67.4" fill="#1ad833"/>
<polygon points="394.1,76.8 397.1,79.1 394.1,75.3 391.0,73.0" fill="#1ac87f"/>
<polygon points="400.2,83.2 403.2,85.9 400.2,81.9 397.1,79.1" fill="#1aabba"/>
<polygon points="326.6,47.9 329.8,45.7 326.6,43.8 323.3,45.9" fill="#ff4f1a"/>
<polygon points="359.2,53.8 362.4,53.7 359.2,50.9 356.0,50.9" fill="#ffc01a"/>
<polygon points="281.6,65.2 284.7,60.0 281.5,59.2 278.4,64.4" fill="#9dff44"/>
<polygon points="287.9,60.9 291.0,56.1 287.8,55.2 284.7,60.0" fill="#d8ff44"/>
<polygon points="294.2,57.2 297.4,52.9 294.1,51.8 291.0,56.1" fill="#fff442"/>
<polygon points="300.6,54.1 303.8,50.2 300.5,49.0 297.4,52.9" fill="#ffc63e"/>
<polygon points="313.5,49.8 316.8,46.8 313.5,45.2 310.3,48.2" fill="#ff7d30"/>
<polygon points="320.1,48.5 323.3,45.9 320.0,44.2 316.8,46.8" fill="#ff6124"/>
<polygon points="333.1,47.8 336.4,46.1 333.1,44.0 329.8,45.7" fill="#ff4f1a"/>
<polygon points="352.7,51.4 356.0,50.9 352.7,48.2 349.5,48.7" fill="#ff931a"/>
<polygon points="365.7,56.8 368.9,57.1 365.7,54.1 362.4,53.7" fill="#fbf31a"/>
<polygon points="372.1,60.4 375.3,61.2 372.1,57.9 368.9,57.1" fill="#bff31a"/>
<polygon points="384.8,69.5 387.9,71.0 384.8,67.4 381.6,65.8" fill="#2ae61a"/>
<polygon points="391.0,74.9 394.1,76.8 391.0,73.0 387.9,71.0" fill="#1adc5b"/>
<polygon points="397.2,80.9 400.2,83.2 397.1,79.1 394.1,76.8" fill="#1acca9"/>
<polygon points="403.2,87.5 406.2,90.2 403.2,85.9 400.2,83.2" fill="#1a82be"/>
<polygon points="307.1,51.7 310.3,48.2 307.0,46.8 303.8,50.2" fill="#ff9e38"/>
<polygon points="339.7,48.4 342.9,47.1 339.7,44.8 336.4,46.1" fill="#ff5b1a"/>
<polygon points="346.2,49.6 349.5,48.7 346.2,46.2 342.9,47.1" fill="#ff721a"/>
<polygon points="378.4,64.6 381.6,65.8 378.5,62.3 375.3,61.2" fill="#77ec1a"/>
<polygon points="291.1,62.0 294.2,57.2 291.0,56.1 287.9,60.9" fill="#daff49"/>
<polygon points="310.3,53.3 313.5,49.8 310.3,48.2 307.1,51.7" fill="#ffa83d"/>
<polygon points="323.3,50.5 326.6,47.9 323.3,45.9 320.1,48.5" fill="#ff7228"/>
<polygon points="329.9,50.0 333.1,47.8 329.8,45.7 326.6,47.9" fill="#ff611a"/>
<polygon points="356.0,54.3 359.2,53.8 356.0,50.9 352.7,51.4" fill="#ffb31a"/>
<polygon points="362.4,56.9 365.7,56.8 362.4,53.7 359.2,53.8" fill="#ffe31a"/>
<polygon points="375.3,63.9 378.4,64.6 375.3,61.2 372.1,60.4" fill="#9af51a"/>
<polygon points="394.1,79.0 397.2,80.9 394.1,76.8 391.0,74.9" fill="#1ae088"/>
<polygon points="284.8,66.2 287.9,60.9 284.7,60.0 281.6,65.2" fill="#a3ff4a"/>
<polygon points="297.5,58.5 300.6,54.1 297.4,52.9 294.2,57.2" fill="#fff547"/>
<polygon points="303.9,55.6 307.1,51.7 303.8,50.2 300.6,54.1" fill="#ffcb43"/>
<polygon points="316.8,51.6 320.1,48.5 316.8,46.8 313.5,49.8" fill="#ff8a34"/>
<polygon points="336.4,50.2 339.7,48.4 336.4,46.1 333.1,47.8" fill="#ff651a"/>
<polygon points="342.9,50.9 346.2,49.6 342.9,47.1 339.7,48.4" fill="#ff741a"/>
<polygon points="349.4,52.3 352.7,51.4 349.5,48.7 346.2,49.6" fill="#ff8e1a"/>
<polygon points="368.9,60.1 372.1,60.4 368.9,57.1 365.7,56.8" fill="#dffc1a"/>
<polygon points="381.6,68.3 384.8,69.5 381.6,65.8 378.4,64.6" fill="#50ee1a"/>
<polygon points="387.9,73.3 391.0,74.9 387.9,71.0 384.8,69.5" fill="#1ae733"/>
<polygon points="400.2,85.2 403.2,87.5 400.2,83.2 397.2,80.9" fill="#1acad0"/>
<polygon points="288.1,67.3 291.1,62.0 287.9,60.9 284.8,66.2" fill="#a7ff4e"/>
<polygon points="294.4,63.4 297.5,58.5 294.2,57.2 291.1,62.0" fill="#d9ff4e"/>
<polygon points="307.2,57.2 310.3,53.3 307.1,51.7 303.9,55.6" fill="#ffd348"/>
<polygon points="313.6,55.1 316.8,51.6 313.5,49.8 310.3,53.3" fill="#ffb341"/>
<polygon points="320.1,53.6 323.3,50.5 320.1,48.5 316.8,51.6" fill="#ff9938"/>
<polygon points="326.6,52.6 329.9,50.0 326.6,47.9 323.3,50.5" fill="#ff862c"/>
<polygon points="333.1,52.4 336.4,50.2 333.1,47.8 329.9,50.0" fill="#ff791d"/>
<polygon points="339.7,52.7 342.9,50.9 339.7,48.4 336.4,50.2" fill="#ff7e1a"/>
<polygon points="346.2,53.6 349.4,52.3 346.2,49.6 342.9,50.9" fill="#ff911a"/>
<polygon points="352.7,55.2 356.0,54.3 352.7,51.4 349.4,52.3" fill="#ffae1a"/>
<polygon points="359.2,57.4 362.4,56.9 359.2,53.8 356.0,54.3" fill="#ffd61a"/>
<polygon points="365.6,60.2 368.9,60.1 365.7,56.8 362.4,56.9" fill="#f5ff1a"/>
<polygon points="372.1,63.6 375.3,63.9 372.1,60.4 368.9,60.1" fill="#bafd1a"/>
<polygon points="378.4,67.6 381.6,68.3 378.4,64.6 375.3,63.9" fill="#72f61a"/>
<polygon points="391.0,77.4 394.1,79.0 391.0,74.9 387.9,73.3" fill="#1ae960"/>
<polygon points="397.2,83.3 400.2,85.2 397.2,80.9 394.1,79.0" fill="#1ae3b8"/>
<polygon points="300.7,60.0 303.9,55.6 300.6,54.1 297.5,58.5" fill="#fffa4c"/>
<polygon points="384.7,72.2 387.9,73.3 384.8,69.5 381.6,68.3" fill="#26ef1a"/>
<polygon points="291.3,68.7 294.4,63.4 291.1,62.0 288.1,67.3" fill="#a8ff53"/>
<polygon points="297.6,64.9 300.7,60.0 297.5,58.5 294.4,63.4" fill="#d7ff52"/>
<polygon points="304.0,61.7 307.2,57.2 303.9,55.6 300.7,60.0" fill="#feff50"/>
<polygon points="310.4,59.1 313.6,55.1 310.3,53.3 307.2,57.2" fill="#ffdd4c"/>
<polygon points="316.9,57.1 320.1,53.6 316.8,51.6 313.6,55.1" fill="#ffc145"/>
<polygon points="323.4,55.7 326.6,52.6 323.3,50.5 320.1,53.6" fill="#ffab3c"/>
<polygon points="329.9,55.0 333.1,52.4 329.9,50.0 326.6,52.6" fill="#ff9b2f"/>
<polygon points="336.4,54.9 339.7,52.7 336.4,50.2 333.1,52.4" fill="#ff9320"/>
<polygon points="342.9,55.4 346.2,53.6 342.9,50.9 339.7,52.7" fill="#ff9b1a"/>
<polygon points="349.4,56.5 352.7,55.2 349.4,52.3 346.2,53.6" fill="#ffb01a"/>
<polygon points="355.9,58.3 359.2,57.4 356.0,54.3 352.7,55.2" fill="#ffd11a"/>
<polygon points="362.4,60.7 365.6,60.2 362.4,56.9 359.2,57.4" fill="#fffc1a"/>
<polygon points="368.8,63.7 372.1,63.6 368.9,60.1 365.6,60.2" fill="#ceff1a"/>
<polygon points="375.2,67.3 378.4,67.6 375.3,63.9 372.1,63.6" fill="#90fe1a"/>
<polygon points="381.6,71.5 384.7,72.2 381.6,68.3 378.4,67.6" fill="#47f71a"/>
<polygon points="387.8,76.3 391.0,77.4 387.9,73.3 384.7,72.2" fill="#1af03b"/>
<polygon points="394.1,81.8 397.2,83.3 394.1,79.0 391.0,77.4" fill="#1aea90"/>
<polygon points="300.9,66.6 304.0,61.7 300.7,60.0 297.6,64.9" fill="#d2ff57"/>
<polygon points="313.7,61.1 316.9,57.1 313.6,55.1 310.4,59.1" fill="#ffe950"/>
<polygon points="372.0,67.4 375.2,67.3 372.1,63.6 368.8,63.7" fill="#a4ff1a"/>
<polygon points="384.7,75.6 387.8,76.3 384.7,72.2 381.6,71.5" fill="#1af81b"/>
<polygon points="294.5,70.2 297.6,64.9 294.4,63.4 291.3,68.7" fill="#a7ff58"/>
<polygon points="307.3,63.5 310.4,59.1 307.2,57.2 304.0,61.7" fill="#f6ff54"/>
<polygon points="320.2,59.3 323.4,55.7 320.1,53.6 316.9,57.1" fill="#ffd149"/>
<polygon points="326.6,58.1 329.9,55.0 326.6,52.6 323.4,55.7" fill="#ffbe3f"/>
<polygon points="333.2,57.6 336.4,54.9 333.1,52.4 329.9,55.0" fill="#ffb332"/>
<polygon points="339.7,57.6 342.9,55.4 339.7,52.7 336.4,54.9" fill="#ffaf22"/>
<polygon points="346.2,58.3 349.4,56.5 346.2,53.6 342.9,55.4" fill="#ffba1a"/>
<polygon points="352.7,59.7 355.9,58.3 352.7,55.2 349.4,56.5" fill="#ffd31a"/>
<polygon points="359.2,61.6 362.4,60.7 359.2,57.4 355.9,58.3" fill="#fff71a"/>
<polygon points="365.6,64.2 368.8,63.7 365.6,60.2 362.4,60.7" fill="#dbff1a"/>
<polygon points="378.4,71.2 381.6,71.5 378.4,67.6 375.2,67.3" fill="#63ff1a"/>
<polygon points="390.9,80.7 394.1,81.8 391.0,77.4 387.8,76.3" fill="#1af16d"/>
<polygon points="297.8,71.9 300.9,66.6 297.6,64.9 294.5,70.2" fill="#a4ff5c"/>
<polygon points="304.1,68.5 307.3,63.5 304.0,61.7 300.9,66.6" fill="#ccff5b"/>
<polygon points="310.5,65.6 313.7,61.1 310.4,59.1 307.3,63.5" fill="#ecff58"/>
<polygon points="317.0,63.3 320.2,59.3 316.9,57.1 313.7,61.1" fill="#fff753"/>
<polygon points="336.4,60.3 339.7,57.6 336.4,54.9 333.2,57.6" fill="#ffcc35"/>
<polygon points="342.9,60.6 346.2,58.3 342.9,55.4 339.7,57.6" fill="#ffce24"/>
<polygon points="349.4,61.5 352.7,59.7 349.4,56.5 346.2,58.3" fill="#ffdd1a"/>
<polygon points="368.8,67.9 372.0,67.4 368.8,63.7 365.6,64.2" fill="#b0ff1a"/>
<polygon points="375.2,71.3 378.4,71.2 375.2,67.3 372.0,67.4" fill="#77ff1a"/>
<polygon points="381.5,75.3 384.7,75.6 381.6,71.5 378.4,71.2" fill="#33ff1a"/>
<polygon points="387.8,80.0 390.9,80.7 387.8,76.3 384.7,75.6" fill="#1af94e"/>
<polygon points="323.4,61.7 326.6,58.1 323.4,55.7 320.2,59.3" fill="#ffe24c"/>
<polygon points="329.9,60.7 333.2,57.6 329.9,55.0 326.6,58.1" fill="#ffd342"/>
<polygon points="355.9,63.0 359.2,61.6 355.9,58.3 352.7,59.7" fill="#fff91a"/>
<polygon points="362.4,65.2 365.6,64.2 362.4,60.7 359.2,61.6" fill="#e0ff1a"/>
<polygon points="307.4,70.6 310.5,65.6 307.3,63.5 304.1,68.5" fill="#c3ff5e"/>
<polygon points="339.7,63.3 342.9,60.6 339.7,57.6 336.4,60.3" fill="#ffe837"/>
<polygon points="346.2,63.8 349.4,61.5 346.2,58.3 342.9,60.6" fill="#ffef26"/>
<polygon points="378.3,75.5 381.5,75.3 378.4,71.2 375.2,71.3" fill="#47ff1a"/>
<polygon points="301.0,73.9 304.1,68.5 300.9,66.6 297.8,71.9" fill="#9fff5f"/>
<polygon points="313.8,67.9 317.0,63.3 313.7,61.1 310.5,65.6" fill="#e0ff5b"/>
<polygon points="320.2,65.8 323.4,61.7 320.2,59.3 317.0,63.3" fill="#f7ff56"/>
<polygon points="326.7,64.3 329.9,60.7 326.6,58.1 323.4,61.7" fill="#fff54e"/>
<polygon points="333.2,63.5 336.4,60.3 333.2,57.6 329.9,60.7" fill="#ffeb44"/>
<polygon points="352.6,64.9 355.9,63.0 352.7,59.7 349.4,61.5" fill="#fbff1a"/>
<polygon points="359.1,66.6 362.4,65.2 359.2,61.6 355.9,63.0" fill="#deff1a"/>
<polygon points="365.6,68.9 368.8,67.9 365.6,64.2 362.4,65.2" fill="#b6ff1a"/>
<polygon points="372.0,71.9 375.2,71.3 372.0,67.4 368.8,67.9" fill="#83ff1a"/>
<polygon points="384.6,79.7 387.8,80.0 384.7,75.6 381.5,75.3" fill="#1aff34"/>
<polygon points="304.3,76.0 307.4,70.6 304.1,68.5 301.0,73.9" fill="#97ff63"/>
<polygon points="310.6,72.9 313.8,67.9 310.5,65.6 307.4,70.6" fill="#b9ff61"/>
<polygon points="323.5,68.4 326.7,64.3 323.4,61.7 320.2,65.8" fill="#e7ff59"/>
<polygon points="330.0,67.2 333.2,63.5 329.9,60.7 326.7,64.3" fill="#f4ff51"/>
<polygon points="336.4,66.5 339.7,63.3 336.4,60.3 333.2,63.5" fill="#faff46"/>
<polygon points="342.9,66.5 346.2,63.8 342.9,60.6 339.7,63.3" fill="#f8ff38"/>
<polygon points="349.4,67.2 352.6,64.9 349.4,61.5 346.2,63.8" fill="#ecff28"/>
<polygon points="355.9,68.4 359.1,66.6 355.9,63.0 352.6,64.9" fill="#d5ff1a"/>
<polygon points="362.3,70.4 365.6,68.9 362.4,65.2 359.1,66.6" fill="#b4ff1a"/>
<polygon points="375.1,76.1 378.3,75.5 375.2,71.3 372.0,71.9" fill="#53ff1a"/>
<polygon points="381.5,79.9 384.6,79.7 381.5,75.3 378.3,75.5" fill="#1aff20"/>
<polygon points="317.0,70.3 320.2,65.8 317.0,63.3 313.8,67.9" fill="#d3ff5e"/>
<polygon points="368.7,72.9 372.0,71.9 368.8,67.9 365.6,68.9" fill="#89ff1a"/>
<polygon points="307.5,78.4 310.6,72.9 307.4,70.6 304.3,76.0" fill="#8eff66"/>
<polygon points="313.9,75.4 317.0,70.3 313.8,67.9 310.6,72.9" fill="#adff64"/>
<polygon points="320.3,73.0 323.5,68.4 320.2,65.8 317.0,70.3" fill="#c4ff61"/>
<polygon points="326.7,71.3 330.0,67.2 326.7,64.3 323.5,68.4" fill="#d4ff5b"/>
<polygon points="333.2,70.2 336.4,66.5 333.2,63.5 330.0,67.2" fill="#deff52"/>
<polygon points="339.7,69.8 342.9,66.5 339.7,63.3 336.4,66.5" fill="#e0ff47"/>
<polygon points="346.2,69.9 349.4,67.2 346.2,63.8 342.9,66.5" fill="#daff39"/>
<polygon points="352.6,70.8 355.9,68.4 352.6,64.9 349.4,67.2" fill="#c8ff29"/>
<polygon points="359.1,72.2 362.3,70.4 359.1,66.6 355.9,68.4" fill="#abff1a"/>
<polygon points="365.5,74.4 368.7,72.9 365.6,68.9 362.3,70.4" fill="#87ff1a"/>
<polygon points="371.9,77.1 375.1,76.1 372.0,71.9 368.7,72.9" fill="#59ff1a"/>
<polygon points="378.3,80.5 381.5,79.9 378.3,75.5 375.1,76.1" fill="#20ff1a"/>
<polygon points="310.8,80.9 313.9,75.4 310.6,72.9 307.5,78.4" fill="#84ff69"/>
<polygon points="317.1,78.1 320.3,73.0 317.0,70.3 313.9,75.4" fill="#9fff67"/>
<polygon points="323.6,75.9 326.7,71.3 323.5,68.4 320.3,73.0" fill="#b3ff63"/>
<polygon points="330.0,74.4 333.2,70.2 330.0,67.2 326.7,71.3" fill="#c0ff5d"/>
<polygon points="336.5,73.5 339.7,69.8 336.4,66.5 333.2,70.2" fill="#c6ff54"/>
<polygon points="342.9,73.2 346.2,69.9 342.9,66.5 339.7,69.8" fill="#c4ff48"/>
<polygon points="349.4,73.6 352.6,70.8 349.4,67.2 346.2,69.9" fill="#b9ff3a"/>
<polygon points="355.8,74.6 359.1,72.2 355.9,68.4 352.6,70.8" fill="#a2ff29"/>
<polygon points="362.3,76.3 365.5,74.4 362.3,70.4 359.1,72.2" fill="#7eff1a"/>
<polygon points="368.7,78.6 371.9,77.1 368.7,72.9 365.5,74.4" fill="#57ff1a"/>
<polygon points="375.0,81.5 378.3,80.5 375.1,76.1 371.9,77.1" fill="#26ff1a"/>
<polygon points="326.8,79.0 330.0,74.4 326.7,71.3 323.6,75.9" fill="#a0ff65"/>
<polygon points="333.2,77.7 336.5,73.5 333.2,70.2 330.0,74.4" fill="#aaff5e"/>
<polygon points="352.6,77.4 355.8,74.6 352.6,70.8 349.4,73.6" fill="#96ff3b"/>
<polygon points="359.0,78.7 362.3,76.3 359.1,72.2 355.8,74.6" fill="#79ff2a"/>
<polygon points="314.0,83.7 317.1,78.1 313.9,75.4 310.8,80.9" fill="#77ff6b"/>
<polygon points="320.4,81.0 323.6,75.9 320.3,73.0 317.1,78.1" fill="#8fff69"/>
<polygon points="339.7,76.9 342.9,73.2 339.7,69.8 336.5,73.5" fill="#adff55"/>
<polygon points="346.1,76.9 349.4,73.6 346.2,69.9 342.9,73.2" fill="#a6ff49"/>
<polygon points="365.4,80.5 368.7,78.6 365.5,74.4 362.3,76.3" fill="#4eff1a"/>
<polygon points="371.8,83.0 375.0,81.5 371.9,77.1 368.7,78.6" fill="#24ff1a"/>
<polygon points="317.3,86.6 320.4,81.0 317.1,78.1 314.0,83.7" fill="#6eff72"/>
<polygon points="323.6,84.2 326.8,79.0 323.6,75.9 320.4,81.0" fill="#7eff6b"/>
<polygon points="330.0,82.3 333.2,77.7 330.0,74.4 326.8,79.0" fill="#8cff66"/>
<polygon points="336.5,81.2 339.7,76.9 336.5,73.5 333.2,77.7" fill="#92ff5f"/>
<polygon points="342.9,80.6 346.1,76.9 342.9,73.2 339.7,76.9" fill="#91ff56"/>
<polygon points="349.4,80.8 352.6,77.4 349.4,73.6 346.1,76.9" fill="#86ff4a"/>
<polygon points="355.8,81.5 359.0,78.7 355.8,74.6 352.6,77.4" fill="#70ff3b"/>
<polygon points="362.2,83.0 365.4,80.5 362.3,76.3 359.0,78.7" fill="#4cff2a"/>
<polygon points="368.6,85.0 371.8,83.0 368.7,78.6 365.4,80.5" fill="#1cff1a"/>
<polygon points="320.5,89.8 323.6,84.2 320.4,81.0 317.3,86.6" fill="#6fff87"/>
<polygon points="326.9,87.5 330.0,82.3 326.8,79.0 323.6,84.2" fill="#6cff6e"/>
<polygon points="339.7,84.9 342.9,80.6 339.7,76.9 336.5,81.2" fill="#79ff60"/>
<polygon points="346.1,84.6 349.4,80.8 346.1,76.9 342.9,80.6" fill="#73ff56"/>
<polygon points="359.0,85.9 362.2,83.0 359.0,78.7 355.8,81.5" fill="#47ff3b"/>
<polygon points="365.4,87.5 368.6,85.0 365.4,80.5 362.2,83.0" fill="#2aff37"/>
<polygon points="333.3,85.9 336.5,81.2 333.2,77.7 330.0,82.3" fill="#76ff67"/>
<polygon points="352.6,84.9 355.8,81.5 352.6,77.4 349.4,80.8" fill="#63ff4a"/>
<polygon points="323.7,93.2 326.9,87.5 323.6,84.2 320.5,89.8" fill="#71ff9c"/>
<polygon points="336.5,89.7 339.7,84.9 336.5,81.2 333.3,85.9" fill="#68ff73"/>
<polygon points="342.9,88.9 346.1,84.6 342.9,80.6 339.7,84.9" fill="#61ff65"/>
<polygon points="349.3,88.7 352.6,84.9 349.4,80.8 346.1,84.6" fill="#57ff5b"/>
<polygon points="362.1,90.4 365.4,87.5 362.2,83.0 359.0,85.9" fill="#3bff5b"/>
<polygon points="330.1,91.1 333.3,85.9 330.0,82.3 326.9,87.5" fill="#6eff86"/>
<polygon points="355.7,89.2 359.0,85.9 355.8,81.5 352.6,84.9" fill="#4aff57"/>
<polygon points="326.9,96.9 330.1,91.1 326.9,87.5 323.7,93.2" fill="#72ffb3"/>
<polygon points="333.3,95.0 336.5,89.7 333.3,85.9 330.1,91.1" fill="#6fff9f"/>
<polygon points="339.7,93.7 342.9,88.9 339.7,84.9 336.5,89.7" fill="#69ff8f"/>
<polygon points="346.1,93.1 349.3,88.7 346.1,84.6 342.9,88.9" fill="#61ff84"/>
<polygon points="352.5,93.1 355.7,89.2 352.6,84.9 349.3,88.7" fill="#57ff7e"/>
<polygon points="358.9,93.8 362.1,90.4 359.0,85.9 355.7,89.2" fill="#4aff80"/>
<polygon points="330.2,100.7 333.3,95.0 330.1,91.1 326.9,96.9" fill="#73ffcb"/>
<polygon points="336.5,99.0 339.7,93.7 336.5,89.7 333.3,95.0" fill="#6fffba"/>
<polygon points="342.9,97.9 346.1,93.1 342.9,88.9 339.7,93.7" fill="#69ffad"/>
<polygon points="349.3,97.5 352.5,93.1 349.3,88.7 346.1,93.1" fill="#61ffa6"/>
<polygon points="355.7,97.8 358.9,93.8 355.7,89.2 352.5,93.1" fill="#56ffa4"/>
<polygon points="333.4,104.8 336.5,99.0 333.3,95.0 330.2,100.7" fill="#74ffe5"/>
<polygon points="339.7,103.3 342.9,97.9 339.7,93.7 336.5,99.0" fill="#70ffd6"/>
<polygon points="346.1,102.4 349.3,97.5 346.1,93.1 342.9,97.9" fill="#69ffcd"/>
<polygon points="352.5,102.2 355.7,97.8 352.5,93.1 349.3,97.5" fill="#61ffc9"/>
<polygon points="336.6,109.2 339.7,103.3 336.5,99.0 333.4,104.8" fill="#75feff"/>
<polygon points="342.9,107.8 346.1,102.4 342.9,97.9 339.7,103.3" fill="#70fff4"/>
<polygon points="349.3,107.1 352.5,102.2 349.3,97.5 346.1,102.4" fill="#69ffee"/>
<polygon points="339.7,113.8 342.9,107.8 339.7,103.3 336.6,109.2" fill="#75dcff"/>
<polygon points="346.1,112.6 349.3,107.1 346.1,102.4 342.9,107.8" fill="#70e6ff"/>
<polygon points="342.9,118.6 346.1,112.6 342.9,107.8 339.7,113.8" fill="#75b8ff"/>
</g>
<text x="277.45" y="97.70" font-size="9.0" text-anchor="end" font-family="'Liberation Serif', serif">15</text>
<text x="276.67" y="81.20" font-size="9.0" text-anchor="end" font-family="'Liberation Serif', serif">20</text>
<text x="275.88" y="64.70" font-size="9.0" text-anchor="end" font-family="'Liberation Serif', serif">25</text>
<text x="275.09" y="48.20" font-size="9.0" text-anchor="end" font-family="'Liberation Serif', serif">30</text>
<text x="274.30" y="31.70" font-size="9.0" text-anchor="end" font-family="'Liberation Serif', serif">35</text>
<text x="259.85" y="66.10" font-size="8.5" text-anchor="middle" font-family="'Liberation Serif', serif" transform="rotate(-90 259.85 66.10)">Reducing sugar content (g/L)</text>
<text x="273.75" y="120.60" font-size="9.0" text-anchor="middle" font-family="'Liberation Serif', serif">72</text>
<text x="288.75" y="128.85" font-size="9.0" text-anchor="middle" font-family="'Liberation Serif', serif">66</text>
<text x="305.00" y="136.35" font-size="9.0" text-anchor="middle" font-family="'Liberation Serif', serif">60</text>
<text x="321.25" y="143.85" font-size="9.0" text-anchor="middle" font-family="'Liberation Serif', serif">54</text>
<text x="336.75" y="151.10" font-size="9.0" text-anchor="middle" font-family="'Liberation Serif', serif">48</text>
<text x="348.75" y="151.10" font-size="9.0" text-anchor="middle" font-family="'Liberation Serif', serif">30</text>
<text x="365.00" y="143.60" font-size="9.0" text-anchor="middle" font-family="'Liberation Serif', serif">35</text>
<text x="379.25" y="135.60" font-size="9.0" text-anchor="middle" font-family="'Liberation Serif', serif">40</text>
<text x="396.25" y="128.10" font-size="9.0" text-anchor="middle" font-family="'Liberation Serif', serif">45</text>
<text x="410.50" y="120.60" font-size="9.0" text-anchor="middle" font-family="'Liberation Serif', serif">50</text>
<circle cx="278.4" cy="64.4" r="1.7" fill="#b00010" stroke="#a04050" stroke-width="0.3"/>
<circle cx="342.9" cy="43.4" r="1.7" fill="#b00010" stroke="#a04050" stroke-width="0.3"/>
<circle cx="342.9" cy="118.6" r="1.7" fill="#f8c8d0" stroke="#a04050" stroke-width="0.3"/>
<circle cx="406.2" cy="90.2" r="1.7" fill="#f8c8d0" stroke="#a04050" stroke-width="0.3"/>
<clipPath id="bc"><path d="M564.0 144.2L626.2 114.8L564.1 91.2L501.9 114.6Z"/></clipPath>
<path d="M564.0 144.2L626.2 114.8L564.1 91.2L501.9 114.6Z" fill="#666666" stroke="#222" stroke-width="0.7"/>
<g clip-path="url(#bc)" fill="none" stroke-width="1.0">
<path stroke="#1ee0ba" d="M430.6 122.0 L429.2 120.6 L428.0 119.1 L426.9 117.7 L426.0 116.2 L425.2 114.8 L424.6 113.3 L424.1 111.8 L423.8 110.4 L423.6 108.9 L423.7 107.5 L423.8 106.1 L424.1 104.6 L424.6 103.2 L425.3 101.8 L426.1 100.5 L427.0 99.1 L428.1 97.8 L429.4 96.5 L430.8 95.2 L432.3 93.9 L434.0 92.6 L435.8 91.4 L437.8 90.2 L439.9 89.1 L442.2 87.9 L444.6 86.8 L447.1 85.8 L449.8 84.7 L452.6 83.7 L455.5 82.7 L458.5 81.7 L461.6 80.8 L464.9 79.9 L468.2 79.0 L471.7 78.2 L475.3 77.4 L478.9 76.6 L482.6 75.8 L486.5 75.1 L490.4 74.4 L494.4 73.7 L498.4 73.1 L502.5 72.4 L506.7 71.8 L511.0 71.3 L515.3 70.7 L519.6 70.2 L524.0 69.7 L528.4 69.2 L532.8 68.8 L537.3 68.4 L541.8 68.0 L546.3 67.6 L550.8 67.2 L555.3 66.9 L559.8 66.6 L564.3 66.3 L568.7 66.0 L573.2 65.8 L577.6 65.6 L582.1 65.4 L586.4 65.3 L590.8 65.1 L595.0 65.0 L599.3 64.9 L603.4 64.9 L607.6 64.9 L611.6 64.9 L615.6 64.9 L619.5 65.0 L623.3 65.1 L627.0 65.2 L630.7 65.4 L634.2 65.6 L637.7 65.8 L641.0 66.1 L644.2 66.4 L647.4 66.7 L650.4 67.1 L653.3 67.5 L656.0 68.0 L658.7 68.5 L661.2 69.0 L663.6 69.6 L665.8 70.3 L667.9 70.9 L669.9 71.6 L671.7 72.4 L673.4 73.2 L674.9 74.1 L676.3 75.0 L677.5 75.9 L678.6 76.9 L679.5 77.9 L680.3 79.0 L680.9 80.1 L681.4 81.2 L681.7 82.4 L681.9 83.6 L681.8 84.9 L681.7 86.2 L681.4 87.6 L680.9 89.0 L680.2 90.4 L679.4 91.8 L678.5 93.3 L677.4 94.8 L676.2 96.3 L674.8 97.9 L673.2 99.4 L671.5 101.0 L669.7 102.6 L667.7 104.2 L665.6 105.9 L663.3 107.5 L660.9 109.1 L658.4 110.8 L655.7 112.4 L652.9 114.1 L650.0 115.7 L647.0 117.3 L643.9 118.9 L640.6 120.5 L637.3 122.0 L633.8 123.6 L630.2 125.1 L626.6 126.6 L622.9 128.0 L619.0 129.5 L615.1 130.8 L611.1 132.2 L607.1 133.5 L603.0 134.7 L598.8 135.9 L594.5 137.0 L590.3 138.1 L585.9 139.2 L581.5 140.1 L577.1 141.0 L572.7 141.9 L568.2 142.7 L563.7 143.4 L559.2 144.0 L554.7 144.6 L550.2 145.1 L545.7 145.5 L541.2 145.9 L536.8 146.2 L532.3 146.4 L527.9 146.5 L523.5 146.6 L519.1 146.6 L514.8 146.5 L510.5 146.4 L506.2 146.1 L502.1 145.9 L497.9 145.5 L493.9 145.1 L489.9 144.6 L486.0 144.0 L482.2 143.4 L478.5 142.7 L474.8 141.9 L471.3 141.1 L467.8 140.2 L464.5 139.3 L461.3 138.3 L458.1 137.3 L455.1 136.2 L452.2 135.1 L449.5 133.9 L446.8 132.7 L444.3 131.5 L441.9 130.2 L439.7 128.9 L437.6 127.6 L435.6 126.2 L433.8 124.8 L432.1 123.4 L430.6 122.0Z"/>
<path stroke="#1ee060" d="M440.6 120.7 L439.3 119.4 L438.2 118.1 L437.2 116.8 L436.4 115.5 L435.6 114.2 L435.1 112.8 L434.7 111.5 L434.4 110.2 L434.2 108.8 L434.2 107.5 L434.4 106.2 L434.7 104.9 L435.1 103.6 L435.7 102.3 L436.4 101.1 L437.3 99.8 L438.3 98.6 L439.5 97.4 L440.8 96.2 L442.2 95.0 L443.7 93.9 L445.4 92.7 L447.3 91.6 L449.2 90.5 L451.3 89.5 L453.5 88.4 L455.8 87.4 L458.2 86.4 L460.8 85.5 L463.5 84.5 L466.2 83.6 L469.1 82.8 L472.1 81.9 L475.2 81.1 L478.3 80.3 L481.6 79.5 L485.0 78.8 L488.4 78.0 L491.9 77.3 L495.5 76.7 L499.2 76.0 L502.9 75.4 L506.7 74.8 L510.5 74.2 L514.4 73.7 L518.3 73.2 L522.3 72.7 L526.3 72.2 L530.4 71.7 L534.4 71.3 L538.5 70.9 L542.7 70.5 L546.8 70.2 L550.9 69.8 L555.1 69.5 L559.2 69.2 L563.3 69.0 L567.4 68.7 L571.5 68.5 L575.6 68.3 L579.6 68.2 L583.7 68.0 L587.6 67.9 L591.6 67.8 L595.5 67.8 L599.3 67.7 L603.1 67.7 L606.8 67.7 L610.4 67.8 L614.0 67.9 L617.5 68.0 L620.9 68.1 L624.3 68.3 L627.5 68.5 L630.7 68.7 L633.8 69.0 L636.7 69.3 L639.6 69.7 L642.4 70.0 L645.0 70.5 L647.6 70.9 L650.0 71.4 L652.3 71.9 L654.5 72.5 L656.5 73.1 L658.5 73.7 L660.3 74.4 L661.9 75.1 L663.5 75.9 L664.9 76.7 L666.2 77.5 L667.3 78.4 L668.3 79.3 L669.1 80.3 L669.9 81.3 L670.4 82.3 L670.8 83.4 L671.1 84.5 L671.3 85.6 L671.3 86.8 L671.1 88.0 L670.8 89.2 L670.4 90.5 L669.8 91.8 L669.1 93.1 L668.2 94.5 L667.2 95.8 L666.0 97.2 L664.7 98.7 L663.3 100.1 L661.8 101.5 L660.1 103.0 L658.3 104.5 L656.3 105.9 L654.2 107.4 L652.0 108.9 L649.7 110.4 L647.3 111.9 L644.7 113.3 L642.0 114.8 L639.3 116.3 L636.4 117.7 L633.4 119.1 L630.3 120.6 L627.2 121.9 L623.9 123.3 L620.5 124.6 L617.1 126.0 L613.6 127.2 L610.0 128.5 L606.3 129.7 L602.6 130.8 L598.8 132.0 L595.0 133.0 L591.1 134.0 L587.2 135.0 L583.2 136.0 L579.2 136.8 L575.1 137.6 L571.1 138.4 L567.0 139.1 L562.8 139.7 L558.7 140.3 L554.6 140.8 L550.4 141.3 L546.3 141.7 L542.2 142.0 L538.1 142.3 L534.0 142.5 L529.9 142.6 L525.9 142.7 L521.8 142.7 L517.9 142.6 L513.9 142.5 L510.1 142.3 L506.2 142.0 L502.4 141.7 L498.7 141.3 L495.1 140.9 L491.5 140.4 L488.0 139.8 L484.6 139.2 L481.2 138.6 L478.0 137.8 L474.8 137.1 L471.7 136.2 L468.8 135.4 L465.9 134.4 L463.1 133.5 L460.5 132.5 L457.9 131.4 L455.5 130.4 L453.2 129.2 L451.0 128.1 L449.0 126.9 L447.0 125.7 L445.2 124.5 L443.6 123.3 L442.0 122.0 L440.6 120.7Z"/>
<path stroke="#3ae01e" d="M452.2 119.1 L451.1 118.0 L450.1 116.9 L449.2 115.7 L448.4 114.5 L447.8 113.4 L447.3 112.2 L446.9 111.0 L446.6 109.8 L446.5 108.6 L446.5 107.5 L446.7 106.3 L446.9 105.1 L447.3 104.0 L447.9 102.8 L448.5 101.7 L449.3 100.6 L450.2 99.4 L451.2 98.3 L452.4 97.3 L453.6 96.2 L455.0 95.2 L456.6 94.1 L458.2 93.1 L459.9 92.1 L461.8 91.2 L463.8 90.2 L465.8 89.3 L468.0 88.4 L470.3 87.5 L472.7 86.6 L475.2 85.8 L477.8 85.0 L480.5 84.2 L483.2 83.4 L486.1 82.7 L489.0 81.9 L492.0 81.2 L495.1 80.6 L498.2 79.9 L501.4 79.3 L504.7 78.7 L508.0 78.1 L511.4 77.5 L514.9 77.0 L518.4 76.5 L521.9 76.0 L525.5 75.5 L529.1 75.1 L532.7 74.7 L536.3 74.3 L540.0 73.9 L543.7 73.5 L547.4 73.2 L551.1 72.9 L554.8 72.6 L558.5 72.4 L562.2 72.1 L565.9 71.9 L569.6 71.7 L573.2 71.5 L576.9 71.4 L580.5 71.3 L584.0 71.2 L587.5 71.1 L591.0 71.1 L594.5 71.1 L597.8 71.1 L601.2 71.1 L604.4 71.2 L607.7 71.3 L610.8 71.4 L613.9 71.5 L616.9 71.7 L619.8 71.9 L622.6 72.2 L625.4 72.4 L628.0 72.7 L630.6 73.1 L633.1 73.4 L635.5 73.8 L637.7 74.3 L639.9 74.7 L642.0 75.2 L643.9 75.8 L645.8 76.3 L647.5 76.9 L649.1 77.6 L650.6 78.2 L652.0 78.9 L653.3 79.7 L654.4 80.5 L655.4 81.3 L656.3 82.1 L657.1 83.0 L657.7 83.9 L658.2 84.8 L658.6 85.8 L658.9 86.8 L659.0 87.8 L659.0 88.9 L658.8 90.0 L658.6 91.1 L658.2 92.2 L657.7 93.4 L657.0 94.6 L656.2 95.8 L655.3 97.0 L654.3 98.2 L653.1 99.5 L651.9 100.8 L650.5 102.0 L648.9 103.3 L647.3 104.6 L645.6 105.9 L643.7 107.2 L641.7 108.6 L639.7 109.9 L637.5 111.2 L635.2 112.5 L632.8 113.8 L630.3 115.0 L627.7 116.3 L625.1 117.6 L622.3 118.8 L619.4 120.0 L616.5 121.2 L613.5 122.4 L610.4 123.5 L607.3 124.6 L604.1 125.7 L600.8 126.8 L597.5 127.8 L594.1 128.8 L590.6 129.7 L587.1 130.6 L583.6 131.5 L580.0 132.3 L576.4 133.0 L572.8 133.8 L569.2 134.4 L565.5 135.0 L561.8 135.6 L558.1 136.1 L554.4 136.6 L550.7 137.0 L547.0 137.3 L543.3 137.6 L539.6 137.8 L535.9 138.0 L532.3 138.1 L528.6 138.2 L525.0 138.2 L521.5 138.2 L518.0 138.1 L514.5 137.9 L511.0 137.7 L507.7 137.4 L504.3 137.1 L501.1 136.7 L497.8 136.3 L494.7 135.8 L491.6 135.3 L488.6 134.7 L485.7 134.1 L482.9 133.4 L480.1 132.7 L477.5 131.9 L474.9 131.1 L472.4 130.3 L470.1 129.4 L467.8 128.5 L465.6 127.6 L463.5 126.6 L461.6 125.6 L459.7 124.6 L458.0 123.5 L456.4 122.5 L454.9 121.4 L453.5 120.3 L452.2 119.1Z"/>
<path stroke="#96e01e" d="M465.4 117.3 L464.4 116.3 L463.5 115.3 L462.7 114.3 L462.1 113.3 L461.5 112.3 L461.1 111.3 L460.8 110.3 L460.5 109.3 L460.4 108.3 L460.4 107.2 L460.6 106.2 L460.8 105.2 L461.1 104.2 L461.6 103.2 L462.1 102.2 L462.8 101.3 L463.6 100.3 L464.5 99.3 L465.5 98.4 L466.6 97.4 L467.8 96.5 L469.1 95.6 L470.6 94.7 L472.1 93.8 L473.7 93.0 L475.4 92.1 L477.2 91.3 L479.1 90.5 L481.1 89.7 L483.2 88.9 L485.3 88.2 L487.6 87.4 L489.9 86.7 L492.3 86.0 L494.8 85.3 L497.3 84.7 L499.9 84.1 L502.6 83.4 L505.4 82.8 L508.1 82.3 L511.0 81.7 L513.9 81.2 L516.8 80.7 L519.8 80.2 L522.9 79.7 L525.9 79.3 L529.0 78.9 L532.2 78.5 L535.3 78.1 L538.5 77.7 L541.7 77.4 L544.9 77.0 L548.1 76.8 L551.3 76.5 L554.6 76.2 L557.8 76.0 L561.0 75.8 L564.2 75.6 L567.4 75.4 L570.6 75.3 L573.7 75.2 L576.8 75.1 L579.9 75.0 L583.0 74.9 L586.0 74.9 L589.0 74.9 L591.9 74.9 L594.8 75.0 L597.7 75.1 L600.5 75.2 L603.2 75.3 L605.9 75.4 L608.5 75.6 L611.0 75.8 L613.5 76.0 L615.9 76.3 L618.2 76.6 L620.4 76.9 L622.6 77.3 L624.6 77.6 L626.6 78.0 L628.5 78.5 L630.3 78.9 L632.0 79.4 L633.6 79.9 L635.1 80.5 L636.5 81.1 L637.8 81.7 L639.0 82.3 L640.1 83.0 L641.1 83.7 L642.0 84.4 L642.8 85.1 L643.4 85.9 L644.0 86.7 L644.4 87.5 L644.8 88.4 L645.0 89.3 L645.1 90.2 L645.1 91.1 L645.0 92.1 L644.7 93.0 L644.4 94.0 L643.9 95.0 L643.4 96.0 L642.7 97.1 L641.9 98.1 L641.0 99.2 L640.0 100.3 L638.9 101.4 L637.7 102.5 L636.4 103.6 L634.9 104.7 L633.4 105.8 L631.8 106.9 L630.1 108.1 L628.3 109.2 L626.4 110.3 L624.4 111.4 L622.3 112.5 L620.2 113.6 L617.9 114.7 L615.6 115.7 L613.2 116.8 L610.7 117.8 L608.2 118.8 L605.6 119.8 L602.9 120.8 L600.1 121.7 L597.4 122.6 L594.5 123.5 L591.6 124.4 L588.7 125.2 L585.7 126.0 L582.6 126.8 L579.6 127.5 L576.5 128.2 L573.3 128.8 L570.2 129.4 L567.0 130.0 L563.8 130.5 L560.6 131.0 L557.4 131.4 L554.2 131.8 L551.0 132.1 L547.7 132.4 L544.5 132.7 L541.3 132.9 L538.1 133.1 L535.0 133.2 L531.8 133.2 L528.7 133.2 L525.6 133.2 L522.5 133.1 L519.5 133.0 L516.5 132.8 L513.6 132.6 L510.7 132.3 L507.8 132.0 L505.0 131.7 L502.3 131.3 L499.6 130.8 L497.0 130.3 L494.5 129.8 L492.0 129.3 L489.6 128.7 L487.3 128.0 L485.1 127.4 L482.9 126.7 L480.9 125.9 L478.9 125.2 L477.0 124.4 L475.2 123.6 L473.5 122.7 L471.9 121.9 L470.4 121.0 L469.0 120.1 L467.7 119.2 L466.5 118.2 L465.4 117.3Z"/>
<path stroke="#e0cc1e" d="M480.9 114.9 L480.1 114.1 L479.4 113.4 L478.7 112.6 L478.2 111.8 L477.7 110.9 L477.4 110.1 L477.1 109.3 L476.9 108.5 L476.8 107.7 L476.8 106.8 L476.9 106.0 L477.1 105.2 L477.4 104.3 L477.8 103.5 L478.3 102.7 L478.8 101.9 L479.5 101.1 L480.2 100.3 L481.0 99.5 L481.9 98.7 L482.9 97.9 L484.0 97.2 L485.2 96.4 L486.4 95.7 L487.7 95.0 L489.2 94.2 L490.6 93.5 L492.2 92.9 L493.8 92.2 L495.6 91.5 L497.3 90.9 L499.2 90.2 L501.1 89.6 L503.1 89.0 L505.1 88.5 L507.2 87.9 L509.3 87.3 L511.5 86.8 L513.8 86.3 L516.1 85.8 L518.4 85.3 L520.8 84.9 L523.2 84.4 L525.7 84.0 L528.2 83.6 L530.7 83.2 L533.2 82.8 L535.8 82.5 L538.4 82.2 L541.0 81.8 L543.7 81.6 L546.3 81.3 L548.9 81.0 L551.6 80.8 L554.2 80.6 L556.9 80.4 L559.5 80.2 L562.2 80.0 L564.8 79.9 L567.4 79.8 L570.0 79.7 L572.6 79.6 L575.1 79.6 L577.6 79.5 L580.1 79.5 L582.6 79.5 L585.0 79.6 L587.4 79.6 L589.7 79.7 L592.0 79.8 L594.2 79.9 L596.4 80.1 L598.6 80.3 L600.7 80.4 L602.7 80.7 L604.6 80.9 L606.5 81.2 L608.4 81.4 L610.2 81.8 L611.9 82.1 L613.5 82.4 L615.0 82.8 L616.5 83.2 L617.9 83.7 L619.2 84.1 L620.5 84.6 L621.6 85.1 L622.7 85.6 L623.7 86.2 L624.6 86.7 L625.4 87.3 L626.1 87.9 L626.8 88.6 L627.3 89.2 L627.8 89.9 L628.1 90.6 L628.4 91.3 L628.6 92.0 L628.7 92.8 L628.7 93.5 L628.6 94.3 L628.4 95.1 L628.1 95.9 L627.7 96.8 L627.3 97.6 L626.7 98.5 L626.1 99.3 L625.3 100.2 L624.5 101.1 L623.6 102.0 L622.6 102.9 L621.5 103.8 L620.3 104.7 L619.1 105.6 L617.8 106.5 L616.3 107.4 L614.9 108.3 L613.3 109.1 L611.7 110.0 L610.0 110.9 L608.2 111.8 L606.3 112.6 L604.4 113.5 L602.4 114.3 L600.4 115.2 L598.3 116.0 L596.2 116.7 L594.0 117.5 L591.7 118.3 L589.4 119.0 L587.1 119.7 L584.7 120.4 L582.3 121.0 L579.8 121.7 L577.3 122.3 L574.8 122.8 L572.3 123.4 L569.7 123.9 L567.1 124.4 L564.5 124.8 L561.9 125.2 L559.2 125.6 L556.6 126.0 L553.9 126.3 L551.3 126.6 L548.6 126.8 L546.0 127.0 L543.3 127.2 L540.7 127.3 L538.1 127.4 L535.5 127.4 L533.0 127.5 L530.4 127.4 L527.9 127.4 L525.4 127.3 L522.9 127.2 L520.5 127.0 L518.1 126.8 L515.8 126.5 L513.5 126.3 L511.3 126.0 L509.1 125.6 L506.9 125.3 L504.9 124.9 L502.8 124.4 L500.9 124.0 L499.0 123.5 L497.1 122.9 L495.3 122.4 L493.6 121.8 L492.0 121.2 L490.5 120.6 L489.0 119.9 L487.6 119.3 L486.3 118.6 L485.0 117.9 L483.9 117.2 L482.8 116.4 L481.8 115.7 L480.9 114.9Z"/>
<path stroke="#e06a1e" d="M500.9 111.7 L500.3 111.2 L499.8 110.6 L499.3 110.0 L498.9 109.5 L498.6 108.9 L498.3 108.3 L498.1 107.8 L498.0 107.2 L498.0 106.6 L498.0 106.0 L498.0 105.4 L498.2 104.8 L498.4 104.2 L498.6 103.6 L499.0 103.0 L499.4 102.4 L499.8 101.8 L500.4 101.3 L501.0 100.7 L501.6 100.1 L502.3 99.5 L503.1 99.0 L504.0 98.4 L504.9 97.9 L505.8 97.3 L506.8 96.8 L507.9 96.3 L509.1 95.7 L510.2 95.2 L511.5 94.7 L512.7 94.2 L514.1 93.8 L515.5 93.3 L516.9 92.8 L518.3 92.4 L519.9 92.0 L521.4 91.6 L523.0 91.1 L524.6 90.7 L526.3 90.4 L528.0 90.0 L529.7 89.6 L531.4 89.3 L533.2 89.0 L535.0 88.7 L536.8 88.4 L538.7 88.1 L540.5 87.8 L542.4 87.6 L544.3 87.3 L546.2 87.1 L548.1 86.9 L550.0 86.7 L551.9 86.5 L553.8 86.4 L555.7 86.2 L557.6 86.1 L559.5 86.0 L561.4 85.9 L563.3 85.8 L565.2 85.7 L567.0 85.7 L568.9 85.6 L570.7 85.6 L572.5 85.6 L574.3 85.7 L576.0 85.7 L577.7 85.8 L579.4 85.8 L581.1 85.9 L582.7 86.0 L584.3 86.1 L585.8 86.3 L587.3 86.4 L588.8 86.6 L590.2 86.8 L591.6 87.0 L592.9 87.3 L594.2 87.5 L595.4 87.8 L596.6 88.1 L597.7 88.4 L598.8 88.7 L599.8 89.0 L600.7 89.4 L601.6 89.7 L602.5 90.1 L603.2 90.5 L604.0 90.9 L604.6 91.3 L605.2 91.8 L605.7 92.2 L606.2 92.7 L606.6 93.2 L606.9 93.7 L607.2 94.2 L607.4 94.8 L607.5 95.3 L607.5 95.8 L607.5 96.4 L607.5 97.0 L607.3 97.6 L607.1 98.1 L606.9 98.7 L606.5 99.3 L606.1 100.0 L605.7 100.6 L605.1 101.2 L604.5 101.8 L603.9 102.4 L603.2 103.1 L602.4 103.7 L601.5 104.3 L600.6 105.0 L599.7 105.6 L598.7 106.2 L597.6 106.9 L596.5 107.5 L595.3 108.1 L594.0 108.7 L592.8 109.3 L591.4 109.9 L590.0 110.5 L588.6 111.1 L587.2 111.7 L585.6 112.2 L584.1 112.8 L582.5 113.3 L580.9 113.8 L579.2 114.3 L577.5 114.8 L575.8 115.3 L574.1 115.7 L572.3 116.2 L570.5 116.6 L568.7 117.0 L566.8 117.4 L565.0 117.7 L563.1 118.0 L561.2 118.3 L559.3 118.6 L557.4 118.9 L555.5 119.1 L553.6 119.4 L551.7 119.6 L549.8 119.7 L547.9 119.9 L546.0 120.0 L544.1 120.1 L542.2 120.1 L540.3 120.2 L538.5 120.2 L536.6 120.2 L534.8 120.2 L533.0 120.1 L531.2 120.0 L529.5 119.9 L527.8 119.8 L526.1 119.6 L524.4 119.5 L522.8 119.2 L521.2 119.0 L519.7 118.8 L518.2 118.5 L516.7 118.2 L515.3 117.9 L513.9 117.6 L512.6 117.2 L511.3 116.8 L510.1 116.4 L508.9 116.0 L507.8 115.6 L506.7 115.2 L505.7 114.7 L504.8 114.2 L503.9 113.8 L503.0 113.3 L502.3 112.8 L501.5 112.2 L500.9 111.7Z"/>
</g>
<path d="M501.9 114.6L497.8 28.8M626.2 114.8L630.2 29.0M517.5 108.8L514.4 25.0M610.7 108.9L613.7 25.2M533.0 102.9L531.0 21.3M595.1 103.0L597.1 21.4M548.5 97.0L547.5 17.5M579.6 97.1L580.6 17.6M564.1 91.2L564.1 13.8M564.1 91.2L564.1 13.8M501.0 94.8L564.1 73.3L627.1 95.0M500.2 78.3L564.1 58.5L627.9 78.5M499.4 61.8L564.1 43.6L628.7 62.0M498.6 45.3L564.1 28.7L629.4 45.5M497.8 28.8L564.1 13.8L630.2 29.0" fill="none" stroke="#1c1c1c" stroke-width="0.9"/>
<g stroke="#15150a" stroke-opacity="0.52" stroke-width="0.38" stroke-linejoin="round">
<polygon points="564.1,27.4 567.4,27.1 564.1,26.8 560.8,27.0" fill="#f0211a"/>
<polygon points="560.8,27.7 564.1,27.4 560.8,27.0 557.5,27.4" fill="#f21a1a"/>
<polygon points="567.4,27.9 570.6,27.5 567.4,27.1 564.1,27.4" fill="#f31a1a"/>
<polygon points="557.5,28.2 560.8,27.7 557.5,27.4 554.2,27.8" fill="#f51a1a"/>
<polygon points="570.6,28.5 573.9,28.1 570.6,27.5 567.4,27.9" fill="#f61a1a"/>
<polygon points="564.1,28.2 567.4,27.9 564.1,27.4 560.8,27.7" fill="#f51a1a"/>
<polygon points="554.2,28.7 557.5,28.2 554.2,27.8 551.0,28.3" fill="#f71a1a"/>
<polygon points="560.8,28.7 564.1,28.2 560.8,27.7 557.5,28.2" fill="#f81a1a"/>
<polygon points="567.4,28.9 570.6,28.5 567.4,27.9 564.1,28.2" fill="#f81a1a"/>
<polygon points="573.9,29.3 577.2,28.9 573.9,28.1 570.6,28.5" fill="#f91a1a"/>
<polygon points="550.9,29.3 554.2,28.7 551.0,28.3 547.7,28.9" fill="#fa1a1a"/>
<polygon points="557.5,29.3 560.8,28.7 557.5,28.2 554.2,28.7" fill="#fa1a1a"/>
<polygon points="564.1,29.4 567.4,28.9 564.1,28.2 560.8,28.7" fill="#fb1a1a"/>
<polygon points="570.6,29.7 573.9,29.3 570.6,28.5 567.4,28.9" fill="#fb1a1a"/>
<polygon points="577.2,30.2 580.5,29.8 577.2,28.9 573.9,29.3" fill="#fb1a1a"/>
<polygon points="547.7,30.0 550.9,29.3 547.7,28.9 544.4,29.5" fill="#fc1a1a"/>
<polygon points="560.8,30.0 564.1,29.4 560.8,28.7 557.5,29.3" fill="#fd1a1a"/>
<polygon points="567.4,30.3 570.6,29.7 567.4,28.9 564.1,29.4" fill="#fd1a1a"/>
<polygon points="580.5,31.4 583.7,30.9 580.5,29.8 577.2,30.2" fill="#fe1a1a"/>
<polygon points="554.2,29.9 557.5,29.3 554.2,28.7 550.9,29.3" fill="#fc1a1a"/>
<polygon points="573.9,30.7 577.2,30.2 573.9,29.3 570.6,29.7" fill="#fe1a1a"/>
<polygon points="544.4,30.8 547.7,30.0 544.4,29.5 541.1,30.2" fill="#fe1a1a"/>
<polygon points="550.9,30.6 554.2,29.9 550.9,29.3 547.7,30.0" fill="#ff1a1a"/>
<polygon points="557.5,30.7 560.8,30.0 557.5,29.3 554.2,29.9" fill="#ff1a1a"/>
<polygon points="564.1,30.9 567.4,30.3 564.1,29.4 560.8,30.0" fill="#ff1a1a"/>
<polygon points="570.6,31.3 573.9,30.7 570.6,29.7 567.4,30.3" fill="#ff1a1a"/>
<polygon points="577.2,31.9 580.5,31.4 577.2,30.2 573.9,30.7" fill="#ff1a1a"/>
<polygon points="583.7,32.7 587.0,32.2 583.7,30.9 580.5,31.4" fill="#ff1c1a"/>
<polygon points="541.1,31.6 544.4,30.8 541.1,30.2 537.8,31.1" fill="#ff1a1a"/>
<polygon points="554.2,31.5 557.5,30.7 554.2,29.9 550.9,30.6" fill="#ff1a1a"/>
<polygon points="573.9,32.5 577.2,31.9 573.9,30.7 570.6,31.3" fill="#ff1a1a"/>
<polygon points="587.0,34.1 590.3,33.6 587.0,32.2 583.7,32.7" fill="#ff251a"/>
<polygon points="547.6,31.5 550.9,30.6 547.7,30.0 544.4,30.8" fill="#ff1a1a"/>
<polygon points="560.8,31.6 564.1,30.9 560.8,30.0 557.5,30.7" fill="#ff1a1a"/>
<polygon points="567.3,32.0 570.6,31.3 567.4,30.3 564.1,30.9" fill="#ff1a1a"/>
<polygon points="580.5,33.2 583.7,32.7 580.5,31.4 577.2,31.9" fill="#ff1a1a"/>
<polygon points="537.8,32.6 541.1,31.6 537.8,31.1 534.5,32.0" fill="#ff1a1a"/>
<polygon points="544.4,32.3 547.6,31.5 544.4,30.8 541.1,31.6" fill="#ff1a1a"/>
<polygon points="550.9,32.3 554.2,31.5 550.9,30.6 547.6,31.5" fill="#ff1a1a"/>
<polygon points="557.5,32.4 560.8,31.6 557.5,30.7 554.2,31.5" fill="#ff1a1a"/>
<polygon points="564.1,32.7 567.3,32.0 564.1,30.9 560.8,31.6" fill="#ff1a1a"/>
<polygon points="570.6,33.2 573.9,32.5 570.6,31.3 567.3,32.0" fill="#ff1a1a"/>
<polygon points="577.2,33.9 580.5,33.2 577.2,31.9 573.9,32.5" fill="#ff1a1a"/>
<polygon points="583.7,34.7 587.0,34.1 583.7,32.7 580.5,33.2" fill="#ff1f1a"/>
<polygon points="590.3,35.8 593.5,35.2 590.3,33.6 587.0,34.1" fill="#ff321a"/>
<polygon points="534.5,33.6 537.8,32.6 534.5,32.0 531.2,33.0" fill="#ff1a1a"/>
<polygon points="541.1,33.3 544.4,32.3 541.1,31.6 537.8,32.6" fill="#ff1a1a"/>
<polygon points="547.6,33.2 550.9,32.3 547.6,31.5 544.4,32.3" fill="#ff1a1a"/>
<polygon points="554.2,33.3 557.5,32.4 554.2,31.5 550.9,32.3" fill="#ff1a1a"/>
<polygon points="560.8,33.6 564.1,32.7 560.8,31.6 557.5,32.4" fill="#ff1a1a"/>
<polygon points="567.3,34.0 570.6,33.2 567.3,32.0 564.1,32.7" fill="#ff1a1a"/>
<polygon points="573.9,34.7 577.2,33.9 573.9,32.5 570.6,33.2" fill="#ff1a1a"/>
<polygon points="580.4,35.4 583.7,34.7 580.5,33.2 577.2,33.9" fill="#ff1b1a"/>
<polygon points="587.0,36.4 590.3,35.8 587.0,34.1 583.7,34.7" fill="#ff2d1a"/>
<polygon points="593.5,37.6 596.8,37.0 593.5,35.2 590.3,35.8" fill="#ff431a"/>
<polygon points="531.2,34.7 534.5,33.6 531.2,33.0 528.0,34.0" fill="#ff1a1a"/>
<polygon points="544.4,34.3 547.6,33.2 544.4,32.3 541.1,33.3" fill="#ff1a1a"/>
<polygon points="550.9,34.3 554.2,33.3 550.9,32.3 547.6,33.2" fill="#ff1a1a"/>
<polygon points="564.1,34.9 567.3,34.0 564.1,32.7 560.8,33.6" fill="#ff1a1a"/>
<polygon points="577.2,36.2 580.4,35.4 577.2,33.9 573.9,34.7" fill="#ff1a1a"/>
<polygon points="583.7,37.2 587.0,36.4 583.7,34.7 580.4,35.4" fill="#ff291a"/>
<polygon points="596.7,39.6 600.0,38.9 596.8,37.0 593.5,37.6" fill="#ff561a"/>
<polygon points="537.8,34.4 541.1,33.3 537.8,32.6 534.5,33.6" fill="#ff1a1a"/>
<polygon points="557.5,34.5 560.8,33.6 557.5,32.4 554.2,33.3" fill="#ff1a1a"/>
<polygon points="570.6,35.5 573.9,34.7 570.6,33.2 567.3,34.0" fill="#ff1a1a"/>
<polygon points="590.2,38.3 593.5,37.6 590.3,35.8 587.0,36.4" fill="#ff3d1a"/>
<polygon points="528.0,35.9 531.2,34.7 528.0,34.0 524.7,35.2" fill="#ff1a1a"/>
<polygon points="534.5,35.6 537.8,34.4 534.5,33.6 531.2,34.7" fill="#ff1a1a"/>
<polygon points="541.1,35.4 544.4,34.3 541.1,33.3 537.8,34.4" fill="#ff1a1a"/>
<polygon points="547.6,35.4 550.9,34.3 547.6,33.2 544.4,34.3" fill="#ff1a1a"/>
<polygon points="554.2,35.5 557.5,34.5 554.2,33.3 550.9,34.3" fill="#ff1a1a"/>
<polygon points="560.8,35.9 564.1,34.9 560.8,33.6 557.5,34.5" fill="#ff1a1a"/>
<polygon points="567.3,36.4 570.6,35.5 567.3,34.0 564.1,34.9" fill="#ff1a1a"/>
<polygon points="573.9,37.1 577.2,36.2 573.9,34.7 570.6,35.5" fill="#ff1a1a"/>
<polygon points="580.4,38.0 583.7,37.2 580.4,35.4 577.2,36.2" fill="#ff261a"/>
<polygon points="587.0,39.1 590.2,38.3 587.0,36.4 583.7,37.2" fill="#ff3a1a"/>
<polygon points="593.5,40.3 596.7,39.6 593.5,37.6 590.2,38.3" fill="#ff511a"/>
<polygon points="600.0,41.7 603.2,41.0 600.0,38.9 596.7,39.6" fill="#ff6c1a"/>
<polygon points="557.5,36.9 560.8,35.9 557.5,34.5 554.2,35.5" fill="#ff1a1a"/>
<polygon points="570.6,38.1 573.9,37.1 570.6,35.5 567.3,36.4" fill="#ff1a1a"/>
<polygon points="524.7,37.2 528.0,35.9 524.7,35.2 521.4,36.5" fill="#ff1a1a"/>
<polygon points="531.2,36.8 534.5,35.6 531.2,34.7 528.0,35.9" fill="#ff1a1a"/>
<polygon points="537.8,36.6 541.1,35.4 537.8,34.4 534.5,35.6" fill="#ff1a1a"/>
<polygon points="544.4,36.5 547.6,35.4 544.4,34.3 541.1,35.4" fill="#ff1a1a"/>
<polygon points="550.9,36.6 554.2,35.5 550.9,34.3 547.6,35.4" fill="#ff1a1a"/>
<polygon points="564.0,37.4 567.3,36.4 564.1,34.9 560.8,35.9" fill="#ff1a1a"/>
<polygon points="577.1,38.9 580.4,38.0 577.2,36.2 573.9,37.1" fill="#ff251a"/>
<polygon points="583.7,40.0 587.0,39.1 583.7,37.2 580.4,38.0" fill="#ff381a"/>
<polygon points="590.2,41.2 593.5,40.3 590.2,38.3 587.0,39.1" fill="#ff4e1a"/>
<polygon points="596.7,42.5 600.0,41.7 596.7,39.6 593.5,40.3" fill="#ff681a"/>
<polygon points="603.2,44.1 606.4,43.3 603.2,41.0 600.0,41.7" fill="#ff851a"/>
<polygon points="521.4,38.6 524.7,37.2 521.4,36.5 518.2,37.8" fill="#ff1d1a"/>
<polygon points="528.0,38.2 531.2,36.8 528.0,35.9 524.7,37.2" fill="#ff1a1a"/>
<polygon points="534.5,37.9 537.8,36.6 534.5,35.6 531.2,36.8" fill="#ff1a1a"/>
<polygon points="541.1,37.8 544.4,36.5 541.1,35.4 537.8,36.6" fill="#ff1a1a"/>
<polygon points="547.6,37.8 550.9,36.6 547.6,35.4 544.4,36.5" fill="#ff1a1a"/>
<polygon points="554.2,38.1 557.5,36.9 554.2,35.5 550.9,36.6" fill="#ff1a1a"/>
<polygon points="560.8,38.5 564.0,37.4 560.8,35.9 557.5,36.9" fill="#ff1a1a"/>
<polygon points="567.3,39.1 570.6,38.1 567.3,36.4 564.0,37.4" fill="#ff1a1a"/>
<polygon points="573.9,39.9 577.1,38.9 573.9,37.1 570.6,38.1" fill="#ff261a"/>
<polygon points="580.4,40.9 583.7,40.0 580.4,38.0 577.1,38.9" fill="#ff371a"/>
<polygon points="586.9,42.1 590.2,41.2 587.0,39.1 583.7,40.0" fill="#ff4d1a"/>
<polygon points="593.4,43.4 596.7,42.5 593.5,40.3 590.2,41.2" fill="#ff651a"/>
<polygon points="599.9,44.9 603.2,44.1 600.0,41.7 596.7,42.5" fill="#ff821a"/>
<polygon points="606.4,46.6 609.7,45.8 606.4,43.3 603.2,44.1" fill="#ffa21a"/>
<polygon points="518.2,40.1 521.4,38.6 518.2,37.8 514.9,39.3" fill="#ff281a"/>
<polygon points="524.7,39.6 528.0,38.2 524.7,37.2 521.4,38.6" fill="#ff1c1a"/>
<polygon points="531.2,39.3 534.5,37.9 531.2,36.8 528.0,38.2" fill="#ff1a1a"/>
<polygon points="537.8,39.1 541.1,37.8 537.8,36.6 534.5,37.9" fill="#ff1a1a"/>
<polygon points="550.9,39.3 554.2,38.1 550.9,36.6 547.6,37.8" fill="#ff1a1a"/>
<polygon points="557.5,39.7 560.8,38.5 557.5,36.9 554.2,38.1" fill="#ff1a1a"/>
<polygon points="564.0,40.3 567.3,39.1 564.0,37.4 560.8,38.5" fill="#ff1c1a"/>
<polygon points="570.6,41.0 573.9,39.9 570.6,38.1 567.3,39.1" fill="#ff281a"/>
<polygon points="577.1,42.0 580.4,40.9 577.1,38.9 573.9,39.9" fill="#ff391a"/>
<polygon points="590.2,44.4 593.4,43.4 590.2,41.2 586.9,42.1" fill="#ff641a"/>
<polygon points="596.7,45.9 599.9,44.9 596.7,42.5 593.4,43.4" fill="#ff801a"/>
<polygon points="603.1,47.5 606.4,46.6 603.2,44.1 599.9,44.9" fill="#ff9f1a"/>
<polygon points="609.6,49.4 612.8,48.5 609.7,45.8 606.4,46.6" fill="#ffc11a"/>
<polygon points="544.4,39.1 547.6,37.8 544.4,36.5 541.1,37.8" fill="#ff1a1a"/>
<polygon points="583.7,43.1 586.9,42.1 583.7,40.0 580.4,40.9" fill="#ff4d1a"/>
<polygon points="514.9,41.7 518.2,40.1 514.9,39.3 511.6,40.8" fill="#ff351a"/>
<polygon points="528.0,40.8 531.2,39.3 528.0,38.2 524.7,39.6" fill="#ff1d1a"/>
<polygon points="534.5,40.5 537.8,39.1 534.5,37.9 531.2,39.3" fill="#ff1a1a"/>
<polygon points="547.6,40.7 550.9,39.3 547.6,37.8 544.4,39.1" fill="#ff1a1a"/>
<polygon points="560.8,41.5 564.0,40.3 560.8,38.5 557.5,39.7" fill="#ff211a"/>
<polygon points="567.3,42.2 570.6,41.0 567.3,39.1 564.0,40.3" fill="#ff2c1a"/>
<polygon points="580.4,44.2 583.7,43.1 580.4,40.9 577.1,42.0" fill="#ff4e1a"/>
<polygon points="593.4,46.9 596.7,45.9 593.4,43.4 590.2,44.4" fill="#ff7f1a"/>
<polygon points="599.9,48.5 603.1,47.5 599.9,44.9 596.7,45.9" fill="#ff9d1a"/>
<polygon points="612.8,52.3 616.0,51.4 612.8,48.5 609.6,49.4" fill="#ffe41a"/>
<polygon points="521.4,41.2 524.7,39.6 521.4,38.6 518.2,40.1" fill="#ff271a"/>
<polygon points="541.1,40.5 544.4,39.1 541.1,37.8 537.8,39.1" fill="#ff1a1a"/>
<polygon points="554.2,41.0 557.5,39.7 554.2,38.1 550.9,39.3" fill="#ff1a1a"/>
<polygon points="573.9,43.1 577.1,42.0 573.9,39.9 570.6,41.0" fill="#ff3c1a"/>
<polygon points="586.9,45.5 590.2,44.4 586.9,42.1 583.7,43.1" fill="#ff651a"/>
<polygon points="606.3,50.3 609.6,49.4 606.4,46.6 603.1,47.5" fill="#ffbf1a"/>
<polygon points="511.7,43.4 514.9,41.7 511.6,40.8 508.4,42.5" fill="#ff431a"/>
<polygon points="518.2,42.8 521.4,41.2 518.2,40.1 514.9,41.7" fill="#ff341a"/>
<polygon points="524.7,42.3 528.0,40.8 524.7,39.6 521.4,41.2" fill="#ff291a"/>
<polygon points="531.3,42.1 534.5,40.5 531.2,39.3 528.0,40.8" fill="#ff211a"/>
<polygon points="537.8,42.0 541.1,40.5 537.8,39.1 534.5,40.5" fill="#ff1d1a"/>
<polygon points="544.4,42.1 547.6,40.7 544.4,39.1 541.1,40.5" fill="#ff1d1a"/>
<polygon points="550.9,42.4 554.2,41.0 550.9,39.3 547.6,40.7" fill="#ff201a"/>
<polygon points="557.5,42.9 560.8,41.5 557.5,39.7 554.2,41.0" fill="#ff271a"/>
<polygon points="564.0,43.5 567.3,42.2 564.0,40.3 560.8,41.5" fill="#ff321a"/>
<polygon points="570.6,44.4 573.9,43.1 570.6,41.0 567.3,42.2" fill="#ff401a"/>
<polygon points="577.1,45.4 580.4,44.2 577.1,42.0 573.9,43.1" fill="#ff521a"/>
<polygon points="583.6,46.6 586.9,45.5 583.7,43.1 580.4,44.2" fill="#ff671a"/>
<polygon points="590.1,48.0 593.4,46.9 590.2,44.4 586.9,45.5" fill="#ff801a"/>
<polygon points="596.6,49.6 599.9,48.5 596.7,45.9 593.4,46.9" fill="#ff9d1a"/>
<polygon points="603.1,51.4 606.3,50.3 603.1,47.5 599.9,48.5" fill="#ffbe1a"/>
<polygon points="609.5,53.3 612.8,52.3 609.6,49.4 606.3,50.3" fill="#ffe21a"/>
<polygon points="615.9,55.4 619.2,54.5 616.0,51.4 612.8,52.3" fill="#f5ff1a"/>
<polygon points="508.4,45.2 511.7,43.4 508.4,42.5 505.2,44.2" fill="#ff531a"/>
<polygon points="514.9,44.5 518.2,42.8 514.9,41.7 511.7,43.4" fill="#ff431a"/>
<polygon points="521.5,44.0 524.7,42.3 521.4,41.2 518.2,42.8" fill="#ff361a"/>
<polygon points="528.0,43.7 531.3,42.1 528.0,40.8 524.7,42.3" fill="#ff2e1a"/>
<polygon points="534.6,43.6 537.8,42.0 534.5,40.5 531.3,42.1" fill="#ff291a"/>
<polygon points="541.1,43.6 544.4,42.1 541.1,40.5 537.8,42.0" fill="#ff271a"/>
<polygon points="547.7,43.9 550.9,42.4 547.6,40.7 544.4,42.1" fill="#ff2a1a"/>
<polygon points="554.2,44.3 557.5,42.9 554.2,41.0 550.9,42.4" fill="#ff2f1a"/>
<polygon points="560.8,44.9 564.0,43.5 560.8,41.5 557.5,42.9" fill="#ff391a"/>
<polygon points="567.3,45.7 570.6,44.4 567.3,42.2 564.0,43.5" fill="#ff461a"/>
<polygon points="573.8,46.7 577.1,45.4 573.9,43.1 570.6,44.4" fill="#ff571a"/>
<polygon points="580.4,47.9 583.6,46.6 580.4,44.2 577.1,45.4" fill="#ff6b1a"/>
<polygon points="586.9,49.2 590.1,48.0 586.9,45.5 583.6,46.6" fill="#ff831a"/>
<polygon points="593.4,50.8 596.6,49.6 593.4,46.9 590.1,48.0" fill="#ff9f1a"/>
<polygon points="599.8,52.5 603.1,51.4 599.9,48.5 596.6,49.6" fill="#ffbe1a"/>
<polygon points="606.3,54.4 609.5,53.3 606.3,50.3 603.1,51.4" fill="#ffe11a"/>
<polygon points="612.7,56.5 615.9,55.4 612.8,52.3 609.5,53.3" fill="#f7ff1a"/>
<polygon points="619.1,58.7 622.3,57.7 619.2,54.5 615.9,55.4" fill="#cfff1a"/>
<polygon points="505.2,47.1 508.4,45.2 505.2,44.2 501.9,46.1" fill="#ff641a"/>
<polygon points="511.7,46.4 514.9,44.5 511.7,43.4 508.4,45.2" fill="#ff531a"/>
<polygon points="518.2,45.8 521.5,44.0 518.2,42.8 514.9,44.5" fill="#ff461a"/>
<polygon points="524.8,45.4 528.0,43.7 524.7,42.3 521.5,44.0" fill="#ff3c1a"/>
<polygon points="531.3,45.2 534.6,43.6 531.3,42.1 528.0,43.7" fill="#ff361a"/>
<polygon points="537.8,45.2 541.1,43.6 537.8,42.0 534.6,43.6" fill="#ff331a"/>
<polygon points="544.4,45.4 547.7,43.9 544.4,42.1 541.1,43.6" fill="#ff341a"/>
<polygon points="550.9,45.8 554.2,44.3 550.9,42.4 547.7,43.9" fill="#ff391a"/>
<polygon points="557.5,46.4 560.8,44.9 557.5,42.9 554.2,44.3" fill="#ff421a"/>
<polygon points="564.0,47.1 567.3,45.7 564.0,43.5 560.8,44.9" fill="#ff4e1a"/>
<polygon points="570.6,48.1 573.8,46.7 570.6,44.4 567.3,45.7" fill="#ff5d1a"/>
<polygon points="577.1,49.2 580.4,47.9 577.1,45.4 573.8,46.7" fill="#ff711a"/>
<polygon points="583.6,50.5 586.9,49.2 583.6,46.6 580.4,47.9" fill="#ff881a"/>
<polygon points="590.1,52.0 593.4,50.8 590.1,48.0 586.9,49.2" fill="#ffa21a"/>
<polygon points="596.6,53.7 599.8,52.5 596.6,49.6 593.4,50.8" fill="#ffc11a"/>
<polygon points="603.0,55.6 606.3,54.4 603.1,51.4 599.8,52.5" fill="#ffe31a"/>
<polygon points="609.4,57.6 612.7,56.5 609.5,53.3 606.3,54.4" fill="#f7ff1a"/>
<polygon points="615.8,59.9 619.1,58.7 615.9,55.4 612.7,56.5" fill="#d0ff1a"/>
<polygon points="622.2,62.3 625.4,61.2 622.3,57.7 619.1,58.7" fill="#a6ff1a"/>
<polygon points="547.7,47.4 550.9,45.8 547.7,43.9 544.4,45.4" fill="#ff451a"/>
<polygon points="580.3,51.9 583.6,50.5 580.4,47.9 577.1,49.2" fill="#ff8e1a"/>
<polygon points="502.0,49.1 505.2,47.1 501.9,46.1 498.7,48.0" fill="#ff771a"/>
<polygon points="508.5,48.3 511.7,46.4 508.4,45.2 505.2,47.1" fill="#ff651a"/>
<polygon points="515.0,47.7 518.2,45.8 514.9,44.5 511.7,46.4" fill="#ff561a"/>
<polygon points="521.5,47.3 524.8,45.4 521.5,44.0 518.2,45.8" fill="#ff4c1a"/>
<polygon points="534.6,47.0 537.8,45.2 534.6,43.6 531.3,45.2" fill="#ff411a"/>
<polygon points="541.1,47.1 544.4,45.4 541.1,43.6 537.8,45.2" fill="#ff411a"/>
<polygon points="554.2,48.0 557.5,46.4 554.2,44.3 550.9,45.8" fill="#ff4c1a"/>
<polygon points="573.8,50.6 577.1,49.2 573.8,46.7 570.6,48.1" fill="#ff781a"/>
<polygon points="586.8,53.4 590.1,52.0 586.9,49.2 583.6,50.5" fill="#ffa71a"/>
<polygon points="593.3,55.0 596.6,53.7 593.4,50.8 590.1,52.0" fill="#ffc41a"/>
<polygon points="606.2,58.9 609.4,57.6 606.3,54.4 603.0,55.6" fill="#f5ff1a"/>
<polygon points="612.6,61.1 615.8,59.9 612.7,56.5 609.4,57.6" fill="#cfff1a"/>
<polygon points="619.0,63.4 622.2,62.3 619.1,58.7 615.8,59.9" fill="#a6ff1a"/>
<polygon points="625.3,66.0 628.5,64.9 625.4,61.2 622.2,62.3" fill="#79ff1a"/>
<polygon points="528.0,47.0 531.3,45.2 528.0,43.7 524.8,45.4" fill="#ff441a"/>
<polygon points="560.8,48.7 564.0,47.1 560.8,44.9 557.5,46.4" fill="#ff571a"/>
<polygon points="567.3,49.6 570.6,48.1 567.3,45.7 564.0,47.1" fill="#ff661a"/>
<polygon points="599.8,56.8 603.0,55.6 599.8,52.5 596.6,53.7" fill="#ffe51a"/>
<polygon points="511.8,49.7 515.0,47.7 511.7,46.4 508.5,48.3" fill="#ff691a"/>
<polygon points="531.3,48.8 534.6,47.0 531.3,45.2 528.0,47.0" fill="#ff501a"/>
<polygon points="544.4,49.2 547.7,47.4 544.4,45.4 541.1,47.1" fill="#ff521a"/>
<polygon points="551.0,49.6 554.2,48.0 550.9,45.8 547.7,47.4" fill="#ff581a"/>
<polygon points="577.1,53.4 580.3,51.9 577.1,49.2 573.8,50.6" fill="#ff951a"/>
<polygon points="583.6,54.8 586.8,53.4 583.6,50.5 580.3,51.9" fill="#ffae1a"/>
<polygon points="596.5,58.2 599.8,56.8 596.6,53.7 593.3,55.0" fill="#ffea1a"/>
<polygon points="615.7,64.7 619.0,63.4 615.8,59.9 612.6,61.1" fill="#a5ff1a"/>
<polygon points="505.3,50.3 508.5,48.3 505.2,47.1 502.0,49.1" fill="#ff781a"/>
<polygon points="518.3,49.2 521.5,47.3 518.2,45.8 515.0,47.7" fill="#ff5d1a"/>
<polygon points="524.8,48.9 528.0,47.0 524.8,45.4 521.5,47.3" fill="#ff551a"/>
<polygon points="537.9,48.9 541.1,47.1 537.8,45.2 534.6,47.0" fill="#ff4f1a"/>
<polygon points="557.5,50.3 560.8,48.7 557.5,46.4 554.2,48.0" fill="#ff621a"/>
<polygon points="564.0,51.1 567.3,49.6 564.0,47.1 560.8,48.7" fill="#ff6f1a"/>
<polygon points="570.6,52.2 573.8,50.6 570.6,48.1 567.3,49.6" fill="#ff811a"/>
<polygon points="590.0,56.4 593.3,55.0 590.1,52.0 586.8,53.4" fill="#ffca1a"/>
<polygon points="602.9,60.2 606.2,58.9 603.0,55.6 599.8,56.8" fill="#f2ff1a"/>
<polygon points="609.3,62.3 612.6,61.1 609.4,57.6 606.2,58.9" fill="#cdff1a"/>
<polygon points="622.1,67.2 625.3,66.0 622.2,62.3 619.0,63.4" fill="#79ff1a"/>
<polygon points="508.5,51.8 511.8,49.7 508.5,48.3 505.3,50.3" fill="#ff7d1a"/>
<polygon points="515.0,51.2 518.3,49.2 515.0,47.7 511.8,49.7" fill="#ff701a"/>
<polygon points="528.1,50.7 531.3,48.8 528.0,47.0 524.8,48.9" fill="#ff611a"/>
<polygon points="534.6,50.8 537.9,48.9 534.6,47.0 531.3,48.8" fill="#ff5f1a"/>
<polygon points="541.2,51.0 544.4,49.2 541.1,47.1 537.9,48.9" fill="#ff601a"/>
<polygon points="547.7,51.4 551.0,49.6 547.7,47.4 544.4,49.2" fill="#ff651a"/>
<polygon points="554.2,52.0 557.5,50.3 554.2,48.0 551.0,49.6" fill="#ff6e1a"/>
<polygon points="560.8,52.8 564.0,51.1 560.8,48.7 557.5,50.3" fill="#ff7b1a"/>
<polygon points="567.3,53.8 570.6,52.2 567.3,49.6 564.0,51.1" fill="#ff8b1a"/>
<polygon points="573.8,55.0 577.1,53.4 573.8,50.6 570.6,52.2" fill="#ff9f1a"/>
<polygon points="580.3,56.4 583.6,54.8 580.3,51.9 577.1,53.4" fill="#ffb61a"/>
<polygon points="586.8,57.9 590.0,56.4 586.8,53.4 583.6,54.8" fill="#ffd11a"/>
<polygon points="593.2,59.7 596.5,58.2 593.3,55.0 590.0,56.4" fill="#fff01a"/>
<polygon points="599.7,61.6 602.9,60.2 599.8,56.8 596.5,58.2" fill="#edff1a"/>
<polygon points="612.5,66.0 615.7,64.7 612.6,61.1 609.3,62.3" fill="#a2ff1a"/>
<polygon points="618.8,68.5 622.1,67.2 619.0,63.4 615.7,64.7" fill="#78ff1a"/>
<polygon points="521.6,50.9 524.8,48.9 521.5,47.3 518.3,49.2" fill="#ff661a"/>
<polygon points="606.1,63.7 609.3,62.3 606.2,58.9 602.9,60.2" fill="#c9ff1a"/>
<polygon points="511.8,53.4 515.0,51.2 511.8,49.7 508.5,51.8" fill="#ff841a"/>
<polygon points="518.3,53.0 521.6,50.9 518.3,49.2 515.0,51.2" fill="#ff7a1a"/>
<polygon points="524.8,52.8 528.1,50.7 524.8,48.9 521.6,50.9" fill="#ff731a"/>
<polygon points="531.4,52.8 534.6,50.8 531.3,48.8 528.1,50.7" fill="#ff701a"/>
<polygon points="537.9,52.9 541.2,51.0 537.9,48.9 534.6,50.8" fill="#ff701a"/>
<polygon points="544.4,53.3 547.7,51.4 544.4,49.2 541.2,51.0" fill="#ff751a"/>
<polygon points="551.0,53.9 554.2,52.0 551.0,49.6 547.7,51.4" fill="#ff7c1a"/>
<polygon points="557.5,54.6 560.8,52.8 557.5,50.3 554.2,52.0" fill="#ff881a"/>
<polygon points="564.0,55.5 567.3,53.8 564.0,51.1 560.8,52.8" fill="#ff971a"/>
<polygon points="570.5,56.7 573.8,55.0 570.6,52.2 567.3,53.8" fill="#ffa91a"/>
<polygon points="577.0,58.0 580.3,56.4 577.1,53.4 573.8,55.0" fill="#ffc01a"/>
<polygon points="583.5,59.5 586.8,57.9 583.6,54.8 580.3,56.4" fill="#ffda1a"/>
<polygon points="590.0,61.2 593.2,59.7 590.0,56.4 586.8,57.9" fill="#fff71a"/>
<polygon points="596.4,63.1 599.7,61.6 596.5,58.2 593.2,59.7" fill="#e7ff1a"/>
<polygon points="602.8,65.2 606.1,63.7 602.9,60.2 599.7,61.6" fill="#c4ff1a"/>
<polygon points="609.2,67.5 612.5,66.0 609.3,62.3 606.1,63.7" fill="#9eff1a"/>
<polygon points="615.6,69.9 618.8,68.5 615.7,64.7 612.5,66.0" fill="#75ff1a"/>
<polygon points="521.6,54.9 524.8,52.8 521.6,50.9 518.3,53.0" fill="#ff871a"/>
<polygon points="534.7,55.0 537.9,52.9 534.6,50.8 531.4,52.8" fill="#ff821a"/>
<polygon points="593.2,64.8 596.4,63.1 593.2,59.7 590.0,61.2" fill="#dfff1a"/>
<polygon points="606.0,69.0 609.2,67.5 606.1,63.7 602.8,65.2" fill="#99ff1a"/>
<polygon points="515.1,55.2 518.3,53.0 515.0,51.2 511.8,53.4" fill="#ff8f1a"/>
<polygon points="528.1,54.8 531.4,52.8 528.1,50.7 524.8,52.8" fill="#ff831a"/>
<polygon points="541.2,55.3 544.4,53.3 541.2,51.0 537.9,52.9" fill="#ff851a"/>
<polygon points="547.7,55.8 551.0,53.9 547.7,51.4 544.4,53.3" fill="#ff8c1a"/>
<polygon points="554.2,56.5 557.5,54.6 554.2,52.0 551.0,53.9" fill="#ff961a"/>
<polygon points="560.8,57.4 564.0,55.5 560.8,52.8 557.5,54.6" fill="#ffa41a"/>
<polygon points="567.3,58.5 570.5,56.7 567.3,53.8 564.0,55.5" fill="#ffb61a"/>
<polygon points="573.8,59.8 577.0,58.0 573.8,55.0 570.5,56.7" fill="#ffcb1a"/>
<polygon points="580.3,61.2 583.5,59.5 580.3,56.4 577.0,58.0" fill="#ffe41a"/>
<polygon points="586.7,62.9 590.0,61.2 586.8,57.9 583.5,59.5" fill="#feff1a"/>
<polygon points="599.6,66.8 602.8,65.2 599.7,61.6 596.4,63.1" fill="#beff1a"/>
<polygon points="612.4,71.4 615.6,69.9 612.5,66.0 609.2,67.5" fill="#70ff1a"/>
<polygon points="518.4,57.2 521.6,54.9 518.3,53.0 515.1,55.2" fill="#ff9d1a"/>
<polygon points="524.9,57.0 528.1,54.8 524.8,52.8 521.6,54.9" fill="#ff971a"/>
<polygon points="531.4,57.1 534.7,55.0 531.4,52.8 528.1,54.8" fill="#ff961a"/>
<polygon points="537.9,57.4 541.2,55.3 537.9,52.9 534.7,55.0" fill="#ff981a"/>
<polygon points="557.5,59.3 560.8,57.4 557.5,54.6 554.2,56.5" fill="#ffb31a"/>
<polygon points="564.0,60.4 567.3,58.5 564.0,55.5 560.8,57.4" fill="#ffc41a"/>
<polygon points="570.5,61.6 573.8,59.8 570.5,56.7 567.3,58.5" fill="#ffd81a"/>
<polygon points="589.9,66.5 593.2,64.8 590.0,61.2 586.7,62.9" fill="#d6ff1a"/>
<polygon points="596.4,68.5 599.6,66.8 596.4,63.1 593.2,64.8" fill="#b5ff1a"/>
<polygon points="602.8,70.7 606.0,69.0 602.8,65.2 599.6,66.8" fill="#91ff1a"/>
<polygon points="609.1,73.1 612.4,71.4 609.2,67.5 606.0,69.0" fill="#6aff1a"/>
<polygon points="544.5,57.8 547.7,55.8 544.4,53.3 541.2,55.3" fill="#ff9d1a"/>
<polygon points="551.0,58.5 554.2,56.5 551.0,53.9 547.7,55.8" fill="#ffa71a"/>
<polygon points="577.0,63.0 580.3,61.2 577.0,58.0 573.8,59.8" fill="#fff01a"/>
<polygon points="583.5,64.7 586.7,62.9 583.5,59.5 580.3,61.2" fill="#f3ff1a"/>
<polygon points="528.2,59.4 531.4,57.1 528.1,54.8 524.9,57.0" fill="#ffab1b"/>
<polygon points="560.8,62.4 564.0,60.4 560.8,57.4 557.5,59.3" fill="#ffd41a"/>
<polygon points="567.3,63.6 570.5,61.6 567.3,58.5 564.0,60.4" fill="#ffe71a"/>
<polygon points="599.5,72.4 602.8,70.7 599.6,66.8 596.4,68.5" fill="#89ff1a"/>
<polygon points="521.7,59.3 524.9,57.0 521.6,54.9 518.4,57.2" fill="#ffae1a"/>
<polygon points="534.7,59.6 537.9,57.4 534.7,55.0 531.4,57.1" fill="#ffac1b"/>
<polygon points="541.2,60.0 544.5,57.8 541.2,55.3 537.9,57.4" fill="#ffb01a"/>
<polygon points="547.7,60.6 551.0,58.5 547.7,55.8 544.5,57.8" fill="#ffb81a"/>
<polygon points="554.3,61.4 557.5,59.3 554.2,56.5 551.0,58.5" fill="#ffc41a"/>
<polygon points="573.8,65.0 577.0,63.0 573.8,59.8 570.5,61.6" fill="#fffd1a"/>
<polygon points="580.2,66.5 583.5,64.7 580.3,61.2 577.0,63.0" fill="#e8ff1a"/>
<polygon points="586.7,68.3 589.9,66.5 586.7,62.9 583.5,64.7" fill="#cbff1a"/>
<polygon points="593.1,70.3 596.4,68.5 593.2,64.8 589.9,66.5" fill="#acff1a"/>
<polygon points="605.9,74.8 609.1,73.1 606.0,69.0 602.8,70.7" fill="#62ff1a"/>
<polygon points="525.0,61.7 528.2,59.4 524.9,57.0 521.7,59.3" fill="#ffc31f"/>
<polygon points="531.5,61.9 534.7,59.6 531.4,57.1 528.2,59.4" fill="#ffc31f"/>
<polygon points="544.5,62.8 547.7,60.6 544.5,57.8 541.2,60.0" fill="#ffcd1f"/>
<polygon points="551.0,63.5 554.3,61.4 551.0,58.5 547.7,60.6" fill="#ffd71e"/>
<polygon points="557.5,64.5 560.8,62.4 557.5,59.3 554.3,61.4" fill="#ffe51d"/>
<polygon points="564.0,65.6 567.3,63.6 564.0,60.4 560.8,62.4" fill="#fff71b"/>
<polygon points="570.5,67.0 573.8,65.0 570.5,61.6 567.3,63.6" fill="#f2ff1a"/>
<polygon points="577.0,68.5 580.2,66.5 577.0,63.0 573.8,65.0" fill="#daff1a"/>
<polygon points="583.4,70.2 586.7,68.3 583.5,64.7 580.2,66.5" fill="#bfff1a"/>
<polygon points="596.3,74.3 599.5,72.4 596.4,68.5 593.1,70.3" fill="#7fff1a"/>
<polygon points="602.7,76.6 605.9,74.8 602.8,70.7 599.5,72.4" fill="#59ff1a"/>
<polygon points="538.0,62.2 541.2,60.0 537.9,57.4 534.7,59.6" fill="#ffc61f"/>
<polygon points="589.9,72.2 593.1,70.3 589.9,66.5 586.7,68.3" fill="#a1ff1a"/>
<polygon points="528.3,64.3 531.5,61.9 528.2,59.4 525.0,61.7" fill="#ffda24"/>
<polygon points="534.8,64.6 538.0,62.2 534.7,59.6 531.5,61.9" fill="#ffdc24"/>
<polygon points="541.3,65.1 544.5,62.8 541.2,60.0 538.0,62.2" fill="#ffe223"/>
<polygon points="547.8,65.8 551.0,63.5 547.7,60.6 544.5,62.8" fill="#ffeb22"/>
<polygon points="554.3,66.7 557.5,64.5 554.3,61.4 551.0,63.5" fill="#fff821"/>
<polygon points="560.8,67.8 564.0,65.6 560.8,62.4 557.5,64.5" fill="#f6ff20"/>
<polygon points="567.3,69.1 570.5,67.0 567.3,63.6 564.0,65.6" fill="#e3ff1e"/>
<polygon points="573.7,70.6 577.0,68.5 573.8,65.0 570.5,67.0" fill="#cdff1d"/>
<polygon points="580.2,72.3 583.4,70.2 580.2,66.5 577.0,68.5" fill="#b2ff1b"/>
<polygon points="586.6,74.1 589.9,72.2 586.7,68.3 583.4,70.2" fill="#94ff1a"/>
<polygon points="593.0,76.2 596.3,74.3 593.1,70.3 589.9,72.2" fill="#73ff1a"/>
<polygon points="599.4,78.5 602.7,76.6 599.5,72.4 596.3,74.3" fill="#4eff1a"/>
<polygon points="531.5,67.1 534.8,64.6 531.5,61.9 528.3,64.3" fill="#fff328"/>
<polygon points="538.0,67.5 541.3,65.1 538.0,62.2 534.8,64.6" fill="#fff828"/>
<polygon points="544.5,68.2 547.8,65.8 544.5,62.8 541.3,65.1" fill="#feff27"/>
<polygon points="551.0,69.0 554.3,66.7 551.0,63.5 547.8,65.8" fill="#f3ff26"/>
<polygon points="557.5,70.1 560.8,67.8 557.5,64.5 554.3,66.7" fill="#e5ff25"/>
<polygon points="564.0,71.3 567.3,69.1 564.0,65.6 560.8,67.8" fill="#d3ff23"/>
<polygon points="570.5,72.8 573.7,70.6 570.5,67.0 567.3,69.1" fill="#beff21"/>
<polygon points="576.9,74.4 580.2,72.3 577.0,68.5 573.7,70.6" fill="#a5ff1f"/>
<polygon points="583.4,76.2 586.6,74.1 583.4,70.2 580.2,72.3" fill="#88ff1d"/>
<polygon points="589.8,78.3 593.0,76.2 589.9,72.2 586.6,74.1" fill="#67ff1b"/>
<polygon points="596.2,80.5 599.4,78.5 596.3,74.3 593.0,76.2" fill="#42ff1a"/>
<polygon points="547.8,71.5 551.0,69.0 547.8,65.8 544.5,68.2" fill="#e0ff2a"/>
<polygon points="554.3,72.5 557.5,70.1 554.3,66.7 551.0,69.0" fill="#d3ff29"/>
<polygon points="573.7,76.7 576.9,74.4 573.7,70.6 570.5,72.8" fill="#97ff24"/>
<polygon points="580.1,78.5 583.4,76.2 580.2,72.3 576.9,74.4" fill="#7bff22"/>
<polygon points="534.8,70.1 538.0,67.5 534.8,64.6 531.5,67.1" fill="#f1ff2c"/>
<polygon points="541.3,70.7 544.5,68.2 541.3,65.1 538.0,67.5" fill="#eaff2b"/>
<polygon points="560.8,73.7 564.0,71.3 560.8,67.8 557.5,70.1" fill="#c3ff27"/>
<polygon points="567.2,75.1 570.5,72.8 567.3,69.1 564.0,71.3" fill="#aeff26"/>
<polygon points="586.5,80.4 589.8,78.3 586.6,74.1 583.4,76.2" fill="#5bff1f"/>
<polygon points="592.9,82.6 596.2,80.5 593.0,76.2 589.8,78.3" fill="#38ff1d"/>
<polygon points="538.1,73.3 541.3,70.7 538.0,67.5 534.8,70.1" fill="#d6ff30"/>
<polygon points="544.6,74.0 547.8,71.5 544.5,68.2 541.3,70.7" fill="#cdff2e"/>
<polygon points="551.1,75.0 554.3,72.5 551.0,69.0 547.8,71.5" fill="#c1ff2d"/>
<polygon points="557.5,76.1 560.8,73.7 557.5,70.1 554.3,72.5" fill="#b1ff2c"/>
<polygon points="564.0,77.5 567.2,75.1 564.0,71.3 560.8,73.7" fill="#9eff2a"/>
<polygon points="570.5,79.0 573.7,76.7 570.5,72.8 567.2,75.1" fill="#88ff28"/>
<polygon points="576.9,80.8 580.1,78.5 576.9,74.4 573.7,76.7" fill="#6dff26"/>
<polygon points="583.3,82.7 586.5,80.4 583.4,76.2 580.1,78.5" fill="#4fff24"/>
<polygon points="589.7,84.9 592.9,82.6 589.8,78.3 586.5,80.4" fill="#2dff21"/>
<polygon points="541.4,76.7 544.6,74.0 541.3,70.7 538.1,73.3" fill="#b8ff33"/>
<polygon points="547.9,77.6 551.1,75.0 547.8,71.5 544.6,74.0" fill="#adff31"/>
<polygon points="560.8,80.0 564.0,77.5 560.8,73.7 557.5,76.1" fill="#8dff2e"/>
<polygon points="567.2,81.5 570.5,79.0 567.2,75.1 564.0,77.5" fill="#78ff2c"/>
<polygon points="580.1,85.1 583.3,82.7 580.1,78.5 576.9,80.8" fill="#42ff28"/>
<polygon points="586.5,87.2 589.7,84.9 586.5,80.4 583.3,82.7" fill="#25ff2a"/>
<polygon points="554.3,78.7 557.5,76.1 554.3,72.5 551.1,75.0" fill="#9fff30"/>
<polygon points="573.7,83.2 576.9,80.8 573.7,76.7 570.5,79.0" fill="#5fff2a"/>
<polygon points="544.6,80.3 547.9,77.6 544.6,74.0 541.4,76.7" fill="#9aff35"/>
<polygon points="557.6,82.6 560.8,80.0 557.5,76.1 554.3,78.7" fill="#7bff32"/>
<polygon points="564.0,84.1 567.2,81.5 564.0,77.5 560.8,80.0" fill="#67ff30"/>
<polygon points="570.4,85.8 573.7,83.2 570.5,79.0 567.2,81.5" fill="#4fff2e"/>
<polygon points="583.2,89.7 586.5,87.2 583.3,82.7 580.1,85.1" fill="#29ff3f"/>
<polygon points="551.1,81.4 554.3,78.7 551.1,75.0 547.9,77.6" fill="#8cff34"/>
<polygon points="576.9,87.6 580.1,85.1 576.9,80.8 573.7,83.2" fill="#33ff2c"/>
<polygon points="547.9,84.2 551.1,81.4 547.9,77.6 544.6,80.3" fill="#79ff37"/>
<polygon points="554.4,85.4 557.6,82.6 554.3,78.7 551.1,81.4" fill="#69ff36"/>
<polygon points="560.8,86.8 564.0,84.1 560.8,80.0 557.6,82.6" fill="#56ff34"/>
<polygon points="567.2,88.4 570.4,85.8 567.2,81.5 564.0,84.1" fill="#3fff32"/>
<polygon points="573.6,90.2 576.9,87.6 573.7,83.2 570.4,85.8" fill="#2fff3b"/>
<polygon points="580.0,92.2 583.2,89.7 580.1,85.1 576.9,87.6" fill="#2dff55"/>
<polygon points="551.1,88.3 554.4,85.4 551.1,81.4 547.9,84.2" fill="#56ff39"/>
<polygon points="557.6,89.6 560.8,86.8 557.6,82.6 554.4,85.4" fill="#44ff37"/>
<polygon points="564.0,91.2 567.2,88.4 564.0,84.1 560.8,86.8" fill="#35ff3d"/>
<polygon points="570.4,93.0 573.6,90.2 570.4,85.8 567.2,88.4" fill="#33ff52"/>
<polygon points="576.8,94.9 580.0,92.2 576.9,87.6 573.6,90.2" fill="#31ff6c"/>
<polygon points="554.4,92.6 557.6,89.6 554.4,85.4 551.1,88.3" fill="#3bff45"/>
<polygon points="560.8,94.1 564.0,91.2 560.8,86.8 557.6,89.6" fill="#39ff56"/>
<polygon points="567.2,95.8 570.4,93.0 567.2,88.4 564.0,91.2" fill="#37ff6b"/>
<polygon points="573.6,97.7 576.8,94.9 573.6,90.2 570.4,93.0" fill="#34ff83"/>
<polygon points="557.6,97.1 560.8,94.1 557.6,89.6 554.4,92.6" fill="#3cff70"/>
<polygon points="564.0,98.8 567.2,95.8 564.0,91.2 560.8,94.1" fill="#3aff83"/>
<polygon points="570.4,100.7 573.6,97.7 570.4,93.0 567.2,95.8" fill="#38ff9a"/>
<polygon points="560.8,101.9 564.0,98.8 560.8,94.1 557.6,97.1" fill="#3eff9d"/>
<polygon points="567.2,103.7 570.4,100.7 567.2,95.8 564.0,98.8" fill="#3bffb2"/>
<polygon points="564.0,106.9 567.2,103.7 564.0,98.8 560.8,101.9" fill="#3effcb"/>
</g>
<text x="498.55" y="99.90" font-size="9.0" text-anchor="end" font-family="'Liberation Serif', serif">15</text>
<text x="497.77" y="83.40" font-size="9.0" text-anchor="end" font-family="'Liberation Serif', serif">20</text>
<text x="496.98" y="66.90" font-size="9.0" text-anchor="end" font-family="'Liberation Serif', serif">25</text>
<text x="496.19" y="50.40" font-size="9.0" text-anchor="end" font-family="'Liberation Serif', serif">30</text>
<text x="495.40" y="33.90" font-size="9.0" text-anchor="end" font-family="'Liberation Serif', serif">35</text>
<text x="479.93" y="59.75" font-size="8.4" text-anchor="middle" font-family="'Liberation Serif', serif" transform="rotate(-90 479.93 59.75)">Reducing sugar content (g/L)</text>
<text x="495.00" y="121.85" font-size="9.0" text-anchor="middle" font-family="'Liberation Serif', serif">72</text>
<text x="510.50" y="129.35" font-size="9.0" text-anchor="middle" font-family="'Liberation Serif', serif">66</text>
<text x="525.75" y="136.85" font-size="9.0" text-anchor="middle" font-family="'Liberation Serif', serif">60</text>
<text x="541.25" y="143.85" font-size="9.0" text-anchor="middle" font-family="'Liberation Serif', serif">54</text>
<text x="556.75" y="151.10" font-size="9.0" text-anchor="middle" font-family="'Liberation Serif', serif">48</text>
<text x="566.90" y="151.10" font-size="9.0" text-anchor="middle" font-family="'Liberation Serif', serif">4</text>
<text x="582.60" y="145.20" font-size="9.0" text-anchor="middle" font-family="'Liberation Serif', serif">4.5</text>
<text x="598.00" y="137.10" font-size="9.0" text-anchor="middle" font-family="'Liberation Serif', serif">5</text>
<text x="615.10" y="129.35" font-size="9.0" text-anchor="middle" font-family="'Liberation Serif', serif">5.5</text>
<text x="628.25" y="123.10" font-size="9.0" text-anchor="middle" font-family="'Liberation Serif', serif">6</text>
<circle cx="498.7" cy="48.0" r="1.7" fill="#b00010" stroke="#a04050" stroke-width="0.3"/>
<circle cx="564.0" cy="43.5" r="1.7" fill="#b00010" stroke="#a04050" stroke-width="0.3"/>
<circle cx="564.0" cy="103.9" r="1.7" fill="#b00010" stroke="#a04050" stroke-width="0.3"/>
<circle cx="628.5" cy="64.9" r="1.7" fill="#f8c8d0" stroke="#a04050" stroke-width="0.3"/>
<text x="47.25" y="147.70" font-size="8.4" text-anchor="middle" font-family="'Liberation Serif', serif">B: Enzyme concentration</text>
<text x="47.00" y="156.80" font-size="8.4" text-anchor="middle" font-family="'Liberation Serif', serif">(%)</text>
<text x="193.60" y="147.20" font-size="8.6" text-anchor="middle" font-family="'Liberation Serif', serif">A: Temperature (ºC)</text>
<text x="283.40" y="148.10" font-size="8.4" text-anchor="middle" font-family="'Liberation Serif', serif">C: Time (h)</text>
<text x="408.10" y="148.10" font-size="8.6" text-anchor="middle" font-family="'Liberation Serif', serif">A: Temperature (ºC)</text>
<text x="511.60" y="148.10" font-size="8.4" text-anchor="middle" font-family="'Liberation Serif', serif">C: Time (h)</text>
<text x="637.50" y="148.10" font-size="8.4" text-anchor="middle" font-family="'Liberation Serif', serif">B: Enzyme concentration</text>
<text x="637.75" y="156.90" font-size="8.4" text-anchor="middle" font-family="'Liberation Serif', serif">(%)</text>
<text x="17.00" y="9.20" font-size="12.5" text-anchor="start" font-family="'Liberation Serif', serif">(a)</text>
<text x="238.30" y="9.60" font-size="12.5" text-anchor="start" font-family="'Liberation Serif', serif">(b)</text>
<text x="460.00" y="10.30" font-size="12.5" text-anchor="start" font-family="'Liberation Serif', serif">(c)</text>
<radialGradient id="gd" gradientUnits="userSpaceOnUse" cx="0" cy="0" r="1" gradientTransform="matrix(-7.347 216.963 -91.968 -3.083 118.32 206.40)"><stop offset="0.0000" stop-color="#ff2200"/><stop offset="0.0250" stop-color="#ff2200"/><stop offset="0.0500" stop-color="#ff2400"/><stop offset="0.0750" stop-color="#ff2600"/><stop offset="0.1000" stop-color="#ff2900"/><stop offset="0.1250" stop-color="#ff2d00"/><stop offset="0.1500" stop-color="#ff3100"/><stop offset="0.1750" stop-color="#ff3700"/><stop offset="0.2000" stop-color="#ff3d00"/><stop offset="0.2250" stop-color="#ff4400"/><stop offset="0.2500" stop-color="#ff4d00"/><stop offset="0.2750" stop-color="#ff5600"/><stop offset="0.3000" stop-color="#ff5f00"/><stop offset="0.3250" stop-color="#ff6a00"/><stop offset="0.3500" stop-color="#ff7600"/><stop offset="0.3750" stop-color="#ff8200"/><stop offset="0.4000" stop-color="#ff8f00"/><stop offset="0.4250" stop-color="#ff9d00"/><stop offset="0.4500" stop-color="#ffac00"/><stop offset="0.4750" stop-color="#ffbc00"/><stop offset="0.5000" stop-color="#ffcd00"/><stop offset="0.5250" stop-color="#ffde00"/><stop offset="0.5500" stop-color="#fff100"/><stop offset="0.5750" stop-color="#faff00"/><stop offset="0.6000" stop-color="#e7ff00"/><stop offset="0.6250" stop-color="#d4ff00"/><stop offset="0.6500" stop-color="#bfff00"/><stop offset="0.6750" stop-color="#aaff00"/><stop offset="0.7000" stop-color="#94ff00"/><stop offset="0.7250" stop-color="#7dff00"/><stop offset="0.7500" stop-color="#65ff00"/><stop offset="0.7750" stop-color="#4dff00"/><stop offset="0.8000" stop-color="#33ff00"/><stop offset="0.8250" stop-color="#19ff00"/><stop offset="0.8500" stop-color="#00ff02"/><stop offset="0.8750" stop-color="#00ff1e"/><stop offset="0.9000" stop-color="#00ff3b"/><stop offset="0.9250" stop-color="#00ff59"/><stop offset="0.9500" stop-color="#00ff78"/><stop offset="0.9750" stop-color="#00ff98"/><stop offset="1.0000" stop-color="#00ffb9"/></radialGradient>
<clipPath id="cd"><rect x="41.25" y="181.5" width="146.75" height="146.0"/></clipPath>
<rect x="41.25" y="181.5" width="146.75" height="146.0" fill="url(#gd)"/>
<g clip-path="url(#cd)" fill="none" stroke="#1a1000" stroke-opacity="0.9" stroke-width="0.55">
<path d="M111.8 399.9 L107.5 399.5 L103.2 398.6 L99.0 397.1 L94.9 395.1 L90.8 392.6 L86.7 389.6 L82.8 386.1 L79.0 382.1 L75.2 377.6 L71.6 372.6 L68.2 367.2 L64.8 361.3 L61.6 355.1 L58.6 348.4 L55.7 341.3 L53.0 333.8 L50.5 326.0 L48.1 317.9 L46.0 309.5 L44.0 300.8 L42.3 291.8 L40.7 282.6 L39.4 273.2 L38.3 263.6 L37.4 253.8 L36.7 243.9 L36.3 234.0 L36.1 223.9 L36.1 213.8 L36.3 203.7 L36.8 193.5 L37.4 183.4 L38.3 173.4 L39.5 163.5 L40.8 153.7 L42.3 144.0 L44.1 134.5 L46.1 125.2 L48.2 116.1 L50.6 107.3 L53.1 98.7 L55.8 90.4 L58.7 82.5 L61.8 74.9 L65.0 67.6 L68.3 60.8 L71.8 54.3 L75.4 48.2 L79.1 42.6 L83.0 37.5 L86.9 32.7 L90.9 28.5 L95.0 24.8 L99.2 21.5 L103.4 18.8 L107.7 16.6 L112.0 14.9 L116.3 13.7 L120.6 13.0 L124.9 12.9 L129.2 13.3 L133.4 14.3 L137.6 15.7 L141.8 17.7 L145.9 20.2 L149.9 23.2 L153.8 26.7 L157.7 30.8 L161.4 35.2 L165.0 40.2 L168.5 45.6 L171.8 51.5 L175.0 57.8 L178.1 64.4 L181.0 71.5 L183.7 79.0 L186.2 86.8 L188.5 94.9 L190.7 103.3 L192.6 112.0 L194.4 121.0 L195.9 130.2 L197.2 139.6 L198.4 149.2 L199.2 159.0 L199.9 168.9 L200.4 178.8 L200.6 188.9 L200.6 199.0 L200.3 209.2 L199.9 219.3 L199.2 229.4 L198.3 239.4 L197.2 249.3 L195.9 259.1 L194.3 268.8 L192.5 278.3 L190.6 287.6 L188.4 296.7 L186.1 305.5 L183.5 314.1 L180.8 322.4 L177.9 330.3 L174.9 337.9 L171.7 345.2 L168.3 352.0 L164.8 358.5 L161.2 364.6 L157.5 370.2 L153.7 375.4 L149.7 380.1 L145.7 384.3 L141.6 388.0 L137.4 391.3 L133.2 394.0 L129.0 396.2 L124.7 398.0 L120.4 399.1 L116.1 399.8 L111.8 399.9Z"/>
<path d="M112.6 375.4 L108.9 375.0 L105.1 374.2 L101.5 372.9 L97.8 371.2 L94.3 369.0 L90.7 366.4 L87.3 363.3 L84.0 359.8 L80.7 355.9 L77.6 351.5 L74.5 346.8 L71.6 341.7 L68.8 336.2 L66.1 330.4 L63.6 324.2 L61.3 317.7 L59.1 310.9 L57.0 303.8 L55.1 296.4 L53.4 288.8 L51.9 281.0 L50.6 272.9 L49.4 264.7 L48.4 256.3 L47.7 247.8 L47.1 239.2 L46.7 230.5 L46.5 221.7 L46.5 212.8 L46.7 204.0 L47.1 195.2 L47.7 186.4 L48.5 177.6 L49.5 168.9 L50.6 160.3 L52.0 151.9 L53.5 143.6 L55.2 135.5 L57.1 127.5 L59.2 119.8 L61.4 112.4 L63.7 105.1 L66.3 98.2 L68.9 91.5 L71.7 85.2 L74.6 79.2 L77.7 73.6 L80.9 68.3 L84.1 63.4 L87.5 58.9 L90.9 54.8 L94.4 51.1 L98.0 47.8 L101.6 45.0 L105.3 42.6 L109.0 40.6 L112.8 39.1 L116.5 38.1 L120.3 37.5 L124.0 37.4 L127.8 37.8 L131.5 38.6 L135.2 39.9 L138.8 41.6 L142.4 43.8 L145.9 46.4 L149.3 49.5 L152.7 53.0 L155.9 56.9 L159.1 61.3 L162.1 66.0 L165.1 71.1 L167.8 76.6 L170.5 82.4 L173.0 88.6 L175.4 95.1 L177.6 101.9 L179.6 109.0 L181.5 116.4 L183.2 124.0 L184.7 131.8 L186.1 139.9 L187.2 148.1 L188.2 156.5 L189.0 165.0 L189.6 173.6 L190.0 182.3 L190.2 191.1 L190.2 200.0 L190.0 208.8 L189.6 217.6 L189.0 226.5 L188.2 235.2 L187.2 243.9 L186.0 252.5 L184.7 260.9 L183.1 269.2 L181.4 277.3 L179.5 285.3 L177.5 293.0 L175.3 300.5 L172.9 307.7 L170.4 314.6 L167.7 321.3 L164.9 327.6 L162.0 333.6 L159.0 339.2 L155.8 344.5 L152.5 349.4 L149.2 353.9 L145.7 358.1 L142.2 361.8 L138.7 365.0 L135.0 367.9 L131.3 370.2 L127.6 372.2 L123.9 373.7 L120.1 374.7 L116.4 375.3 L112.6 375.4Z"/>
<path d="M113.6 346.6 L110.5 346.3 L107.4 345.7 L104.3 344.6 L101.3 343.2 L98.4 341.3 L95.4 339.2 L92.6 336.6 L89.8 333.7 L87.1 330.5 L84.5 326.9 L82.0 322.9 L79.5 318.7 L77.2 314.1 L75.0 309.3 L72.9 304.2 L71.0 298.8 L69.1 293.1 L67.4 287.2 L65.9 281.1 L64.5 274.8 L63.2 268.3 L62.1 261.6 L61.1 254.8 L60.3 247.8 L59.7 240.8 L59.2 233.6 L58.9 226.4 L58.7 219.1 L58.7 211.8 L58.9 204.4 L59.2 197.1 L59.7 189.8 L60.4 182.5 L61.2 175.3 L62.1 168.2 L63.3 161.2 L64.5 154.3 L65.9 147.5 L67.5 141.0 L69.2 134.6 L71.1 128.4 L73.0 122.4 L75.1 116.6 L77.3 111.1 L79.6 105.8 L82.1 100.9 L84.6 96.2 L87.2 91.8 L89.9 87.7 L92.7 84.0 L95.6 80.5 L98.5 77.5 L101.5 74.8 L104.5 72.4 L107.5 70.4 L110.6 68.8 L113.7 67.6 L116.8 66.7 L120.0 66.3 L123.1 66.2 L126.2 66.5 L129.3 67.1 L132.3 68.2 L135.3 69.6 L138.3 71.5 L141.2 73.6 L144.1 76.2 L146.8 79.1 L149.5 82.4 L152.2 85.9 L154.7 89.9 L157.1 94.1 L159.4 98.7 L161.6 103.5 L163.7 108.6 L165.7 114.0 L167.5 119.7 L169.2 125.6 L170.8 131.7 L172.2 138.0 L173.4 144.5 L174.6 151.2 L175.5 158.0 L176.3 165.0 L177.0 172.0 L177.5 179.2 L177.8 186.4 L177.9 193.7 L177.9 201.1 L177.8 208.4 L177.4 215.7 L176.9 223.0 L176.3 230.3 L175.5 237.5 L174.5 244.6 L173.4 251.6 L172.1 258.5 L170.7 265.3 L169.1 271.8 L167.4 278.2 L165.6 284.5 L163.6 290.4 L161.5 296.2 L159.3 301.7 L157.0 307.0 L154.6 312.0 L152.0 316.6 L149.4 321.0 L146.7 325.1 L143.9 328.8 L141.1 332.3 L138.2 335.3 L135.2 338.0 L132.2 340.4 L129.1 342.4 L126.0 344.0 L122.9 345.2 L119.8 346.1 L116.7 346.6 L113.6 346.6Z"/>
<path d="M114.8 310.2 L112.5 310.0 L110.2 309.5 L108.0 308.7 L105.7 307.6 L103.5 306.3 L101.4 304.7 L99.3 302.8 L97.2 300.6 L95.2 298.2 L93.3 295.6 L91.4 292.7 L89.6 289.5 L87.9 286.2 L86.3 282.6 L84.7 278.8 L83.3 274.8 L81.9 270.6 L80.7 266.2 L79.5 261.7 L78.5 257.0 L77.5 252.2 L76.7 247.3 L76.0 242.2 L75.4 237.1 L74.9 231.8 L74.5 226.5 L74.3 221.2 L74.2 215.8 L74.2 210.4 L74.3 204.9 L74.6 199.5 L74.9 194.1 L75.4 188.7 L76.0 183.4 L76.7 178.1 L77.6 172.9 L78.5 167.8 L79.5 162.8 L80.7 158.0 L82.0 153.2 L83.3 148.6 L84.8 144.2 L86.3 139.9 L88.0 135.8 L89.7 131.9 L91.5 128.3 L93.4 124.8 L95.3 121.5 L97.3 118.5 L99.4 115.8 L101.5 113.2 L103.6 111.0 L105.8 108.9 L108.1 107.2 L110.3 105.7 L112.6 104.5 L114.9 103.6 L117.2 103.0 L119.5 102.6 L121.8 102.6 L124.1 102.8 L126.4 103.3 L128.7 104.1 L130.9 105.2 L133.1 106.5 L135.3 108.1 L137.4 110.0 L139.4 112.2 L141.4 114.6 L143.4 117.2 L145.2 120.1 L147.0 123.3 L148.8 126.6 L150.4 130.2 L151.9 134.0 L153.4 138.0 L154.7 142.2 L156.0 146.6 L157.1 151.1 L158.2 155.8 L159.1 160.6 L160.0 165.5 L160.7 170.6 L161.3 175.7 L161.7 181.0 L162.1 186.3 L162.3 191.6 L162.5 197.0 L162.5 202.4 L162.3 207.9 L162.1 213.3 L161.7 218.7 L161.2 224.1 L160.6 229.4 L159.9 234.7 L159.1 239.9 L158.1 245.0 L157.1 250.0 L155.9 254.9 L154.7 259.6 L153.3 264.2 L151.9 268.6 L150.3 272.9 L148.7 277.0 L147.0 280.9 L145.2 284.5 L143.3 288.0 L141.3 291.3 L139.3 294.3 L137.3 297.1 L135.2 299.6 L133.0 301.8 L130.8 303.9 L128.6 305.6 L126.3 307.1 L124.0 308.3 L121.7 309.2 L119.4 309.8 L117.1 310.2 L114.8 310.2Z"/>
<path d="M116.9 249.9 L115.9 249.8 L114.9 249.6 L114.0 249.3 L113.1 248.8 L112.1 248.3 L111.2 247.6 L110.3 246.8 L109.5 245.9 L108.6 244.9 L107.8 243.8 L107.0 242.5 L106.3 241.2 L105.6 239.8 L104.9 238.3 L104.2 236.7 L103.6 235.0 L103.1 233.3 L102.5 231.5 L102.1 229.6 L101.6 227.6 L101.2 225.6 L100.9 223.5 L100.6 221.4 L100.3 219.3 L100.1 217.1 L100.0 214.8 L99.9 212.6 L99.8 210.3 L99.8 208.1 L99.9 205.8 L100.0 203.5 L100.1 201.2 L100.3 199.0 L100.6 196.8 L100.9 194.6 L101.2 192.4 L101.6 190.2 L102.1 188.1 L102.6 186.1 L103.1 184.1 L103.7 182.2 L104.3 180.3 L104.9 178.6 L105.6 176.8 L106.3 175.2 L107.1 173.7 L107.9 172.2 L108.7 170.9 L109.5 169.6 L110.4 168.4 L111.3 167.4 L112.2 166.4 L113.1 165.6 L114.0 164.9 L115.0 164.2 L115.9 163.7 L116.9 163.4 L117.9 163.1 L118.8 162.9 L119.8 162.9 L120.8 163.0 L121.7 163.2 L122.7 163.5 L123.6 164.0 L124.5 164.6 L125.4 165.2 L126.3 166.0 L127.2 166.9 L128.0 167.9 L128.8 169.0 L129.6 170.3 L130.4 171.6 L131.1 173.0 L131.8 174.5 L132.4 176.1 L133.0 177.8 L133.6 179.5 L134.1 181.3 L134.6 183.2 L135.0 185.2 L135.4 187.2 L135.8 189.3 L136.1 191.4 L136.3 193.6 L136.5 195.7 L136.7 198.0 L136.8 200.2 L136.8 202.5 L136.8 204.7 L136.8 207.0 L136.7 209.3 L136.5 211.6 L136.3 213.8 L136.0 216.0 L135.7 218.3 L135.4 220.4 L135.0 222.6 L134.6 224.7 L134.1 226.7 L133.6 228.7 L133.0 230.6 L132.4 232.5 L131.7 234.3 L131.0 236.0 L130.3 237.6 L129.6 239.1 L128.8 240.6 L128.0 241.9 L127.1 243.2 L126.3 244.4 L125.4 245.4 L124.5 246.4 L123.6 247.2 L122.6 248.0 L121.7 248.6 L120.7 249.1 L119.8 249.5 L118.8 249.7 L117.8 249.9 L116.9 249.9Z"/>
</g>
<rect x="41.25" y="181.5" width="146.75" height="146.0" fill="none" stroke="#000" stroke-opacity="0.3" stroke-width="0.6"/>
<path d="M41.25 327.5v2.5" stroke="#222" stroke-width="0.6"/>
<text x="41.25" y="338.40" font-size="9.0" text-anchor="middle" font-family="'Liberation Serif', serif">30</text>
<path d="M77.94 327.5v2.5" stroke="#222" stroke-width="0.6"/>
<text x="77.94" y="338.40" font-size="9.0" text-anchor="middle" font-family="'Liberation Serif', serif">35</text>
<path d="M114.62 327.5v2.5" stroke="#222" stroke-width="0.6"/>
<text x="114.62" y="338.40" font-size="9.0" text-anchor="middle" font-family="'Liberation Serif', serif">40</text>
<path d="M151.31 327.5v2.5" stroke="#222" stroke-width="0.6"/>
<text x="151.31" y="338.40" font-size="9.0" text-anchor="middle" font-family="'Liberation Serif', serif">45</text>
<path d="M188.00 327.5v2.5" stroke="#222" stroke-width="0.6"/>
<text x="188.00" y="338.40" font-size="9.0" text-anchor="middle" font-family="'Liberation Serif', serif">50</text>
<path d="M41.25 327.50h-2.5" stroke="#222" stroke-width="0.6"/>
<text x="36.35" y="331.10" font-size="9.0" text-anchor="end" font-family="'Liberation Serif', serif">4</text>
<path d="M41.25 291.00h-2.5" stroke="#222" stroke-width="0.6"/>
<text x="36.35" y="294.60" font-size="9.0" text-anchor="end" font-family="'Liberation Serif', serif">4.5</text>
<path d="M41.25 254.50h-2.5" stroke="#222" stroke-width="0.6"/>
<text x="36.35" y="258.10" font-size="9.0" text-anchor="end" font-family="'Liberation Serif', serif">5</text>
<path d="M41.25 218.00h-2.5" stroke="#222" stroke-width="0.6"/>
<text x="36.35" y="221.60" font-size="9.0" text-anchor="end" font-family="'Liberation Serif', serif">5.5</text>
<path d="M41.25 181.50h-2.5" stroke="#222" stroke-width="0.6"/>
<text x="36.35" y="186.30" font-size="9.6" text-anchor="end" font-family="'Liberation Serif', serif" font-weight="normal" style="stroke-width:.12px" fill="#0a0a14">6</text>
<text x="116.25" y="347.29" font-size="8.65" text-anchor="middle" font-family="'Liberation Serif', serif">A: Temperature (ºC)</text>
<text x="22.27" y="254.80" font-size="8.55" text-anchor="middle" font-family="'Liberation Serif', serif" transform="rotate(-90 22.27 254.80)">B: Enzyme concentration (%)</text>
<text x="119.10" y="177.78" font-size="8.6" text-anchor="middle" font-family="'Liberation Serif', serif">Reducing sugar content (g/L)</text>
<text x="17.00" y="178.10" font-size="12.5" text-anchor="start" font-family="'Liberation Serif', serif">(d)</text>
<circle cx="41.25" cy="327.50" r="1.6" fill="#b0000c"/>
<circle cx="41.25" cy="181.50" r="1.6" fill="#b0000c"/>
<circle cx="188.00" cy="327.50" r="1.6" fill="#b0000c"/>
<circle cx="188.00" cy="181.50" r="1.6" fill="#b0000c"/>
<circle cx="114.92" cy="254.80" r="1.4" fill="#c00010"/>
<text x="111.22" y="260.70" font-size="8.3" text-anchor="middle" font-family="'Liberation Serif', serif">5</text>
<rect x="43.9" y="256.3" width="2.6" height="2.6" fill="#ececec" stroke="#888" stroke-width="0.2"/>
<text x="50.00" y="263.20" font-size="8.3" text-anchor="middle" font-family="'Liberation Serif', serif">24</text>
<rect x="57.4" y="259.3" width="2.6" height="2.6" fill="#ececec" stroke="#888" stroke-width="0.2"/>
<text x="63.50" y="266.20" font-size="8.3" text-anchor="middle" font-family="'Liberation Serif', serif">26</text>
<rect x="113.9" y="245.3" width="2.6" height="2.6" fill="#ececec" stroke="#888" stroke-width="0.2"/>
<text x="120.00" y="252.20" font-size="8.3" text-anchor="middle" font-family="'Liberation Serif', serif">30</text>
<rect x="111.4" y="305.8" width="2.6" height="2.6" fill="#ececec" stroke="#888" stroke-width="0.2"/>
<text x="117.50" y="312.70" font-size="8.3" text-anchor="middle" font-family="'Liberation Serif', serif">28</text>
<rect x="168.4" y="259.8" width="2.6" height="2.6" fill="#ececec" stroke="#888" stroke-width="0.2"/>
<text x="174.50" y="266.70" font-size="8.3" text-anchor="middle" font-family="'Liberation Serif', serif">26</text>
<rect x="177.4" y="279.8" width="2.6" height="2.6" fill="#ececec" stroke="#888" stroke-width="0.2"/>
<text x="183.50" y="286.70" font-size="8.3" text-anchor="middle" font-family="'Liberation Serif', serif">24</text>
<rect x="41.9" y="309.3" width="2.6" height="2.6" fill="#ececec" stroke="#888" stroke-width="0.2"/>
<text x="48.00" y="316.20" font-size="8.3" text-anchor="middle" font-family="'Liberation Serif', serif">22</text>
<rect x="176.4" y="308.8" width="2.6" height="2.6" fill="#ececec" stroke="#888" stroke-width="0.2"/>
<text x="182.50" y="315.70" font-size="8.3" text-anchor="middle" font-family="'Liberation Serif', serif">22</text>
<radialGradient id="ge" gradientUnits="userSpaceOnUse" cx="0" cy="0" r="1" gradientTransform="matrix(-7.777 179.055 -113.465 -4.898 347.01 197.02)"><stop offset="0.0000" stop-color="#ff0000"/><stop offset="0.0250" stop-color="#ff0000"/><stop offset="0.0500" stop-color="#ff0000"/><stop offset="0.0750" stop-color="#ff0000"/><stop offset="0.1000" stop-color="#ff0000"/><stop offset="0.1250" stop-color="#ff0000"/><stop offset="0.1500" stop-color="#ff0000"/><stop offset="0.1750" stop-color="#ff0200"/><stop offset="0.2000" stop-color="#ff0c00"/><stop offset="0.2250" stop-color="#ff1700"/><stop offset="0.2500" stop-color="#ff2300"/><stop offset="0.2750" stop-color="#ff3000"/><stop offset="0.3000" stop-color="#ff3e00"/><stop offset="0.3250" stop-color="#ff4e00"/><stop offset="0.3500" stop-color="#ff5f00"/><stop offset="0.3750" stop-color="#ff7100"/><stop offset="0.4000" stop-color="#ff8500"/><stop offset="0.4250" stop-color="#ff9a00"/><stop offset="0.4500" stop-color="#ffb000"/><stop offset="0.4750" stop-color="#ffc700"/><stop offset="0.5000" stop-color="#ffe000"/><stop offset="0.5250" stop-color="#fff900"/><stop offset="0.5500" stop-color="#ebff00"/><stop offset="0.5750" stop-color="#d0ff00"/><stop offset="0.6000" stop-color="#b4ff00"/><stop offset="0.6250" stop-color="#97ff00"/><stop offset="0.6500" stop-color="#79ff00"/><stop offset="0.6750" stop-color="#5aff00"/><stop offset="0.7000" stop-color="#39ff00"/><stop offset="0.7250" stop-color="#17ff00"/><stop offset="0.7500" stop-color="#00ff0c"/><stop offset="0.7750" stop-color="#00ff31"/><stop offset="0.8000" stop-color="#00ff57"/><stop offset="0.8250" stop-color="#00ff7f"/><stop offset="0.8500" stop-color="#00ffa7"/><stop offset="0.8750" stop-color="#00ffd1"/><stop offset="0.9000" stop-color="#00fffc"/><stop offset="0.9250" stop-color="#00ceff"/><stop offset="0.9500" stop-color="#0099ff"/><stop offset="0.9750" stop-color="#0062ff"/><stop offset="1.0000" stop-color="#002aff"/></radialGradient>
<clipPath id="ce"><rect x="270.75" y="181.3" width="146.64999999999998" height="146.2"/></clipPath>
<rect x="270.75" y="181.3" width="146.64999999999998" height="146.2" fill="url(#ge)"/>
<g clip-path="url(#ce)" fill="none" stroke="#1a1000" stroke-opacity="0.9" stroke-width="0.55">
<path d="M340.4 350.0 L335.3 349.5 L330.3 348.7 L325.3 347.4 L320.4 345.7 L315.5 343.7 L310.7 341.2 L306.1 338.3 L301.5 335.0 L297.1 331.4 L292.8 327.4 L288.7 323.0 L284.7 318.3 L280.9 313.2 L277.2 307.9 L273.8 302.2 L270.5 296.2 L267.5 290.0 L264.7 283.5 L262.1 276.8 L259.8 269.9 L257.6 262.7 L255.8 255.4 L254.1 247.9 L252.8 240.3 L251.7 232.6 L250.8 224.7 L250.2 216.8 L249.9 208.8 L249.9 200.8 L250.1 192.8 L250.6 184.8 L251.3 176.9 L252.3 169.0 L253.6 161.1 L255.1 153.4 L256.9 145.8 L258.9 138.3 L261.2 131.0 L263.7 123.9 L266.4 116.9 L269.3 110.2 L272.5 103.7 L275.9 97.5 L279.4 91.6 L283.2 85.9 L287.1 80.6 L291.2 75.5 L295.4 70.8 L299.8 66.5 L304.3 62.5 L308.9 58.8 L313.7 55.6 L318.5 52.7 L323.4 50.3 L328.3 48.2 L333.4 46.5 L338.4 45.3 L343.5 44.5 L348.6 44.1 L353.7 44.1 L358.7 44.5 L363.7 45.3 L368.7 46.6 L373.7 48.3 L378.5 50.4 L383.3 52.9 L387.9 55.7 L392.5 59.0 L396.9 62.6 L401.2 66.7 L405.4 71.0 L409.3 75.7 L413.2 80.8 L416.8 86.2 L420.2 91.8 L423.5 97.8 L426.5 104.0 L429.3 110.5 L431.9 117.2 L434.3 124.2 L436.4 131.3 L438.2 138.6 L439.9 146.1 L441.2 153.7 L442.3 161.5 L443.2 169.3 L443.8 177.2 L444.1 185.2 L444.1 193.2 L443.9 201.2 L443.4 209.2 L442.7 217.2 L441.7 225.1 L440.4 232.9 L438.9 240.6 L437.1 248.3 L435.1 255.7 L432.8 263.0 L430.3 270.2 L427.6 277.1 L424.7 283.8 L421.5 290.3 L418.1 296.5 L414.6 302.5 L410.8 308.1 L406.9 313.5 L402.8 318.5 L398.6 323.2 L394.2 327.6 L389.7 331.6 L385.1 335.2 L380.4 338.4 L375.5 341.3 L370.6 343.8 L365.7 345.8 L360.7 347.5 L355.6 348.7 L350.5 349.6 L345.4 350.0 L340.4 350.0Z"/>
<path d="M342.0 311.6 L338.2 311.3 L334.5 310.6 L330.7 309.7 L327.0 308.4 L323.4 306.9 L319.8 305.0 L316.3 302.8 L312.9 300.4 L309.6 297.7 L306.4 294.7 L303.3 291.4 L300.3 287.9 L297.5 284.1 L294.7 280.1 L292.2 275.8 L289.7 271.3 L287.5 266.7 L285.4 261.8 L283.4 256.8 L281.7 251.6 L280.1 246.2 L278.7 240.7 L277.5 235.1 L276.4 229.4 L275.6 223.6 L275.0 217.8 L274.5 211.8 L274.3 205.9 L274.3 199.9 L274.4 193.9 L274.8 187.9 L275.3 181.9 L276.1 176.0 L277.0 170.1 L278.2 164.3 L279.5 158.6 L281.0 153.0 L282.7 147.6 L284.6 142.2 L286.6 137.0 L288.8 132.0 L291.2 127.1 L293.7 122.5 L296.4 118.0 L299.2 113.8 L302.1 109.8 L305.2 106.0 L308.4 102.5 L311.6 99.2 L315.0 96.2 L318.5 93.5 L322.0 91.1 L325.6 88.9 L329.3 87.1 L333.0 85.6 L336.8 84.3 L340.6 83.4 L344.4 82.8 L348.2 82.5 L352.0 82.5 L355.8 82.8 L359.5 83.4 L363.3 84.4 L367.0 85.6 L370.6 87.2 L374.2 89.0 L377.7 91.2 L381.1 93.6 L384.4 96.4 L387.6 99.4 L390.7 102.6 L393.7 106.2 L396.6 110.0 L399.3 114.0 L401.9 118.2 L404.3 122.7 L406.6 127.4 L408.7 132.2 L410.6 137.3 L412.4 142.5 L413.9 147.8 L415.3 153.3 L416.6 158.9 L417.6 164.6 L418.4 170.4 L419.0 176.3 L419.5 182.2 L419.7 188.2 L419.8 194.2 L419.6 200.2 L419.2 206.1 L418.7 212.1 L417.9 218.0 L417.0 223.9 L415.8 229.7 L414.5 235.4 L413.0 241.0 L411.3 246.5 L409.4 251.8 L407.4 257.0 L405.2 262.0 L402.8 266.9 L400.3 271.5 L397.6 276.0 L394.8 280.2 L391.9 284.2 L388.8 288.0 L385.7 291.5 L382.4 294.8 L379.0 297.8 L375.5 300.5 L372.0 302.9 L368.4 305.1 L364.7 306.9 L361.0 308.5 L357.2 309.7 L353.4 310.7 L349.6 311.3 L345.8 311.6 L342.0 311.6Z"/>
<path d="M344.7 250.4 L342.9 250.3 L341.2 250.0 L339.4 249.6 L337.7 249.0 L336.0 248.2 L334.3 247.4 L332.7 246.4 L331.1 245.2 L329.6 244.0 L328.1 242.6 L326.6 241.0 L325.2 239.4 L323.9 237.6 L322.6 235.7 L321.4 233.8 L320.3 231.7 L319.2 229.5 L318.3 227.2 L317.3 224.9 L316.5 222.5 L315.8 220.0 L315.1 217.4 L314.6 214.8 L314.1 212.1 L313.7 209.4 L313.4 206.7 L313.2 203.9 L313.1 201.1 L313.1 198.4 L313.2 195.6 L313.3 192.8 L313.6 190.0 L313.9 187.2 L314.4 184.5 L314.9 181.8 L315.5 179.1 L316.2 176.5 L317.0 173.9 L317.9 171.5 L318.8 169.0 L319.9 166.7 L321.0 164.4 L322.2 162.3 L323.4 160.2 L324.7 158.2 L326.1 156.3 L327.5 154.6 L329.0 152.9 L330.5 151.4 L332.1 150.0 L333.7 148.7 L335.4 147.6 L337.0 146.6 L338.8 145.8 L340.5 145.0 L342.2 144.5 L344.0 144.0 L345.8 143.7 L347.6 143.6 L349.3 143.6 L351.1 143.7 L352.9 144.0 L354.6 144.5 L356.3 145.1 L358.0 145.8 L359.7 146.7 L361.3 147.7 L362.9 148.8 L364.4 150.1 L365.9 151.5 L367.4 153.0 L368.8 154.7 L370.1 156.4 L371.4 158.3 L372.6 160.3 L373.7 162.4 L374.8 164.5 L375.8 166.8 L376.7 169.1 L377.5 171.6 L378.2 174.1 L378.9 176.6 L379.4 179.2 L379.9 181.9 L380.3 184.6 L380.6 187.3 L380.8 190.1 L380.9 192.9 L380.9 195.7 L380.9 198.5 L380.7 201.3 L380.4 204.1 L380.1 206.8 L379.6 209.6 L379.1 212.3 L378.5 214.9 L377.8 217.5 L377.0 220.1 L376.1 222.6 L375.2 225.0 L374.1 227.3 L373.0 229.6 L371.9 231.8 L370.6 233.9 L369.3 235.8 L367.9 237.7 L366.5 239.5 L365.0 241.1 L363.5 242.6 L361.9 244.0 L360.3 245.3 L358.7 246.4 L357.0 247.4 L355.3 248.3 L353.5 249.0 L351.8 249.6 L350.0 250.0 L348.2 250.3 L346.5 250.4 L344.7 250.4Z"/>
</g>
<rect x="270.75" y="181.3" width="146.64999999999998" height="146.2" fill="none" stroke="#000" stroke-opacity="0.3" stroke-width="0.6"/>
<path d="M270.75 327.5v2.5" stroke="#222" stroke-width="0.6"/>
<text x="270.75" y="338.40" font-size="9.0" text-anchor="middle" font-family="'Liberation Serif', serif">30</text>
<path d="M307.41 327.5v2.5" stroke="#222" stroke-width="0.6"/>
<text x="307.41" y="338.40" font-size="9.0" text-anchor="middle" font-family="'Liberation Serif', serif">35</text>
<path d="M344.07 327.5v2.5" stroke="#222" stroke-width="0.6"/>
<text x="344.07" y="338.40" font-size="9.0" text-anchor="middle" font-family="'Liberation Serif', serif">40</text>
<path d="M380.74 327.5v2.5" stroke="#222" stroke-width="0.6"/>
<text x="380.74" y="338.40" font-size="9.0" text-anchor="middle" font-family="'Liberation Serif', serif">45</text>
<path d="M417.40 327.5v2.5" stroke="#222" stroke-width="0.6"/>
<text x="417.40" y="338.40" font-size="9.0" text-anchor="middle" font-family="'Liberation Serif', serif">50</text>
<path d="M270.75 327.50h-2.5" stroke="#222" stroke-width="0.6"/>
<text x="266.45" y="331.10" font-size="9.0" text-anchor="end" font-family="'Liberation Serif', serif">48</text>
<path d="M270.75 290.95h-2.5" stroke="#222" stroke-width="0.6"/>
<text x="266.45" y="294.55" font-size="9.0" text-anchor="end" font-family="'Liberation Serif', serif">54</text>
<path d="M270.75 254.40h-2.5" stroke="#222" stroke-width="0.6"/>
<text x="266.45" y="258.00" font-size="9.0" text-anchor="end" font-family="'Liberation Serif', serif">60</text>
<path d="M270.75 217.85h-2.5" stroke="#222" stroke-width="0.6"/>
<text x="266.45" y="221.45" font-size="9.0" text-anchor="end" font-family="'Liberation Serif', serif">66</text>
<path d="M270.75 181.30h-2.5" stroke="#222" stroke-width="0.6"/>
<text x="266.45" y="184.90" font-size="9.6" text-anchor="end" font-family="'Liberation Serif', serif" font-weight="normal" style="stroke-width:.12px" fill="#0a0a14">90</text>
<text x="345.60" y="347.79" font-size="8.65" text-anchor="middle" font-family="'Liberation Serif', serif">A: Temperature (ºC)</text>
<text x="254.08" y="255.60" font-size="8.6" text-anchor="middle" font-family="'Liberation Serif', serif" transform="rotate(-90 254.08 255.60)">C: Time (h)</text>
<text x="345.50" y="177.19" font-size="8.25" text-anchor="middle" font-family="'Liberation Serif', serif">Reducing sugar content (g/L)</text>
<text x="237.50" y="178.10" font-size="12" text-anchor="start" font-family="'Liberation Sans', serif">(e)</text>
<circle cx="270.75" cy="327.50" r="1.6" fill="#b0000c"/>
<circle cx="270.75" cy="181.30" r="1.6" fill="#b0000c"/>
<circle cx="417.40" cy="327.50" r="1.6" fill="#b0000c"/>
<circle cx="417.40" cy="181.30" r="1.6" fill="#b0000c"/>
<circle cx="344.38" cy="254.70" r="1.4" fill="#c00010"/>
<text x="340.68" y="260.60" font-size="8.3" text-anchor="middle" font-family="'Liberation Serif', serif">5</text>
<rect x="343.9" y="248.3" width="2.6" height="2.6" fill="#ececec" stroke="#888" stroke-width="0.2"/>
<text x="350.00" y="255.20" font-size="8.3" text-anchor="middle" font-family="'Liberation Serif', serif">30</text>
<rect x="322.9" y="306.3" width="2.6" height="2.6" fill="#ececec" stroke="#888" stroke-width="0.2"/>
<text x="329.00" y="313.20" font-size="8.3" text-anchor="middle" font-family="'Liberation Serif', serif">25</text>
<rect x="276.4" y="309.8" width="2.6" height="2.6" fill="#ececec" stroke="#888" stroke-width="0.2"/>
<text x="282.50" y="316.70" font-size="8.3" text-anchor="middle" font-family="'Liberation Serif', serif">20</text>
<rect x="403.9" y="309.3" width="2.6" height="2.6" fill="#ececec" stroke="#888" stroke-width="0.2"/>
<text x="410.00" y="316.20" font-size="8.3" text-anchor="middle" font-family="'Liberation Serif', serif">20</text>
<radialGradient id="gf" gradientUnits="userSpaceOnUse" cx="0" cy="0" r="1" gradientTransform="matrix(-230.541 -68.384 45.209 -152.099 590.70 200.95)"><stop offset="0.0000" stop-color="#ff0000"/><stop offset="0.0250" stop-color="#ff0000"/><stop offset="0.0500" stop-color="#ff0000"/><stop offset="0.0750" stop-color="#ff0000"/><stop offset="0.1000" stop-color="#ff0000"/><stop offset="0.1250" stop-color="#ff0000"/><stop offset="0.1500" stop-color="#ff0000"/><stop offset="0.1750" stop-color="#ff0000"/><stop offset="0.2000" stop-color="#ff0000"/><stop offset="0.2250" stop-color="#ff0000"/><stop offset="0.2500" stop-color="#ff0700"/><stop offset="0.2750" stop-color="#ff1200"/><stop offset="0.3000" stop-color="#ff1e00"/><stop offset="0.3250" stop-color="#ff2b00"/><stop offset="0.3500" stop-color="#ff3800"/><stop offset="0.3750" stop-color="#ff4700"/><stop offset="0.4000" stop-color="#ff5700"/><stop offset="0.4250" stop-color="#ff6800"/><stop offset="0.4500" stop-color="#ff7a00"/><stop offset="0.4750" stop-color="#ff8d00"/><stop offset="0.5000" stop-color="#ffa100"/><stop offset="0.5250" stop-color="#ffb700"/><stop offset="0.5500" stop-color="#ffcd00"/><stop offset="0.5750" stop-color="#ffe400"/><stop offset="0.6000" stop-color="#fffc00"/><stop offset="0.6250" stop-color="#eaff00"/><stop offset="0.6500" stop-color="#d1ff00"/><stop offset="0.6750" stop-color="#b8ff00"/><stop offset="0.7000" stop-color="#9dff00"/><stop offset="0.7250" stop-color="#82ff00"/><stop offset="0.7500" stop-color="#65ff00"/><stop offset="0.7750" stop-color="#48ff00"/><stop offset="0.8000" stop-color="#29ff00"/><stop offset="0.8250" stop-color="#0aff00"/><stop offset="0.8500" stop-color="#00ff17"/><stop offset="0.8750" stop-color="#00ff3a"/><stop offset="0.9000" stop-color="#00ff5d"/><stop offset="0.9250" stop-color="#00ff81"/><stop offset="0.9500" stop-color="#00ffa6"/><stop offset="0.9750" stop-color="#00ffcc"/><stop offset="1.0000" stop-color="#00fff3"/></radialGradient>
<clipPath id="cf"><rect x="490.75" y="181.3" width="146.35000000000002" height="146.2"/></clipPath>
<rect x="490.75" y="181.3" width="146.35000000000002" height="146.2" fill="url(#gf)"/>
<g clip-path="url(#cf)" fill="none" stroke="#1a1000" stroke-opacity="0.9" stroke-width="0.55">
<path d="M370.5 135.6 L373.0 128.1 L376.2 120.8 L379.9 113.7 L384.3 106.8 L389.1 100.2 L394.6 93.9 L400.6 87.9 L407.1 82.2 L414.1 76.8 L421.6 71.7 L429.5 67.0 L437.9 62.7 L446.7 58.7 L455.9 55.2 L465.5 52.0 L475.4 49.3 L485.7 46.9 L496.2 45.0 L507.0 43.5 L518.0 42.5 L529.2 41.8 L540.6 41.6 L552.1 41.9 L563.7 42.6 L575.4 43.7 L587.2 45.2 L598.9 47.2 L610.6 49.6 L622.3 52.4 L633.9 55.6 L645.4 59.3 L656.7 63.3 L667.8 67.7 L678.7 72.4 L689.4 77.5 L699.8 82.9 L709.9 88.7 L719.7 94.8 L729.2 101.1 L738.2 107.8 L746.9 114.7 L755.1 121.8 L762.9 129.1 L770.2 136.7 L777.0 144.4 L783.3 152.3 L789.0 160.3 L794.3 168.4 L798.9 176.6 L803.0 184.9 L806.5 193.2 L809.5 201.5 L811.8 209.9 L813.5 218.2 L814.6 226.4 L815.1 234.6 L815.0 242.7 L814.2 250.7 L812.9 258.6 L810.9 266.3 L808.4 273.8 L805.2 281.1 L801.5 288.2 L797.1 295.1 L792.3 301.7 L786.8 308.0 L780.8 314.0 L774.3 319.7 L767.3 325.1 L759.8 330.2 L751.9 334.9 L743.5 339.2 L734.7 343.2 L725.5 346.7 L715.9 349.9 L706.0 352.6 L695.7 355.0 L685.2 356.9 L674.4 358.4 L663.4 359.4 L652.2 360.1 L640.8 360.3 L629.3 360.0 L617.7 359.3 L606.0 358.2 L594.2 356.7 L582.5 354.7 L570.8 352.3 L559.1 349.5 L547.5 346.3 L536.0 342.6 L524.7 338.6 L513.6 334.2 L502.7 329.5 L492.0 324.4 L481.6 319.0 L471.5 313.2 L461.7 307.1 L452.2 300.8 L443.2 294.1 L434.5 287.2 L426.3 280.1 L418.5 272.8 L411.2 265.2 L404.4 257.5 L398.1 249.6 L392.4 241.6 L387.1 233.5 L382.5 225.3 L378.4 217.0 L374.9 208.7 L371.9 200.4 L369.6 192.0 L367.9 183.7 L366.8 175.5 L366.3 167.3 L366.4 159.2 L367.2 151.2 L368.5 143.3 L370.5 135.6Z"/>
<path d="M390.3 141.5 L392.6 134.7 L395.5 128.0 L398.9 121.5 L402.8 115.3 L407.3 109.3 L412.2 103.5 L417.7 98.1 L423.6 92.9 L430.0 88.0 L436.8 83.4 L444.0 79.1 L451.7 75.1 L459.7 71.5 L468.1 68.3 L476.8 65.4 L485.8 62.9 L495.1 60.8 L504.7 59.0 L514.5 57.7 L524.5 56.7 L534.7 56.1 L545.1 56.0 L555.6 56.2 L566.1 56.8 L576.8 57.8 L587.5 59.3 L598.2 61.1 L608.8 63.2 L619.5 65.8 L630.0 68.7 L640.4 72.0 L650.7 75.7 L660.9 79.7 L670.8 84.0 L680.5 88.6 L690.0 93.6 L699.2 98.8 L708.1 104.3 L716.7 110.1 L724.9 116.2 L732.8 122.4 L740.3 128.9 L747.4 135.6 L754.0 142.5 L760.2 149.5 L765.9 156.7 L771.2 163.9 L775.9 171.3 L780.2 178.8 L783.9 186.3 L787.1 193.9 L789.8 201.5 L791.9 209.1 L793.5 216.6 L794.5 224.2 L794.9 231.6 L794.8 239.0 L794.1 246.3 L792.9 253.4 L791.1 260.4 L788.8 267.2 L785.9 273.9 L782.5 280.4 L778.6 286.6 L774.1 292.6 L769.2 298.4 L763.7 303.8 L757.8 309.0 L751.4 314.0 L744.6 318.5 L737.4 322.8 L729.7 326.8 L721.7 330.4 L713.3 333.6 L704.6 336.5 L695.6 339.0 L686.3 341.1 L676.7 342.9 L666.9 344.2 L656.9 345.2 L646.7 345.8 L636.3 345.9 L625.8 345.7 L615.3 345.1 L604.6 344.1 L593.9 342.6 L583.2 340.9 L572.6 338.7 L561.9 336.1 L551.4 333.2 L541.0 329.9 L530.7 326.2 L520.5 322.3 L510.6 317.9 L500.9 313.3 L491.4 308.3 L482.2 303.1 L473.3 297.6 L464.7 291.8 L456.5 285.7 L448.6 279.5 L441.1 273.0 L434.0 266.3 L427.4 259.4 L421.2 252.4 L415.5 245.2 L410.2 238.0 L405.5 230.6 L401.2 223.1 L397.5 215.6 L394.3 208.0 L391.6 200.4 L389.5 192.8 L387.9 185.3 L386.9 177.7 L386.5 170.3 L386.6 162.9 L387.3 155.6 L388.5 148.5 L390.3 141.5Z"/>
<path d="M412.3 148.0 L414.4 141.9 L416.9 136.0 L420.0 130.3 L423.5 124.7 L427.4 119.4 L431.8 114.2 L436.7 109.4 L441.9 104.7 L447.6 100.4 L453.7 96.3 L460.1 92.5 L466.9 88.9 L474.1 85.7 L481.5 82.9 L489.3 80.3 L497.3 78.1 L505.6 76.2 L514.1 74.6 L522.9 73.4 L531.8 72.5 L540.9 72.0 L550.1 71.9 L559.4 72.1 L568.8 72.6 L578.3 73.6 L587.8 74.8 L597.3 76.4 L606.8 78.4 L616.3 80.6 L625.7 83.2 L635.0 86.2 L644.1 89.4 L653.2 93.0 L662.0 96.8 L670.7 100.9 L679.1 105.4 L687.3 110.0 L695.2 114.9 L702.9 120.1 L710.2 125.5 L717.2 131.1 L723.9 136.8 L730.2 142.8 L736.1 148.9 L741.6 155.1 L746.7 161.5 L751.4 168.0 L755.6 174.6 L759.4 181.2 L762.7 187.9 L765.6 194.7 L767.9 201.4 L769.8 208.2 L771.2 214.9 L772.1 221.6 L772.5 228.2 L772.4 234.8 L771.8 241.3 L770.7 247.6 L769.1 253.9 L767.0 260.0 L764.5 265.9 L761.4 271.6 L757.9 277.2 L754.0 282.5 L749.6 287.7 L744.7 292.5 L739.5 297.2 L733.8 301.5 L727.7 305.6 L721.3 309.4 L714.5 313.0 L707.3 316.2 L699.9 319.0 L692.1 321.6 L684.1 323.8 L675.8 325.7 L667.3 327.3 L658.5 328.5 L649.6 329.4 L640.5 329.9 L631.3 330.0 L622.0 329.8 L612.6 329.3 L603.1 328.3 L593.6 327.1 L584.1 325.5 L574.6 323.5 L565.1 321.3 L555.7 318.7 L546.4 315.7 L537.3 312.5 L528.2 308.9 L519.4 305.1 L510.7 301.0 L502.3 296.5 L494.1 291.9 L486.2 287.0 L478.5 281.8 L471.2 276.4 L464.2 270.8 L457.5 265.1 L451.2 259.1 L445.3 253.0 L439.8 246.8 L434.7 240.4 L430.0 233.9 L425.8 227.3 L422.0 220.7 L418.7 214.0 L415.8 207.2 L413.5 200.5 L411.6 193.7 L410.2 187.0 L409.3 180.3 L408.9 173.7 L409.0 167.1 L409.6 160.6 L410.7 154.3 L412.3 148.0Z"/>
<path d="M437.4 155.5 L439.2 150.3 L441.4 145.2 L444.0 140.2 L447.0 135.4 L450.4 130.9 L454.2 126.5 L458.4 122.3 L462.9 118.3 L467.8 114.5 L473.0 111.0 L478.5 107.7 L484.4 104.7 L490.5 102.0 L496.9 99.5 L503.6 97.3 L510.5 95.4 L517.6 93.7 L524.9 92.4 L532.4 91.4 L540.1 90.6 L547.9 90.2 L555.8 90.1 L563.8 90.2 L571.9 90.7 L580.1 91.5 L588.2 92.6 L596.4 94.0 L604.6 95.6 L612.7 97.6 L620.8 99.8 L628.7 102.3 L636.6 105.1 L644.4 108.2 L652.0 111.5 L659.4 115.0 L666.7 118.8 L673.7 122.8 L680.5 127.1 L687.1 131.5 L693.4 136.1 L699.4 140.9 L705.1 145.9 L710.5 151.0 L715.6 156.2 L720.3 161.6 L724.7 167.1 L728.7 172.6 L732.4 178.3 L735.6 184.0 L738.5 189.8 L740.9 195.6 L743.0 201.4 L744.6 207.2 L745.8 212.9 L746.5 218.7 L746.9 224.4 L746.8 230.0 L746.3 235.6 L745.4 241.1 L744.0 246.4 L742.2 251.7 L740.0 256.7 L737.4 261.7 L734.4 266.5 L731.0 271.0 L727.2 275.4 L723.0 279.6 L718.5 283.6 L713.6 287.4 L708.4 290.9 L702.9 294.2 L697.0 297.2 L690.9 299.9 L684.5 302.4 L677.8 304.6 L670.9 306.5 L663.8 308.2 L656.5 309.5 L649.0 310.5 L641.3 311.3 L633.5 311.7 L625.6 311.8 L617.6 311.7 L609.5 311.2 L601.3 310.4 L593.2 309.3 L585.0 308.0 L576.8 306.3 L568.7 304.3 L560.6 302.1 L552.7 299.6 L544.8 296.8 L537.0 293.7 L529.4 290.4 L522.0 286.9 L514.7 283.1 L507.7 279.1 L500.9 274.8 L494.3 270.4 L488.0 265.8 L482.0 261.0 L476.3 256.0 L470.9 250.9 L465.8 245.7 L461.1 240.3 L456.7 234.8 L452.7 229.3 L449.0 223.6 L445.8 217.9 L442.9 212.1 L440.5 206.4 L438.4 200.5 L436.8 194.7 L435.6 189.0 L434.9 183.2 L434.5 177.5 L434.6 171.9 L435.1 166.3 L436.0 160.8 L437.4 155.5Z"/>
<path d="M467.6 164.4 L469.0 160.2 L470.8 156.1 L472.9 152.2 L475.3 148.3 L478.0 144.6 L481.1 141.1 L484.4 137.7 L488.0 134.5 L491.9 131.5 L496.1 128.7 L500.6 126.1 L505.3 123.7 L510.2 121.4 L515.4 119.4 L520.7 117.7 L526.3 116.1 L532.0 114.8 L537.9 113.8 L543.9 112.9 L550.0 112.3 L556.3 112.0 L562.7 111.9 L569.1 112.0 L575.6 112.4 L582.2 113.0 L588.7 113.9 L595.3 115.0 L601.8 116.3 L608.4 117.9 L614.8 119.7 L621.3 121.7 L627.6 124.0 L633.8 126.4 L639.9 129.1 L645.9 131.9 L651.7 135.0 L657.4 138.2 L662.8 141.6 L668.1 145.1 L673.2 148.9 L678.0 152.7 L682.6 156.7 L687.0 160.8 L691.0 165.0 L694.8 169.3 L698.4 173.7 L701.6 178.2 L704.5 182.7 L707.1 187.3 L709.4 192.0 L711.4 196.6 L713.0 201.3 L714.3 205.9 L715.3 210.6 L715.9 215.2 L716.2 219.8 L716.1 224.3 L715.7 228.8 L714.9 233.2 L713.8 237.5 L712.4 241.7 L710.6 245.8 L708.5 249.7 L706.1 253.6 L703.4 257.3 L700.3 260.8 L697.0 264.2 L693.4 267.4 L689.5 270.4 L685.3 273.2 L680.8 275.8 L676.1 278.2 L671.2 280.5 L666.0 282.5 L660.7 284.2 L655.1 285.8 L649.4 287.1 L643.5 288.1 L637.5 289.0 L631.4 289.6 L625.1 289.9 L618.7 290.0 L612.3 289.9 L605.8 289.5 L599.2 288.9 L592.7 288.0 L586.1 286.9 L579.6 285.6 L573.0 284.0 L566.6 282.2 L560.1 280.2 L553.8 277.9 L547.6 275.5 L541.5 272.8 L535.5 270.0 L529.7 266.9 L524.0 263.7 L518.6 260.3 L513.3 256.8 L508.2 253.0 L503.4 249.2 L498.8 245.2 L494.4 241.1 L490.4 236.9 L486.6 232.6 L483.0 228.2 L479.8 223.7 L476.9 219.2 L474.3 214.6 L472.0 209.9 L470.0 205.3 L468.4 200.6 L467.1 196.0 L466.1 191.3 L465.5 186.7 L465.2 182.1 L465.3 177.6 L465.7 173.1 L466.5 168.7 L467.6 164.4Z"/>
<path d="M508.1 176.4 L509.0 173.6 L510.2 170.9 L511.6 168.2 L513.3 165.6 L515.1 163.2 L517.1 160.8 L519.4 158.5 L521.8 156.4 L524.4 154.4 L527.2 152.5 L530.2 150.7 L533.4 149.1 L536.7 147.6 L540.1 146.3 L543.7 145.1 L547.5 144.0 L551.3 143.2 L555.2 142.4 L559.3 141.9 L563.4 141.5 L567.6 141.3 L571.9 141.2 L576.2 141.3 L580.6 141.5 L585.0 142.0 L589.4 142.5 L593.8 143.3 L598.2 144.2 L602.6 145.2 L606.9 146.4 L611.2 147.8 L615.4 149.3 L619.6 150.9 L623.7 152.7 L627.7 154.6 L631.6 156.7 L635.4 158.8 L639.1 161.1 L642.6 163.5 L646.0 166.0 L649.3 168.6 L652.4 171.3 L655.3 174.0 L658.0 176.8 L660.6 179.7 L662.9 182.7 L665.1 185.7 L667.1 188.7 L668.8 191.8 L670.4 194.9 L671.7 198.0 L672.8 201.2 L673.6 204.3 L674.3 207.4 L674.7 210.5 L674.9 213.6 L674.8 216.6 L674.6 219.6 L674.1 222.6 L673.3 225.5 L672.4 228.3 L671.2 231.0 L669.8 233.7 L668.1 236.3 L666.3 238.7 L664.3 241.1 L662.0 243.4 L659.6 245.5 L657.0 247.5 L654.2 249.4 L651.2 251.2 L648.0 252.8 L644.7 254.3 L641.3 255.6 L637.7 256.8 L633.9 257.9 L630.1 258.7 L626.2 259.5 L622.1 260.0 L618.0 260.4 L613.8 260.6 L609.5 260.7 L605.2 260.6 L600.8 260.4 L596.4 259.9 L592.0 259.4 L587.6 258.6 L583.2 257.7 L578.8 256.7 L574.5 255.5 L570.2 254.1 L565.9 252.6 L561.8 251.0 L557.7 249.2 L553.7 247.3 L549.8 245.2 L546.0 243.1 L542.3 240.8 L538.8 238.4 L535.4 235.9 L532.1 233.3 L529.0 230.6 L526.1 227.9 L523.4 225.1 L520.8 222.2 L518.5 219.2 L516.3 216.2 L514.3 213.2 L512.6 210.1 L511.0 207.0 L509.7 203.9 L508.6 200.7 L507.8 197.6 L507.1 194.5 L506.7 191.4 L506.5 188.3 L506.6 185.3 L506.8 182.3 L507.3 179.3 L508.1 176.4Z"/>
</g>
<rect x="490.75" y="181.3" width="146.35000000000002" height="146.2" fill="none" stroke="#000" stroke-opacity="0.3" stroke-width="0.6"/>
<path d="M490.75 327.5v2.5" stroke="#222" stroke-width="0.6"/>
<text x="490.75" y="338.40" font-size="9.0" text-anchor="middle" font-family="'Liberation Serif', serif">4</text>
<path d="M527.34 327.5v2.5" stroke="#222" stroke-width="0.6"/>
<text x="527.34" y="338.40" font-size="9.0" text-anchor="middle" font-family="'Liberation Serif', serif">4.5</text>
<path d="M563.92 327.5v2.5" stroke="#222" stroke-width="0.6"/>
<text x="563.92" y="338.40" font-size="9.0" text-anchor="middle" font-family="'Liberation Serif', serif">5</text>
<path d="M600.51 327.5v2.5" stroke="#222" stroke-width="0.6"/>
<text x="600.51" y="338.40" font-size="9.0" text-anchor="middle" font-family="'Liberation Serif', serif">5.5</text>
<path d="M637.10 327.5v2.5" stroke="#222" stroke-width="0.6"/>
<text x="637.10" y="338.40" font-size="9.0" text-anchor="middle" font-family="'Liberation Serif', serif">6</text>
<path d="M490.75 327.50h-2.5" stroke="#222" stroke-width="0.6"/>
<text x="485.75" y="331.00" font-size="9.0" text-anchor="end" font-family="'Liberation Serif', serif">48</text>
<path d="M490.75 290.95h-2.5" stroke="#222" stroke-width="0.6"/>
<text x="485.75" y="294.45" font-size="9.0" text-anchor="end" font-family="'Liberation Serif', serif">54</text>
<path d="M490.75 254.40h-2.5" stroke="#222" stroke-width="0.6"/>
<text x="485.75" y="257.90" font-size="9.0" text-anchor="end" font-family="'Liberation Serif', serif">60</text>
<path d="M490.75 217.85h-2.5" stroke="#222" stroke-width="0.6"/>
<text x="485.75" y="221.35" font-size="9.0" text-anchor="end" font-family="'Liberation Serif', serif">66</text>
<path d="M490.75 181.30h-2.5" stroke="#222" stroke-width="0.6"/>
<text x="485.75" y="184.80" font-size="9.0" text-anchor="end" font-family="'Liberation Serif', serif">72</text>
<text x="565.60" y="346.76" font-size="8.53" text-anchor="middle" font-family="'Liberation Serif', serif">B: Enzyme concentration (%)</text>
<text x="473.04" y="250.50" font-size="8.45" text-anchor="middle" font-family="'Liberation Serif', serif" transform="rotate(-90 473.04 250.50)">C: Time (h)</text>
<text x="564.00" y="176.78" font-size="8.6" text-anchor="middle" font-family="'Liberation Serif', serif">Reducing sugar content (g/L)</text>
<text x="459.00" y="178.10" font-size="12.5" text-anchor="start" font-family="'Liberation Serif', serif">(f)</text>
<circle cx="490.75" cy="327.50" r="1.6" fill="#b0000c"/>
<circle cx="490.75" cy="181.30" r="1.6" fill="#b0000c"/>
<circle cx="637.10" cy="327.50" r="1.6" fill="#b0000c"/>
<circle cx="637.10" cy="181.30" r="1.6" fill="#b0000c"/>
<circle cx="564.22" cy="254.70" r="1.4" fill="#c00010"/>
<text x="560.52" y="260.60" font-size="8.3" text-anchor="middle" font-family="'Liberation Serif', serif">5</text>
<rect x="546.4" y="241.3" width="2.6" height="2.6" fill="#ececec" stroke="#888" stroke-width="0.2"/>
<text x="552.50" y="248.20" font-size="8.3" text-anchor="middle" font-family="'Liberation Serif', serif">30</text>
<rect x="548.4" y="272.8" width="2.6" height="2.6" fill="#ececec" stroke="#888" stroke-width="0.2"/>
<text x="554.50" y="279.70" font-size="8.3" text-anchor="middle" font-family="'Liberation Serif', serif">28</text>
<rect x="550.4" y="295.3" width="2.6" height="2.6" fill="#ececec" stroke="#888" stroke-width="0.2"/>
<text x="556.50" y="302.20" font-size="8.3" text-anchor="middle" font-family="'Liberation Serif', serif">26</text>
<rect x="535.4" y="308.8" width="2.6" height="2.6" fill="#ececec" stroke="#888" stroke-width="0.2"/>
<text x="541.50" y="315.70" font-size="8.3" text-anchor="middle" font-family="'Liberation Serif', serif">24</text>
<rect x="507.4" y="314.3" width="2.6" height="2.6" fill="#ececec" stroke="#888" stroke-width="0.2"/>
<text x="513.50" y="321.20" font-size="8.3" text-anchor="middle" font-family="'Liberation Serif', serif">22</text>
<rect x="491.9" y="318.8" width="2.6" height="2.6" fill="#ececec" stroke="#888" stroke-width="0.2"/>
<text x="498.00" y="325.70" font-size="8.3" text-anchor="middle" font-family="'Liberation Serif', serif">20</text>
</svg>
</body></html>
